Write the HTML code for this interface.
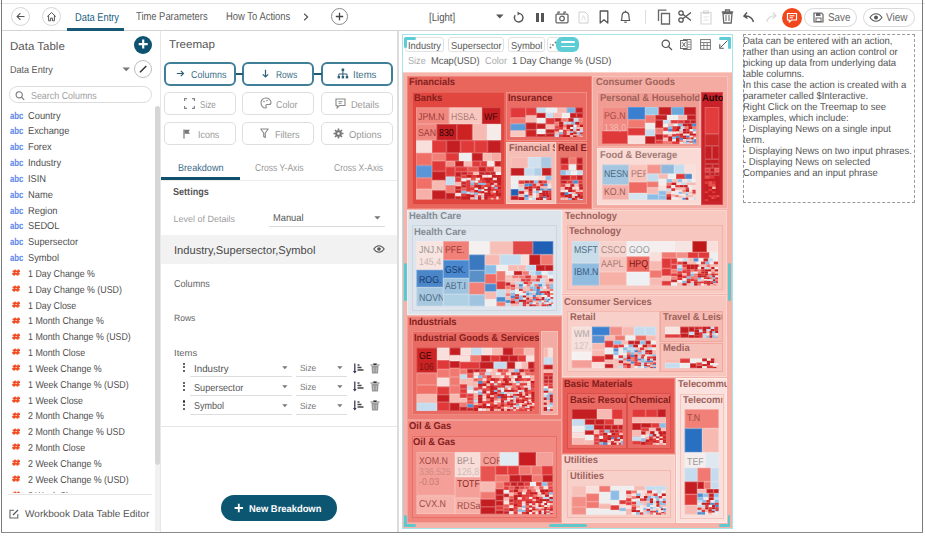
<!DOCTYPE html>
<html><head><meta charset="utf-8">
<style>
*{box-sizing:border-box;margin:0;padding:0}
html,body{width:925px;height:536px;overflow:hidden;background:#fff;font-family:"Liberation Sans",sans-serif;color:#444}
.a{position:absolute}
.t{position:absolute;white-space:nowrap;line-height:1;transform-origin:0 0;text-rendering:geometricPrecision}
svg{overflow:visible}
</style></head><body>

<div class="a" style="left:0.0px;top:3.0px;width:925.0px;height:1.0px;background:#e4e4e4;"></div>
<div class="a" style="left:1.0px;top:0.0px;width:1.0px;height:533.0px;background:#7a7a7a;"></div>
<div class="a" style="left:922.0px;top:0.0px;width:1.0px;height:533.0px;background:#7a7a7a;"></div>
<div class="a" style="left:1.0px;top:532.0px;width:922.0px;height:1.0px;background:#8a8a8a;"></div>
<div class="a" style="left:2.0px;top:30.0px;width:920.0px;height:1.0px;background:#d4d4d4;"></div>
<div class="a" style="left:11.0px;top:7.0px;width:19.0px;height:19.0px;border:1px solid #d6d6d6;border-radius:50%;"></div>
<div class="a" style="left:42.0px;top:7.0px;width:19.0px;height:19.0px;border:1px solid #d6d6d6;border-radius:50%;"></div>
<svg class="a" style="left:14px;top:10px;" width="13" height="13" viewBox="0 0 13 13"><path d="M10.5 6.5H3.2M6.4 3.2L3.1 6.5L6.4 9.8" stroke="#555" stroke-width="1.1" fill="none"/></svg>
<svg class="a" style="left:45px;top:10px;" width="13" height="13" viewBox="0 0 13 13"><path d="M2.2 6.6L6.5 2.6L10.8 6.6M3.6 5.4V10.8H5.6V8.1H7.4V10.8H9.4V5.4" stroke="#555" stroke-width="1" fill="none"/></svg>
<div class="t" style="left:74.5px;top:13.00px;font-size:11.30px;color:#20607f;transform:scaleX(0.824);">Data Entry</div>
<div class="a" style="left:67.0px;top:28.0px;width:57.0px;height:3.0px;background:#175874;"></div>
<div class="t" style="left:136.4px;top:12.00px;font-size:11.30px;color:#5a5a5a;transform:scaleX(0.831);">Time Parameters</div>
<div class="t" style="left:225.6px;top:12.00px;font-size:11.30px;color:#5a5a5a;transform:scaleX(0.835);">How To Actions</div>
<svg class="a" style="left:302px;top:12px;" width="8" height="10" viewBox="0 0 8 10"><path d="M2.2 1.8L5.6 5L2.2 8.2" stroke="#555" stroke-width="1.2" fill="none"/></svg>
<div class="a" style="left:331.0px;top:8.0px;width:17.0px;height:17.0px;border:1px solid #8a8a8a;border-radius:50%;"></div>
<svg class="a" style="left:333px;top:10px;" width="13" height="13" viewBox="0 0 13 13"><path d="M6.5 2.8V10.2M2.8 6.5H10.2" stroke="#444" stroke-width="1.3"/></svg>
<div class="t" style="left:429.0px;top:13.00px;font-size:11.30px;color:#555;transform:scaleX(0.851);">[Light]</div>
<svg class="a" style="left:496px;top:14px;" width="8" height="5" viewBox="0 0 8 5"><path d="M0 0.5H7.5L3.75 4.5Z" fill="#555"/></svg>
<svg class="a" style="left:512px;top:11px;" width="13" height="13" viewBox="0 0 13 13"><path d="M3.2 4.2A4.3 4.3 0 1 0 6.5 2.4" stroke="#555" stroke-width="1.4" fill="none"/><path d="M5.5 0.6L8.2 2.6L5.6 4.6Z" fill="#555"/></svg>
<div class="a" style="left:536.4px;top:13.3px;width:2.3px;height:8.7px;background:#555;"></div>
<div class="a" style="left:541.3px;top:13.3px;width:2.3px;height:8.7px;background:#555;"></div>
<svg class="a" style="left:555px;top:11px;" width="14" height="13" viewBox="0 0 14 13"><rect x="1" y="3.2" width="12" height="8.6" rx="1" stroke="#666" stroke-width="1.3" fill="none"/><circle cx="7" cy="7.5" r="2.3" stroke="#666" stroke-width="1.3" fill="none"/><path d="M3 3V1.2H5M9 3V1.2H11" stroke="#666" stroke-width="1.2" fill="none"/></svg>
<svg class="a" style="left:578px;top:11px;" width="11" height="13" viewBox="0 0 11 13"><path d="M1 1H7L10 4V12H1Z" stroke="#d0d0d0" stroke-width="1" fill="none"/><path d="M3.5 9.5L5.5 4.5L7.5 9.5" stroke="#d8d8d8" stroke-width="0.8" fill="none"/></svg>
<svg class="a" style="left:599px;top:10px;" width="10" height="14" viewBox="0 0 10 14"><path d="M1.2 1H8.8V13L5 9.8L1.2 13Z" stroke="#555" stroke-width="1.3" fill="none" stroke-linejoin="round"/></svg>
<svg class="a" style="left:619px;top:10px;" width="13" height="14" viewBox="0 0 13 14"><path d="M2.2 10.5C3 9.5 3 8 3 6.5C3 4 4.5 2.2 6.5 2.2C8.5 2.2 10 4 10 6.5C10 8 10 9.5 10.8 10.5Z" stroke="#555" stroke-width="1.2" fill="none" stroke-linejoin="round"/><path d="M5.3 12.2H7.7" stroke="#555" stroke-width="1.2"/><path d="M6.5 0.6V2" stroke="#555" stroke-width="1.2"/></svg>
<div class="a" style="left:645.0px;top:10.0px;width:1.0px;height:14.0px;background:#dedede;"></div>
<svg class="a" style="left:657px;top:9px;" width="14" height="16" viewBox="0 0 14 16"><path d="M4.5 4.5H12.5V15H4.5Z" stroke="#666" stroke-width="1.3" fill="none"/><path d="M1.5 12V1.2H9.5" stroke="#666" stroke-width="1.3" fill="none"/></svg>
<svg class="a" style="left:678px;top:10px;" width="14" height="13" viewBox="0 0 14 13"><circle cx="3" cy="3" r="2.2" stroke="#555" stroke-width="1.3" fill="none"/><circle cx="3" cy="10" r="2.2" stroke="#555" stroke-width="1.3" fill="none"/><path d="M4.8 4.3L13 10.5M4.8 8.7L13 2.5" stroke="#555" stroke-width="1.3"/></svg>
<svg class="a" style="left:700px;top:10px;" width="12" height="15" viewBox="0 0 12 15"><path d="M1 2.5H11V14H1Z" stroke="#d6d6d6" stroke-width="1.2" fill="none"/><rect x="3.5" y="1" width="5" height="2.5" stroke="#d6d6d6" stroke-width="1" fill="none"/><path d="M3.5 7H8.5M3.5 10H8.5" stroke="#dedede" stroke-width="0.9"/></svg>
<svg class="a" style="left:721px;top:9px;" width="13" height="15" viewBox="0 0 13 15"><path d="M0.8 3H12.2M4.5 3V1H8.5V3M2 4.5L2.8 14H10.2L11 4.5Z" stroke="#666" stroke-width="1.3" fill="none"/><path d="M5 6V12M8 6V12" stroke="#666" stroke-width="1"/></svg>
<svg class="a" style="left:743px;top:11px;" width="13" height="12" viewBox="0 0 13 12"><path d="M4 1.5L1 5L4.5 7.5M1.5 5C6 4.5 9 6 10.5 11" stroke="#555" stroke-width="1.5" fill="none"/></svg>
<svg class="a" style="left:764px;top:11px;" width="13" height="12" viewBox="0 0 13 12"><path d="M9 1.5L12 5L8.5 7.5M11.5 5C7 4.5 4 6 2.5 11" stroke="#dadada" stroke-width="1.3" fill="none"/></svg>
<div class="a" style="left:781.5px;top:7.5px;width:20.5px;height:20.5px;background:#f1471b;border-radius:50%;"></div>
<svg class="a" style="left:785px;top:11px;" width="14" height="14" viewBox="0 0 14 14"><path d="M2.5 2.5H11.5V9H6.5L4.3 11.2V9H2.5Z" stroke="#fff" stroke-width="1.2" fill="none" stroke-linejoin="round"/><path d="M4.5 4.8H9.5M4.5 6.8H8" stroke="#fff" stroke-width="1"/></svg>
<div class="a" style="left:803.5px;top:8.0px;width:53.5px;height:19.0px;border:1px solid #d9d9d9;border-radius:10px;"></div>
<svg class="a" style="left:813px;top:12px;" width="11" height="11" viewBox="0 0 11 11"><path d="M1 1H8.5L10 2.5V10H1Z" stroke="#666" stroke-width="1.2" fill="none"/><rect x="3" y="1" width="4.5" height="3" fill="#666"/><rect x="3" y="6" width="5" height="3.5" stroke="#666" stroke-width="1" fill="none"/></svg>
<div class="t" style="left:828.0px;top:13.00px;font-size:11.30px;color:#666;transform:scaleX(0.874);">Save</div>
<div class="a" style="left:862.5px;top:8.0px;width:52.5px;height:19.0px;border:1px solid #d9d9d9;border-radius:10px;"></div>
<svg class="a" style="left:869px;top:13px;" width="14" height="9" viewBox="0 0 14 9"><path d="M1 4.5C3 1.5 5 0.8 7 0.8C9 0.8 11 1.5 13 4.5C11 7.5 9 8.2 7 8.2C5 8.2 3 7.5 1 4.5Z" stroke="#555" stroke-width="1.1" fill="none"/><circle cx="7" cy="4.5" r="2" fill="#555"/></svg>
<div class="t" style="left:886.0px;top:13.00px;font-size:11.30px;color:#666;transform:scaleX(0.885);">View</div>
<div class="t" style="left:10.2px;top:42.00px;font-size:11.30px;color:#555;transform:scaleX(1.018);">Data Table</div>
<div class="a" style="left:134.3px;top:35.5px;width:18.0px;height:18.0px;background:#0e5272;border-radius:50%;"></div>
<svg class="a" style="left:134px;top:35px;" width="18" height="18" viewBox="0 0 18 18"><path d="M9.2 4.6V13.6M4.7 9.1H13.7" stroke="#fff" stroke-width="2.2"/></svg>
<div class="t" style="left:10.4px;top:66.00px;font-size:10.00px;color:#555;transform:scaleX(0.904);">Data Entry</div>
<svg class="a" style="left:122px;top:67px;" width="9" height="5" viewBox="0 0 9 5"><path d="M0.5 0.5H8L4.25 4.3Z" fill="#777"/></svg>
<div class="a" style="left:134.3px;top:60.2px;width:18.0px;height:18.0px;border:1px solid #bdbdbd;border-radius:50%;"></div>
<svg class="a" style="left:134px;top:60px;" width="18" height="18" viewBox="0 0 18 18"><path d="M6 12.3L12.3 6" stroke="#333" stroke-width="1.5"/><path d="M6 12.3L5.6 12.8" stroke="#d88a3a" stroke-width="1"/></svg>
<div class="a" style="left:9.3px;top:85.5px;width:142.7px;height:17.5px;border:1px solid #dcdcdc;border-radius:9px;"></div>
<svg class="a" style="left:15px;top:91px;" width="11" height="9" viewBox="0 0 11 9"><circle cx="4.2" cy="3.8" r="3.1" stroke="#777" stroke-width="1.1" fill="none"/><path d="M6.5 6.1L9.2 8.8" stroke="#777" stroke-width="1.2"/></svg>
<div class="t" style="left:31.0px;top:92.00px;font-size:10.00px;color:#a0a0a0;transform:scaleX(0.889);">Search Columns</div>
<div class="t" style="left:9.9px;top:112.00px;font-size:10.00px;color:#5a86ea;font-weight:bold;transform:scaleX(0.772);">abc</div>
<div class="t" style="left:27.8px;top:112.00px;font-size:10.00px;color:#4e4e4e;transform:scaleX(0.930);">Country</div>
<div class="t" style="left:9.9px;top:127.00px;font-size:10.00px;color:#5a86ea;font-weight:bold;transform:scaleX(0.772);">abc</div>
<div class="t" style="left:27.8px;top:127.00px;font-size:10.00px;color:#4e4e4e;transform:scaleX(0.930);">Exchange</div>
<div class="t" style="left:9.9px;top:143.00px;font-size:10.00px;color:#5a86ea;font-weight:bold;transform:scaleX(0.772);">abc</div>
<div class="t" style="left:27.8px;top:143.00px;font-size:10.00px;color:#4e4e4e;transform:scaleX(0.930);">Forex</div>
<div class="t" style="left:9.9px;top:159.00px;font-size:10.00px;color:#5a86ea;font-weight:bold;transform:scaleX(0.772);">abc</div>
<div class="t" style="left:27.8px;top:159.00px;font-size:10.00px;color:#4e4e4e;transform:scaleX(0.930);">Industry</div>
<div class="t" style="left:9.9px;top:175.00px;font-size:10.00px;color:#5a86ea;font-weight:bold;transform:scaleX(0.772);">abc</div>
<div class="t" style="left:27.8px;top:175.00px;font-size:10.00px;color:#4e4e4e;transform:scaleX(0.930);">ISIN</div>
<div class="t" style="left:9.9px;top:191.00px;font-size:10.00px;color:#5a86ea;font-weight:bold;transform:scaleX(0.772);">abc</div>
<div class="t" style="left:27.8px;top:191.00px;font-size:10.00px;color:#4e4e4e;transform:scaleX(0.930);">Name</div>
<div class="t" style="left:9.9px;top:207.00px;font-size:10.00px;color:#5a86ea;font-weight:bold;transform:scaleX(0.772);">abc</div>
<div class="t" style="left:27.8px;top:207.00px;font-size:10.00px;color:#4e4e4e;transform:scaleX(0.930);">Region</div>
<div class="t" style="left:9.9px;top:222.00px;font-size:10.00px;color:#5a86ea;font-weight:bold;transform:scaleX(0.772);">abc</div>
<div class="t" style="left:27.8px;top:222.00px;font-size:10.00px;color:#4e4e4e;transform:scaleX(0.930);">SEDOL</div>
<div class="t" style="left:9.9px;top:238.00px;font-size:10.00px;color:#5a86ea;font-weight:bold;transform:scaleX(0.772);">abc</div>
<div class="t" style="left:27.8px;top:238.00px;font-size:10.00px;color:#4e4e4e;transform:scaleX(0.930);">Supersector</div>
<div class="t" style="left:9.9px;top:254.00px;font-size:10.00px;color:#5a86ea;font-weight:bold;transform:scaleX(0.772);">abc</div>
<div class="t" style="left:27.8px;top:254.00px;font-size:10.00px;color:#4e4e4e;transform:scaleX(0.930);">Symbol</div>
<svg class="a" style="left:12px;top:269.2px;" width="9" height="8" viewBox="0 0 9 8"><path d="M3.2 0.6L1.9 6.6M6.6 0.6L5.3 6.6M0.6 2.3H8M0.2 4.9H7.6" stroke="#f34a22" stroke-width="1.7" fill="none"/></svg>
<div class="t" style="left:28.2px;top:270.00px;font-size:10.00px;color:#4e4e4e;transform:scaleX(0.885);">1 Day Change %</div>
<svg class="a" style="left:12px;top:285.0px;" width="9" height="8" viewBox="0 0 9 8"><path d="M3.2 0.6L1.9 6.6M6.6 0.6L5.3 6.6M0.6 2.3H8M0.2 4.9H7.6" stroke="#f34a22" stroke-width="1.7" fill="none"/></svg>
<div class="t" style="left:28.2px;top:286.00px;font-size:10.00px;color:#4e4e4e;transform:scaleX(0.885);">1 Day Change % (USD)</div>
<svg class="a" style="left:12px;top:300.9px;" width="9" height="8" viewBox="0 0 9 8"><path d="M3.2 0.6L1.9 6.6M6.6 0.6L5.3 6.6M0.6 2.3H8M0.2 4.9H7.6" stroke="#f34a22" stroke-width="1.7" fill="none"/></svg>
<div class="t" style="left:28.2px;top:302.00px;font-size:10.00px;color:#4e4e4e;transform:scaleX(0.885);">1 Day Close</div>
<svg class="a" style="left:12px;top:316.7px;" width="9" height="8" viewBox="0 0 9 8"><path d="M3.2 0.6L1.9 6.6M6.6 0.6L5.3 6.6M0.6 2.3H8M0.2 4.9H7.6" stroke="#f34a22" stroke-width="1.7" fill="none"/></svg>
<div class="t" style="left:28.2px;top:317.00px;font-size:10.00px;color:#4e4e4e;transform:scaleX(0.885);">1 Month Change %</div>
<svg class="a" style="left:12px;top:332.5px;" width="9" height="8" viewBox="0 0 9 8"><path d="M3.2 0.6L1.9 6.6M6.6 0.6L5.3 6.6M0.6 2.3H8M0.2 4.9H7.6" stroke="#f34a22" stroke-width="1.7" fill="none"/></svg>
<div class="t" style="left:28.2px;top:333.00px;font-size:10.00px;color:#4e4e4e;transform:scaleX(0.885);">1 Month Change % (USD)</div>
<svg class="a" style="left:12px;top:348.4px;" width="9" height="8" viewBox="0 0 9 8"><path d="M3.2 0.6L1.9 6.6M6.6 0.6L5.3 6.6M0.6 2.3H8M0.2 4.9H7.6" stroke="#f34a22" stroke-width="1.7" fill="none"/></svg>
<div class="t" style="left:28.2px;top:349.00px;font-size:10.00px;color:#4e4e4e;transform:scaleX(0.885);">1 Month Close</div>
<svg class="a" style="left:12px;top:364.2px;" width="9" height="8" viewBox="0 0 9 8"><path d="M3.2 0.6L1.9 6.6M6.6 0.6L5.3 6.6M0.6 2.3H8M0.2 4.9H7.6" stroke="#f34a22" stroke-width="1.7" fill="none"/></svg>
<div class="t" style="left:28.2px;top:365.00px;font-size:10.00px;color:#4e4e4e;transform:scaleX(0.885);">1 Week Change %</div>
<svg class="a" style="left:12px;top:380.0px;" width="9" height="8" viewBox="0 0 9 8"><path d="M3.2 0.6L1.9 6.6M6.6 0.6L5.3 6.6M0.6 2.3H8M0.2 4.9H7.6" stroke="#f34a22" stroke-width="1.7" fill="none"/></svg>
<div class="t" style="left:28.2px;top:381.00px;font-size:10.00px;color:#4e4e4e;transform:scaleX(0.885);">1 Week Change % (USD)</div>
<svg class="a" style="left:12px;top:395.8px;" width="9" height="8" viewBox="0 0 9 8"><path d="M3.2 0.6L1.9 6.6M6.6 0.6L5.3 6.6M0.6 2.3H8M0.2 4.9H7.6" stroke="#f34a22" stroke-width="1.7" fill="none"/></svg>
<div class="t" style="left:28.2px;top:397.00px;font-size:10.00px;color:#4e4e4e;transform:scaleX(0.885);">1 Week Close</div>
<svg class="a" style="left:12px;top:411.7px;" width="9" height="8" viewBox="0 0 9 8"><path d="M3.2 0.6L1.9 6.6M6.6 0.6L5.3 6.6M0.6 2.3H8M0.2 4.9H7.6" stroke="#f34a22" stroke-width="1.7" fill="none"/></svg>
<div class="t" style="left:28.2px;top:412.00px;font-size:10.00px;color:#4e4e4e;transform:scaleX(0.885);">2 Month Change %</div>
<svg class="a" style="left:12px;top:427.5px;" width="9" height="8" viewBox="0 0 9 8"><path d="M3.2 0.6L1.9 6.6M6.6 0.6L5.3 6.6M0.6 2.3H8M0.2 4.9H7.6" stroke="#f34a22" stroke-width="1.7" fill="none"/></svg>
<div class="t" style="left:28.2px;top:428.00px;font-size:10.00px;color:#4e4e4e;transform:scaleX(0.885);">2 Month Change % USD</div>
<svg class="a" style="left:12px;top:443.3px;" width="9" height="8" viewBox="0 0 9 8"><path d="M3.2 0.6L1.9 6.6M6.6 0.6L5.3 6.6M0.6 2.3H8M0.2 4.9H7.6" stroke="#f34a22" stroke-width="1.7" fill="none"/></svg>
<div class="t" style="left:28.2px;top:444.00px;font-size:10.00px;color:#4e4e4e;transform:scaleX(0.885);">2 Month Close</div>
<svg class="a" style="left:12px;top:459.2px;" width="9" height="8" viewBox="0 0 9 8"><path d="M3.2 0.6L1.9 6.6M6.6 0.6L5.3 6.6M0.6 2.3H8M0.2 4.9H7.6" stroke="#f34a22" stroke-width="1.7" fill="none"/></svg>
<div class="t" style="left:28.2px;top:460.00px;font-size:10.00px;color:#4e4e4e;transform:scaleX(0.885);">2 Week Change %</div>
<svg class="a" style="left:12px;top:475.0px;" width="9" height="8" viewBox="0 0 9 8"><path d="M3.2 0.6L1.9 6.6M6.6 0.6L5.3 6.6M0.6 2.3H8M0.2 4.9H7.6" stroke="#f34a22" stroke-width="1.7" fill="none"/></svg>
<div class="t" style="left:28.2px;top:476.00px;font-size:10.00px;color:#4e4e4e;transform:scaleX(0.885);">2 Week Change % (USD)</div>
<div class="a" style="left:3px;top:486px;width:150px;height:7px;overflow:hidden"><svg class="a" style="left:9px;top:4.8px" width="9" height="8" viewBox="0 0 9 8"><path d="M3.2 0.6L1.9 6.6M6.6 0.6L5.3 6.6M0.6 2.3H8M0.2 4.9H7.6" stroke="#f34a22" stroke-width="1.7" fill="none"/></svg><div class="t" style="left:25.2px;top:6px;font-size:9.855px;color:#555;transform:scaleX(0.885)">2 Week Close</div></div>
<div class="a" style="left:154.5px;top:465.0px;width:5.0px;height:65.5px;background:#f1f1f1;"></div>
<div class="a" style="left:154.5px;top:106.4px;width:5.0px;height:359.1px;background:#d6d6d6;border-radius:2.5px;"></div>
<div class="a" style="left:8.0px;top:493.5px;width:144.0px;height:1.0px;background:#e6e6e6;"></div>
<svg class="a" style="left:9px;top:509px;" width="10" height="10" viewBox="0 0 10 10"><path d="M5 1.2H1V9H8.8V5" stroke="#666" stroke-width="1.1" fill="none"/><path d="M4 6L9 1" stroke="#555" stroke-width="1.2"/></svg>
<div class="t" style="left:25.1px;top:510.00px;font-size:10.00px;color:#555;">Workbook Data Table Editor</div>
<div class="a" style="left:160.0px;top:31.0px;width:1.0px;height:501.0px;background:#e8e8e8;"></div>
<div class="a" style="left:397.0px;top:31.0px;width:2.0px;height:501.0px;background:#dcdcdc;"></div>
<div class="t" style="left:169.2px;top:40.00px;font-size:11.30px;color:#555;transform:scaleX(1.027);">Treemap</div>
<div class="a" style="left:164.2px;top:61.5px;width:71.6px;height:24.0px;border:2px solid #3f7f98;border-radius:6px;"></div>
<div class="t" style="left:190.6px;top:71.00px;font-size:10.00px;color:#3b6f86;transform:scaleX(0.897);">Columns</div>
<div class="a" style="left:242.1px;top:61.5px;width:72.3px;height:24.0px;border:2px solid #3f7f98;border-radius:6px;"></div>
<div class="t" style="left:276.0px;top:71.00px;font-size:10.00px;color:#3b6f86;transform:scaleX(0.844);">Rows</div>
<div class="a" style="left:321.0px;top:61.5px;width:71.6px;height:24.0px;border:2px solid #3f7f98;border-radius:6px;"></div>
<div class="t" style="left:353.3px;top:71.00px;font-size:10.00px;color:#3b6f86;transform:scaleX(0.957);">Items</div>
<div class="a" style="left:235.5px;top:72.5px;width:7.0px;height:2.0px;background:#1f5a72;"></div>
<div class="a" style="left:314.0px;top:72.5px;width:7.5px;height:2.0px;background:#1f5a72;"></div>
<svg class="a" style="left:176px;top:69px;" width="9" height="9" viewBox="0 0 9 9"><path d="M0.8 4.5H7.5M4.8 1.8L7.5 4.5L4.8 7.2" stroke="#2f5f75" stroke-width="1.2" fill="none"/></svg>
<svg class="a" style="left:261px;top:69px;" width="9" height="10" viewBox="0 0 9 10"><path d="M4.5 0.8V8M1.8 5.3L4.5 8L7.2 5.3" stroke="#2f5f75" stroke-width="1.2" fill="none"/></svg>
<svg class="a" style="left:337px;top:68px;" width="12" height="11" viewBox="0 0 12 11"><rect x="4.6" y="0.5" width="2.6" height="2.6" fill="#2f5f75"/><path d="M5.9 3V6M1.8 8V6H10V8M5.9 6V8" stroke="#2f5f75" stroke-width="1" fill="none"/><rect x="0.6" y="8" width="2.4" height="2.4" fill="#2f5f75"/><rect x="4.7" y="8" width="2.4" height="2.4" fill="#2f5f75"/><rect x="8.8" y="8" width="2.4" height="2.4" fill="#2f5f75"/></svg>
<div class="a" style="left:164.2px;top:92.3px;width:71.6px;height:23.1px;border:1px solid #dedede;border-radius:5px;"></div>
<div class="a" style="left:164.2px;top:122.2px;width:71.6px;height:23.1px;border:1px solid #dedede;border-radius:5px;"></div>
<div class="a" style="left:242.1px;top:92.3px;width:72.3px;height:23.1px;border:1px solid #dedede;border-radius:5px;"></div>
<div class="a" style="left:242.1px;top:122.2px;width:72.3px;height:23.1px;border:1px solid #dedede;border-radius:5px;"></div>
<div class="a" style="left:321.0px;top:92.3px;width:71.6px;height:23.1px;border:1px solid #dedede;border-radius:5px;"></div>
<div class="a" style="left:321.0px;top:122.2px;width:71.6px;height:23.1px;border:1px solid #dedede;border-radius:5px;"></div>
<div class="t" style="left:200.1px;top:101.00px;font-size:10.00px;color:#9a9a9a;transform:scaleX(0.817);">Size</div>
<div class="t" style="left:276.0px;top:101.00px;font-size:10.00px;color:#9a9a9a;transform:scaleX(0.895);">Color</div>
<div class="t" style="left:351.2px;top:101.00px;font-size:10.00px;color:#9a9a9a;transform:scaleX(0.916);">Details</div>
<div class="t" style="left:197.5px;top:131.00px;font-size:10.00px;color:#9a9a9a;transform:scaleX(0.891);">Icons</div>
<div class="t" style="left:274.6px;top:131.00px;font-size:10.00px;color:#9a9a9a;transform:scaleX(0.904);">Filters</div>
<div class="t" style="left:349.0px;top:131.00px;font-size:10.00px;color:#9a9a9a;transform:scaleX(0.943);">Options</div>
<svg class="a" style="left:184px;top:98px;" width="11" height="11" viewBox="0 0 11 11"><path d="M0.6 3V0.6H3M8 0.6H10.4V3M10.4 8V10.4H8M3 10.4H0.6V8" stroke="#888" stroke-width="1.2" fill="none"/></svg>
<svg class="a" style="left:260px;top:97px;" width="12" height="12" viewBox="0 0 12 12"><path d="M6 1C3 1 1 3.2 1 6C1 8.8 3 11 5.5 11C6.5 11 6.5 10 6 9.2C5.5 8.2 6.3 7.5 7.3 7.5H9C10.3 7.5 11 6.8 11 5.5C11 3 8.8 1 6 1Z" stroke="#888" stroke-width="1.1" fill="none"/><circle cx="4" cy="4.5" r="0.8" fill="#888"/><circle cx="7" cy="3.5" r="0.8" fill="#888"/></svg>
<svg class="a" style="left:335px;top:98px;" width="11" height="11" viewBox="0 0 11 11"><path d="M1 1H10V7.5H4.5L2.2 9.8V7.5H1Z" stroke="#888" stroke-width="1.1" fill="none"/><path d="M3.5 3.6H7.5M3.5 5.3H6.5" stroke="#888" stroke-width="0.9"/></svg>
<svg class="a" style="left:183px;top:129px;" width="8" height="10" viewBox="0 0 8 10"><path d="M1 0.5V9.5" stroke="#777" stroke-width="1.2"/><path d="M1.5 0.8H7L5.5 2.8L7 4.8H1.5Z" fill="#777"/></svg>
<svg class="a" style="left:260px;top:128px;" width="9" height="11" viewBox="0 0 9 11"><path d="M0.8 1H8.2L5.3 5V9.5L3.7 8.5V5Z" stroke="#888" stroke-width="1.1" fill="none" stroke-linejoin="round"/></svg>
<svg class="a" style="left:333px;top:128px;" width="11" height="11" viewBox="0 0 11 11"><circle cx="5.5" cy="5.5" r="3.2" fill="#777"/><circle cx="5.5" cy="5.5" r="1.2" fill="#fff"/><path d="M5.5 0.5V10.5M0.5 5.5H10.5M2 2L9 9M9 2L2 9" stroke="#777" stroke-width="1.6"/><circle cx="5.5" cy="5.5" r="1.2" fill="#fff"/></svg>
<div class="t" style="left:177.6px;top:164.00px;font-size:10.00px;color:#3a6a88;transform:scaleX(0.911);">Breakdown</div>
<div class="t" style="left:254.9px;top:164.00px;font-size:10.00px;color:#9a9a9a;transform:scaleX(0.857);">Cross Y-Axis</div>
<div class="t" style="left:333.5px;top:164.00px;font-size:10.00px;color:#9a9a9a;transform:scaleX(0.850);">Cross X-Axis</div>
<div class="a" style="left:161.0px;top:179.5px;width:236.0px;height:1.0px;background:#ececec;"></div>
<div class="a" style="left:161.0px;top:177.2px;width:79.1px;height:2.6px;background:#10506c;"></div>
<div class="t" style="left:173.4px;top:188.00px;font-size:10.00px;color:#555;font-weight:bold;transform:scaleX(0.907);">Settings</div>
<div class="t" style="left:173.4px;top:215.00px;font-size:9.00px;color:#a0a0a0;">Level of Details</div>
<div class="t" style="left:272.7px;top:214.00px;font-size:10.00px;color:#555;transform:scaleX(0.930);">Manual</div>
<svg class="a" style="left:374px;top:216px;" width="7" height="4" viewBox="0 0 7 4"><path d="M0.3 0.3H6.5L3.4 3.4Z" fill="#777"/></svg>
<div class="a" style="left:268.5px;top:226.0px;width:116.1px;height:1.0px;background:#dcdcdc;"></div>
<div class="a" style="left:161.0px;top:234.7px;width:236.0px;height:29.5px;background:#f2f2f2;"></div>
<div class="t" style="left:173.5px;top:246.00px;font-size:11.30px;color:#4a4a4a;transform:scaleX(0.985);">Industry,Supersector,Symbol</div>
<svg class="a" style="left:373px;top:245px;" width="12" height="8" viewBox="0 0 12 8"><path d="M0.8 4C2.5 1.5 4.3 0.7 6 0.7C7.7 0.7 9.5 1.5 11.2 4C9.5 6.5 7.7 7.3 6 7.3C4.3 7.3 2.5 6.5 0.8 4Z" stroke="#555" stroke-width="1.1" fill="none"/><circle cx="6" cy="4" r="1.8" fill="#555"/></svg>
<div class="t" style="left:173.5px;top:280.00px;font-size:10.00px;color:#666;transform:scaleX(0.907);">Columns</div>
<div class="t" style="left:173.6px;top:314.00px;font-size:9.00px;color:#666;transform:scaleX(0.951);">Rows</div>
<div class="t" style="left:173.6px;top:349.00px;font-size:9.00px;color:#666;transform:scaleX(1.054);">Items</div>
<div class="a" style="left:182.8px;top:362.7px;width:2.2px;height:2.2px;background:#333;border-radius:50%;"></div>
<div class="a" style="left:182.8px;top:366.3px;width:2.2px;height:2.2px;background:#333;border-radius:50%;"></div>
<div class="a" style="left:182.8px;top:369.9px;width:2.2px;height:2.2px;background:#333;border-radius:50%;"></div>
<div class="t" style="left:194.0px;top:365.00px;font-size:10.00px;color:#555;transform:scaleX(0.975);">Industry</div>
<svg class="a" style="left:282px;top:366.3px;" width="6" height="4" viewBox="0 0 6 4"><path d="M0.2 0.2H5.5L2.85 3.2Z" fill="#777"/></svg>
<div class="a" style="left:190.3px;top:375.9px;width:101.3px;height:1.0px;background:#dddddd;"></div>
<div class="t" style="left:300.1px;top:364.00px;font-size:9.00px;color:#747474;transform:scaleX(0.925);">Size</div>
<svg class="a" style="left:337.3px;top:366.3px;" width="6" height="4" viewBox="0 0 6 4"><path d="M0.2 0.2H5.5L2.85 3.2Z" fill="#777"/></svg>
<div class="a" style="left:296.3px;top:375.9px;width:51.1px;height:1.0px;background:#dddddd;"></div>
<svg class="a" style="left:352.5px;top:362.5px;" width="12" height="11" viewBox="0 0 12 11"><path d="M1.8 0.5V9.5" stroke="#3a3a5a" stroke-width="1.3"/><path d="M0 8L1.8 10.5L3.6 8Z" fill="#3a3a5a"/><path d="M4.5 2H6.5M4.5 4.5H8.5M4.5 7H10.5" stroke="#444" stroke-width="1.3"/></svg>
<svg class="a" style="left:370px;top:362.5px;" width="10" height="11" viewBox="0 0 10 11"><path d="M0.5 2H9.5" stroke="#888" stroke-width="1.2"/><path d="M3.5 1.8V0.6H6.5V1.8" stroke="#888" stroke-width="1"/><path d="M1.5 3H8.5L8 10.5H2Z" fill="#9a9a9a"/><path d="M3.7 4.5V9M6.3 4.5V9" stroke="#d0d0d0" stroke-width="0.7"/></svg>
<div class="a" style="left:182.8px;top:381.6px;width:2.2px;height:2.2px;background:#333;border-radius:50%;"></div>
<div class="a" style="left:182.8px;top:385.2px;width:2.2px;height:2.2px;background:#333;border-radius:50%;"></div>
<div class="a" style="left:182.8px;top:388.8px;width:2.2px;height:2.2px;background:#333;border-radius:50%;"></div>
<div class="t" style="left:194.0px;top:384.00px;font-size:10.00px;color:#555;transform:scaleX(0.914);">Supersector</div>
<svg class="a" style="left:282px;top:385.15000000000003px;" width="6" height="4" viewBox="0 0 6 4"><path d="M0.2 0.2H5.5L2.85 3.2Z" fill="#777"/></svg>
<div class="a" style="left:190.3px;top:394.8px;width:101.3px;height:1.0px;background:#dddddd;"></div>
<div class="t" style="left:300.1px;top:383.00px;font-size:9.00px;color:#747474;transform:scaleX(0.925);">Size</div>
<svg class="a" style="left:337.3px;top:385.15000000000003px;" width="6" height="4" viewBox="0 0 6 4"><path d="M0.2 0.2H5.5L2.85 3.2Z" fill="#777"/></svg>
<div class="a" style="left:296.3px;top:394.8px;width:51.1px;height:1.0px;background:#dddddd;"></div>
<svg class="a" style="left:352.5px;top:381.35px;" width="12" height="11" viewBox="0 0 12 11"><path d="M1.8 0.5V9.5" stroke="#3a3a5a" stroke-width="1.3"/><path d="M0 8L1.8 10.5L3.6 8Z" fill="#3a3a5a"/><path d="M4.5 2H6.5M4.5 4.5H8.5M4.5 7H10.5" stroke="#444" stroke-width="1.3"/></svg>
<svg class="a" style="left:370px;top:381.35px;" width="10" height="11" viewBox="0 0 10 11"><path d="M0.5 2H9.5" stroke="#888" stroke-width="1.2"/><path d="M3.5 1.8V0.6H6.5V1.8" stroke="#888" stroke-width="1"/><path d="M1.5 3H8.5L8 10.5H2Z" fill="#9a9a9a"/><path d="M3.7 4.5V9M6.3 4.5V9" stroke="#d0d0d0" stroke-width="0.7"/></svg>
<div class="a" style="left:182.8px;top:400.4px;width:2.2px;height:2.2px;background:#333;border-radius:50%;"></div>
<div class="a" style="left:182.8px;top:404.0px;width:2.2px;height:2.2px;background:#333;border-radius:50%;"></div>
<div class="a" style="left:182.8px;top:407.6px;width:2.2px;height:2.2px;background:#333;border-radius:50%;"></div>
<div class="t" style="left:194.0px;top:402.00px;font-size:10.00px;color:#555;transform:scaleX(0.900);">Symbol</div>
<svg class="a" style="left:282px;top:404.0px;" width="6" height="4" viewBox="0 0 6 4"><path d="M0.2 0.2H5.5L2.85 3.2Z" fill="#777"/></svg>
<div class="a" style="left:190.3px;top:413.6px;width:101.3px;height:1.0px;background:#dddddd;"></div>
<div class="t" style="left:300.1px;top:402.00px;font-size:9.00px;color:#747474;transform:scaleX(0.925);">Size</div>
<svg class="a" style="left:337.3px;top:404.0px;" width="6" height="4" viewBox="0 0 6 4"><path d="M0.2 0.2H5.5L2.85 3.2Z" fill="#777"/></svg>
<div class="a" style="left:296.3px;top:413.6px;width:51.1px;height:1.0px;background:#dddddd;"></div>
<svg class="a" style="left:352.5px;top:400.2px;" width="12" height="11" viewBox="0 0 12 11"><path d="M1.8 0.5V9.5" stroke="#3a3a5a" stroke-width="1.3"/><path d="M0 8L1.8 10.5L3.6 8Z" fill="#3a3a5a"/><path d="M4.5 2H6.5M4.5 4.5H8.5M4.5 7H10.5" stroke="#444" stroke-width="1.3"/></svg>
<svg class="a" style="left:370px;top:400.2px;" width="10" height="11" viewBox="0 0 10 11"><path d="M0.5 2H9.5" stroke="#888" stroke-width="1.2"/><path d="M3.5 1.8V0.6H6.5V1.8" stroke="#888" stroke-width="1"/><path d="M1.5 3H8.5L8 10.5H2Z" fill="#9a9a9a"/><path d="M3.7 4.5V9M6.3 4.5V9" stroke="#d0d0d0" stroke-width="0.7"/></svg>
<div class="a" style="left:161.0px;top:426.2px;width:236.0px;height:1.0px;background:#e6e6e6;"></div>
<div class="a" style="left:220.6px;top:495.3px;width:116.7px;height:25.3px;background:#0d5672;border-radius:13px;"></div>
<svg class="a" style="left:234px;top:503px;" width="10" height="10" viewBox="0 0 10 10"><path d="M4.8 0.8V9.2M0.6 5H9" stroke="#fff" stroke-width="1.8"/></svg>
<div class="t" style="left:249.4px;top:505.00px;font-size:10.00px;color:#ffffff;font-weight:bold;transform:scaleX(0.937);">New Breakdown</div>
<div class="a" style="left:743.0px;top:33.5px;width:171.5px;height:169.0px;border:1px dashed #9a9a9a;"></div>
<div class="t" style="left:743.4px;top:37.00px;font-size:10.00px;color:#555555;transform:scaleX(0.950);">Data can be entered with an action,</div>
<div class="t" style="left:743.4px;top:48.00px;font-size:10.00px;color:#555555;transform:scaleX(0.950);">rather than using an action control or</div>
<div class="t" style="left:743.4px;top:59.00px;font-size:10.00px;color:#555555;transform:scaleX(0.950);">picking up data from underlying data</div>
<div class="t" style="left:743.4px;top:70.00px;font-size:10.00px;color:#555555;transform:scaleX(0.950);">table columns.</div>
<div class="t" style="left:743.4px;top:81.00px;font-size:10.00px;color:#555555;transform:scaleX(0.950);">In this case the action is created with a</div>
<div class="t" style="left:743.4px;top:92.00px;font-size:10.00px;color:#555555;transform:scaleX(0.950);">parameter called $Interactive.</div>
<div class="t" style="left:743.4px;top:103.00px;font-size:10.00px;color:#555555;transform:scaleX(0.950);">Right Click on the Treemap to see</div>
<div class="t" style="left:743.4px;top:114.00px;font-size:10.00px;color:#555555;transform:scaleX(0.950);">examples, which include:</div>
<div class="t" style="left:743.4px;top:125.00px;font-size:10.00px;color:#555555;transform:scaleX(0.950);">- Displaying News on a single input</div>
<div class="t" style="left:743.4px;top:136.00px;font-size:10.00px;color:#555555;transform:scaleX(0.950);">term.</div>
<div class="t" style="left:743.4px;top:147.00px;font-size:10.00px;color:#555555;transform:scaleX(0.950);">- Displaying News on two input phrases.</div>
<div class="t" style="left:743.4px;top:158.00px;font-size:10.00px;color:#555555;transform:scaleX(0.950);">- Displaying News on selected</div>
<div class="t" style="left:743.4px;top:169.00px;font-size:10.00px;color:#555555;transform:scaleX(0.950);">Companies and an input phrase</div>
<div class="a" style="left:401.5px;top:34.0px;width:331.5px;height:495.0px;border:1px solid #a6e4ea;"></div>
<div class="a" style="left:404.5px;top:37.2px;width:39.0px;height:15.0px;border:1px solid #e2e2e2;border-radius:3px;"></div>
<div class="t" style="left:407.5px;top:42.00px;font-size:10.00px;color:#555;transform:scaleX(0.928);">Industry</div>
<div class="a" style="left:448.3px;top:37.2px;width:55.5px;height:15.0px;border:1px solid #e2e2e2;border-radius:3px;"></div>
<div class="t" style="left:450.6px;top:42.00px;font-size:10.00px;color:#555;transform:scaleX(0.938);">Supersector</div>
<div class="a" style="left:508.4px;top:37.2px;width:37.0px;height:15.0px;border:1px solid #e2e2e2;border-radius:3px;"></div>
<div class="t" style="left:511.4px;top:42.00px;font-size:10.00px;color:#555;transform:scaleX(0.942);">Symbol</div>
<div class="a" style="left:547.4px;top:37.2px;width:22.6px;height:15.0px;border:1px solid #e2e2e2;border-radius:3px;"></div>
<svg class="a" style="left:549px;top:41px;" width="8" height="8" viewBox="0 0 8 8"><circle cx="1.5" cy="6.5" r="0.9" fill="#777"/><circle cx="4" cy="4" r="0.9" fill="#777"/><circle cx="6.5" cy="1.5" r="0.9" fill="#777"/><circle cx="1.5" cy="3.5" r="0.7" fill="#aaa"/></svg>
<div class="a" style="left:404.5px;top:36.6px;width:11.7px;height:3.0px;background:#5dcdd5;border-radius:1.5px;"></div>
<div class="a" style="left:404.3px;top:36.6px;width:3.0px;height:11.6px;background:#5dcdd5;border-radius:1.5px;"></div>
<div class="a" style="left:556.0px;top:36.5px;width:23.4px;height:15.6px;background:#5ccdd5;border-radius:6px;"></div>
<div class="a" style="left:560.7px;top:40.8px;width:14.3px;height:1.8px;background:#ffffff;border-radius:1px;"></div>
<div class="a" style="left:560.7px;top:45.6px;width:14.3px;height:1.8px;background:#ffffff;border-radius:1px;"></div>
<div class="t" style="left:408.0px;top:57.00px;font-size:10.00px;color:#ababab;transform:scaleX(0.910);">Size</div>
<div class="t" style="left:431.1px;top:57.00px;font-size:10.00px;color:#555;transform:scaleX(0.932);">Mcap(USD)</div>
<div class="t" style="left:485.0px;top:57.00px;font-size:10.00px;color:#ababab;transform:scaleX(0.921);">Color</div>
<div class="t" style="left:511.8px;top:57.00px;font-size:10.00px;color:#555;transform:scaleX(0.937);">1 Day Change % (USD)</div>
<svg class="a" style="left:661px;top:39px;" width="12" height="12" viewBox="0 0 12 12"><circle cx="4.8" cy="4.8" r="3.7" stroke="#555" stroke-width="1.2" fill="none"/><path d="M7.5 7.5L11 11" stroke="#555" stroke-width="1.3"/></svg>
<svg class="a" style="left:680px;top:38px;" width="12" height="13" viewBox="0 0 12 13"><path d="M3 1.5H11V11.5H3" stroke="#777" stroke-width="1" fill="none"/><rect x="0.6" y="2.5" width="6.5" height="8" fill="#fff" stroke="#666" stroke-width="1"/><path d="M2.2 4.3L5.5 8.8M5.5 4.3L2.2 8.8" stroke="#666" stroke-width="1"/><path d="M8 4H10.5M8 6.5H10.5M8 9H10.5" stroke="#888" stroke-width="0.8"/></svg>
<svg class="a" style="left:699.5px;top:39px;" width="11" height="11" viewBox="0 0 11 11"><rect x="0.6" y="0.6" width="9.8" height="9.8" stroke="#777" stroke-width="1" fill="none"/><path d="M0.6 3.5H10.4M0.6 6.5H10.4M3.8 3.5V10.4M7.2 3.5V10.4" stroke="#777" stroke-width="0.9"/></svg>
<svg class="a" style="left:718px;top:38px;" width="13" height="12" viewBox="0 0 13 12"><path d="M2.5 9.5L9.5 2.5" stroke="#555" stroke-width="1"/><path d="M1.8 6.2V10.2H5.8" stroke="#555" stroke-width="1.1" fill="none"/></svg>
<div class="a" style="left:719.3px;top:36.5px;width:11.3px;height:3.1px;background:#5dcdd5;border-radius:1.5px;"></div>
<div class="a" style="left:727.5px;top:36.5px;width:3.1px;height:12.0px;background:#5dcdd5;border-radius:1.5px;"></div>
<div class="a" style="left:402.5px;top:71.5px;width:329.5px;height:456.9px;background:#f5b3a9;"></div>
<div class="a" style="left:402.5px;top:71.5px;width:329.5px;height:1.0px;background:#f9cfc8;"></div>
<div class="a" style="left:406.6px;top:75.8px;width:185.3px;height:133.6px;background:#e9665d;border:1px solid #ee857d;"></div>
<div class="t" style="left:409.0px;top:78.00px;font-size:10.00px;color:#84201d;font-weight:bold;transform:scaleX(0.94);">Financials</div>
<div class="a" style="left:411.9px;top:91.7px;width:93.3px;height:112.9px;background:#e1463f;border:1px solid #e8625c;"></div>
<div class="t" style="left:413.8px;top:94.00px;font-size:10.00px;color:#84201d;font-weight:bold;transform:scaleX(0.94);">Banks</div>
<div class="a" style="left:505.8px;top:91.8px;width:81.7px;height:48.8px;background:#ea6c64;border:1px solid #ef8d86;"></div>
<div class="t" style="left:507.8px;top:94.00px;font-size:10.00px;color:#84201d;font-weight:bold;transform:scaleX(0.94);">Insurance</div>
<div class="a" style="left:505.8px;top:141.8px;width:50.1px;height:62.6px;background:#f5beb6;border:1px solid #f8d2cc;"></div>
<div class="t" style="left:508.5px;top:144.00px;font-size:10.00px;color:#9a5a55;font-weight:bold;transform:scaleX(0.94);width:48.9px;overflow:hidden;">Financial Services</div>
<div class="a" style="left:556.2px;top:141.8px;width:31.3px;height:62.6px;background:#ea776e;border:1px solid #ef948d;"></div>
<div class="t" style="left:557.8px;top:144.00px;font-size:10.00px;color:#84201d;font-weight:bold;transform:scaleX(0.94);width:30.9px;overflow:hidden;">Real Estate</div>
<div class="a" style="left:592.2px;top:75.8px;width:135.4px;height:133.4px;background:#f4aba1;border:1px solid #f8c3bc;"></div>
<div class="t" style="left:595.5px;top:78.00px;font-size:10.00px;color:#9e625c;font-weight:bold;transform:scaleX(0.94);">Consumer Goods</div>
<div class="a" style="left:597.0px;top:91.8px;width:103.2px;height:54.8px;background:#f19c92;border:1px solid #f5b4ac;"></div>
<div class="t" style="left:599.5px;top:94.00px;font-size:10.00px;color:#9e625c;font-weight:bold;transform:scaleX(0.94);width:106.4px;overflow:hidden;">Personal &amp; Household Goods</div>
<div class="a" style="left:701.2px;top:91.6px;width:21.8px;height:113.0px;background:#c8222a;border:1px solid #d84a50;"></div>
<div class="t" style="left:702.3px;top:94.00px;font-size:10.00px;color:#1e0303;font-weight:bold;transform:scaleX(0.94);width:22.3px;overflow:hidden;">Automobiles</div>
<div class="a" style="left:597.0px;top:148.2px;width:103.5px;height:56.4px;background:#f9dad5;border:1px solid #fbe6e2;"></div>
<div class="t" style="left:599.5px;top:151.00px;font-size:10.00px;color:#a57a76;font-weight:bold;transform:scaleX(0.94);">Food &amp; Beverage</div>
<div class="a" style="left:406.8px;top:209.9px;width:155.0px;height:105.3px;background:#dde4ec;border:1px solid #e9eef4;"></div>
<div class="t" style="left:409.0px;top:212.00px;font-size:10.00px;color:#858c94;font-weight:bold;transform:scaleX(0.94);">Health Care</div>
<div class="a" style="left:411.7px;top:225.3px;width:145.5px;height:85.3px;background:#dee5ed;border:1px solid #ccd6e0;"></div>
<div class="t" style="left:414.0px;top:228.00px;font-size:10.00px;color:#858c94;font-weight:bold;transform:scaleX(0.94);">Health Care</div>
<div class="a" style="left:562.4px;top:210.0px;width:165.0px;height:84.4px;background:#f7c9c1;border:1px solid #f9d8d2;"></div>
<div class="t" style="left:564.6px;top:212.00px;font-size:10.00px;color:#9e625c;font-weight:bold;transform:scaleX(0.94);">Technology</div>
<div class="a" style="left:567.0px;top:225.3px;width:155.6px;height:65.1px;background:#f7c6be;border:1px solid #f2b3aa;"></div>
<div class="t" style="left:569.3px;top:227.00px;font-size:10.00px;color:#9e625c;font-weight:bold;transform:scaleX(0.94);">Technology</div>
<div class="a" style="left:562.3px;top:294.9px;width:165.1px;height:82.5px;background:#f7c7bf;border:1px solid #f9d8d2;"></div>
<div class="t" style="left:563.9px;top:298.00px;font-size:10.00px;color:#9e625c;font-weight:bold;transform:scaleX(0.94);">Consumer Services</div>
<div class="a" style="left:567.2px;top:311.0px;width:92.4px;height:61.1px;background:#f8d0c9;border:1px solid #f3b8b0;"></div>
<div class="t" style="left:569.8px;top:313.00px;font-size:10.00px;color:#9e625c;font-weight:bold;transform:scaleX(0.94);">Retail</div>
<div class="a" style="left:660.4px;top:311.0px;width:62.6px;height:30.6px;background:#f5bab1;border:1px solid #f0a79e;"></div>
<div class="t" style="left:662.5px;top:313.00px;font-size:10.00px;color:#9e625c;font-weight:bold;transform:scaleX(0.94);width:62.8px;overflow:hidden;">Travel &amp; Leisure</div>
<div class="a" style="left:660.2px;top:342.6px;width:62.8px;height:29.5px;background:#f6c1b9;border:1px solid #f0a79e;"></div>
<div class="t" style="left:662.5px;top:344.00px;font-size:10.00px;color:#9e625c;font-weight:bold;transform:scaleX(0.94);">Media</div>
<div class="a" style="left:406.9px;top:316.2px;width:155.1px;height:103.5px;background:#ee7f76;border:1px solid #f29b93;"></div>
<div class="t" style="left:409.0px;top:318.00px;font-size:10.00px;color:#84201d;font-weight:bold;transform:scaleX(0.94);">Industrials</div>
<div class="a" style="left:412.1px;top:331.4px;width:127.7px;height:84.0px;background:#e96a62;border:1px solid #ef8a83;"></div>
<div class="t" style="left:413.6px;top:334.00px;font-size:10.00px;color:#84201d;font-weight:bold;transform:scaleX(0.94);width:133.0px;overflow:hidden;">Industrial Goods &amp; Services</div>
<div class="a" style="left:540.5px;top:331.4px;width:17.9px;height:84.0px;background:#f3aca3;border:1px solid #f6c0b9;"></div>
<div class="a" style="left:406.9px;top:420.0px;width:154.9px;height:103.3px;background:#ef857d;border:1px solid #f3a39c;"></div>
<div class="t" style="left:409.0px;top:422.00px;font-size:10.00px;color:#84201d;font-weight:bold;transform:scaleX(0.94);">Oil &amp; Gas</div>
<div class="a" style="left:412.1px;top:435.9px;width:145.1px;height:82.1px;background:#f08a82;border:1px solid #ea6e66;"></div>
<div class="t" style="left:413.4px;top:438.00px;font-size:10.00px;color:#84201d;font-weight:bold;transform:scaleX(0.94);">Oil &amp; Gas</div>
<div class="a" style="left:562.2px;top:378.2px;width:112.9px;height:75.8px;background:#e85c55;border:1px solid #ee8079;"></div>
<div class="t" style="left:564.3px;top:380.00px;font-size:10.00px;color:#84201d;font-weight:bold;transform:scaleX(0.94);">Basic Materials</div>
<div class="a" style="left:567.2px;top:392.6px;width:59.6px;height:56.4px;background:#ea6a63;border:1px solid #d9504a;"></div>
<div class="t" style="left:569.5px;top:396.00px;font-size:10.00px;color:#84201d;font-weight:bold;transform:scaleX(0.94);width:59.6px;overflow:hidden;">Basic Resources</div>
<div class="a" style="left:627.2px;top:392.6px;width:43.7px;height:56.4px;background:#ea6a63;border:1px solid #d9504a;"></div>
<div class="t" style="left:629.3px;top:396.00px;font-size:10.00px;color:#84201d;font-weight:bold;transform:scaleX(0.94);width:43.6px;overflow:hidden;">Chemicals</div>
<div class="a" style="left:562.2px;top:455.0px;width:113.2px;height:68.3px;background:#f8d1cb;border:1px solid #fadcd7;"></div>
<div class="t" style="left:564.2px;top:456.00px;font-size:10.00px;color:#9e625c;font-weight:bold;transform:scaleX(0.94);">Utilities</div>
<div class="a" style="left:567.3px;top:470.4px;width:103.7px;height:47.8px;background:#f8d0ca;border:1px solid #f3b9b1;"></div>
<div class="t" style="left:569.5px;top:472.00px;font-size:10.00px;color:#9e625c;font-weight:bold;transform:scaleX(0.94);">Utilities</div>
<div class="a" style="left:675.9px;top:377.7px;width:51.6px;height:145.6px;background:#fbe2de;border:1px solid #fdeeeb;"></div>
<div class="t" style="left:677.8px;top:380.00px;font-size:10.00px;color:#9e625c;font-weight:bold;transform:scaleX(0.94);width:52.1px;overflow:hidden;">Telecommunications</div>
<div class="a" style="left:680.1px;top:393.6px;width:43.5px;height:125.6px;background:#fae0dc;border:1px solid #f4c4bd;"></div>
<div class="t" style="left:682.5px;top:396.00px;font-size:10.00px;color:#9e625c;font-weight:bold;transform:scaleX(0.94);width:41.5px;overflow:hidden;">Telecommunications</div>
<svg class="a" style="left:0;top:0" width="925" height="536" viewBox="0 0 925 536"><rect x="416.1" y="107.4" width="33.2" height="16.7" fill="#f08880"/><rect x="449.3" y="107.4" width="32.6" height="16.7" fill="#f8c8c0"/><rect x="481.9" y="107.4" width="19.2" height="16.7" fill="#c41e22"/><rect x="416.1" y="124.1" width="20.5" height="16.3" fill="#f08880"/><rect x="436.6" y="124.1" width="20.2" height="16.3" fill="#c41e22"/><rect x="456.8" y="124.1" width="15.8" height="16.3" fill="#cc2222"/><rect x="472.6" y="124.1" width="14.0" height="16.3" fill="#f6bab2"/><rect x="486.6" y="124.1" width="14.5" height="16.3" fill="#f5ecea"/><rect x="416.1" y="140.4" width="16.0" height="12.5" fill="#f9dfdb"/><rect x="432.1" y="140.4" width="14.4" height="12.5" fill="#e0393a"/><rect x="446.5" y="140.4" width="14.0" height="12.5" fill="#c41e22"/><rect x="460.5" y="140.4" width="14.0" height="12.5" fill="#e0393a"/><rect x="474.5" y="140.4" width="13.0" height="12.5" fill="#e0393a"/><rect x="487.5" y="140.4" width="13.6" height="12.5" fill="#c41e22"/><rect x="416.1" y="152.9" width="16.0" height="12.6" fill="#f07068"/><rect x="416.1" y="165.5" width="16.0" height="12.2" fill="#5a95d8"/><rect x="416.1" y="177.7" width="16.0" height="11.2" fill="#f07068"/><rect x="416.1" y="188.9" width="16.0" height="10.6" fill="#f6b0a8"/><rect x="432.1" y="152.9" width="13.6" height="8.1" fill="#f08078"/><rect x="432.1" y="161.0" width="13.6" height="10.4" fill="#e0393a"/><rect x="432.1" y="171.4" width="13.6" height="9.0" fill="#c41e22"/><rect x="432.1" y="180.4" width="13.6" height="10.0" fill="#f6bab2"/><rect x="432.1" y="190.4" width="13.6" height="9.1" fill="#c41e22"/><rect x="445.7" y="152.9" width="13.3" height="8.1" fill="#e0393a"/><rect x="459.0" y="152.9" width="12.9" height="8.1" fill="#eeeeee"/><rect x="471.9" y="152.9" width="10.9" height="8.1" fill="#c41e22"/><rect x="482.8" y="152.9" width="9.5" height="8.1" fill="#f6bab2"/><rect x="492.3" y="152.9" width="8.8" height="8.1" fill="#f4a8a0"/><rect x="445.7" y="161.0" width="9.5" height="5.7" fill="#f09088"/><rect x="455.2" y="161.0" width="8.6" height="5.7" fill="#c41e22"/><rect x="463.8" y="161.0" width="8.5" height="5.7" fill="#f6bab2"/><rect x="472.3" y="161.0" width="8.1" height="5.7" fill="#e0393a"/><rect x="480.4" y="161.0" width="6.7" height="5.7" fill="#e0393a"/><rect x="487.1" y="161.0" width="7.6" height="5.7" fill="#f4e8e6"/><rect x="494.7" y="161.0" width="6.4" height="5.7" fill="#c41e22"/><rect x="445.7" y="166.7" width="9.5" height="9.9" fill="#e0393a"/><rect x="445.7" y="176.6" width="9.5" height="8.6" fill="#c4dcee"/><rect x="445.7" y="185.2" width="9.5" height="7.6" fill="#f07a72"/><rect x="445.7" y="192.8" width="9.5" height="6.7" fill="#c41e22"/><rect x="455.2" y="166.7" width="12.3" height="5.1" fill="#e0393a"/><rect x="467.5" y="166.7" width="11.0" height="5.1" fill="#e85550"/><rect x="478.5" y="166.7" width="7.9" height="5.1" fill="#c41e22"/><rect x="486.4" y="166.7" width="7.6" height="5.1" fill="#e0393a"/><rect x="494.0" y="166.7" width="7.1" height="5.1" fill="#f6bab2"/><rect x="455.2" y="171.8" width="6.1" height="5.3" fill="#c41e22"/><rect x="455.2" y="177.2" width="6.1" height="4.9" fill="#e0393a"/><rect x="455.2" y="182.1" width="6.1" height="4.1" fill="#f6bab2"/><rect x="455.2" y="186.2" width="6.1" height="3.5" fill="#c41e22"/><rect x="455.2" y="189.7" width="6.1" height="3.3" fill="#c41e22"/><rect x="455.2" y="193.0" width="6.1" height="3.3" fill="#f9dfdb"/><rect x="455.2" y="196.3" width="6.1" height="3.2" fill="#c41e22"/><rect x="461.3" y="171.8" width="6.1" height="3.2" fill="#c41e22"/><rect x="467.3" y="171.8" width="5.9" height="3.2" fill="#e0393a"/><rect x="473.2" y="171.8" width="5.8" height="3.2" fill="#f6bab2"/><rect x="479.0" y="171.8" width="5.8" height="3.2" fill="#c41e22"/><rect x="484.8" y="171.8" width="5.6" height="3.2" fill="#c41e22"/><rect x="490.3" y="171.8" width="5.4" height="3.2" fill="#c41e22"/><rect x="495.7" y="171.8" width="5.4" height="3.2" fill="#eeeeee"/><rect x="461.3" y="175.0" width="5.2" height="3.3" fill="#e0393a"/><rect x="461.3" y="178.3" width="5.2" height="3.2" fill="#eeeeee"/><rect x="461.3" y="181.5" width="5.2" height="3.1" fill="#c41e22"/><rect x="461.3" y="184.7" width="5.2" height="3.1" fill="#c41e22"/><rect x="461.3" y="187.8" width="5.2" height="3.1" fill="#e85550"/><rect x="461.3" y="190.8" width="5.2" height="2.9" fill="#8cbde6"/><rect x="461.3" y="193.8" width="5.2" height="2.9" fill="#e0393a"/><rect x="461.3" y="196.6" width="5.2" height="2.9" fill="#c41e22"/><rect x="466.4" y="175.0" width="5.2" height="2.7" fill="#c41e22"/><rect x="471.7" y="175.0" width="5.2" height="2.7" fill="#e0393a"/><rect x="476.9" y="175.0" width="5.2" height="2.7" fill="#c41e22"/><rect x="482.2" y="175.0" width="5.2" height="2.7" fill="#f9dfdb"/><rect x="487.3" y="175.0" width="4.6" height="2.7" fill="#eeeeee"/><rect x="492.0" y="175.0" width="4.6" height="2.7" fill="#c41e22"/><rect x="496.5" y="175.0" width="4.6" height="2.7" fill="#c41e22"/><rect x="466.4" y="177.8" width="4.6" height="2.7" fill="#f9dfdb"/><rect x="471.0" y="177.8" width="4.6" height="2.7" fill="#e85550"/><rect x="475.6" y="177.8" width="4.4" height="2.7" fill="#f9dfdb"/><rect x="480.0" y="177.8" width="4.3" height="2.7" fill="#e0393a"/><rect x="484.3" y="177.8" width="4.3" height="2.7" fill="#c41e22"/><rect x="488.6" y="177.8" width="4.2" height="2.7" fill="#c41e22"/><rect x="492.8" y="177.8" width="4.2" height="2.7" fill="#f9dfdb"/><rect x="496.9" y="177.8" width="4.2" height="2.7" fill="#c41e22"/><rect x="466.4" y="180.4" width="3.9" height="2.8" fill="#e0393a"/><rect x="466.4" y="183.3" width="3.9" height="2.8" fill="#e0393a"/><rect x="466.4" y="186.1" width="3.9" height="2.8" fill="#e0393a"/><rect x="466.4" y="188.8" width="3.9" height="2.7" fill="#e0393a"/><rect x="466.4" y="191.6" width="3.9" height="2.7" fill="#c4dcee"/><rect x="466.4" y="194.2" width="3.9" height="2.6" fill="#c41e22"/><rect x="466.4" y="196.9" width="3.9" height="2.6" fill="#c41e22"/><rect x="470.3" y="180.4" width="4.1" height="2.4" fill="#c4dcee"/><rect x="470.3" y="182.9" width="4.1" height="2.4" fill="#8cbde6"/><rect x="470.3" y="185.3" width="4.1" height="2.4" fill="#f07a72"/><rect x="470.3" y="187.7" width="4.1" height="2.4" fill="#e0393a"/><rect x="470.3" y="190.1" width="4.1" height="2.4" fill="#f07a72"/><rect x="470.3" y="192.4" width="4.1" height="2.4" fill="#c4dcee"/><rect x="470.3" y="194.8" width="4.1" height="2.4" fill="#c41e22"/><rect x="470.3" y="197.2" width="4.1" height="2.3" fill="#f6bab2"/><rect x="474.5" y="180.4" width="4.0" height="2.4" fill="#eeeeee"/><rect x="478.4" y="180.4" width="4.0" height="2.4" fill="#e85550"/><rect x="482.4" y="180.4" width="3.9" height="2.4" fill="#e0393a"/><rect x="486.3" y="180.4" width="3.8" height="2.4" fill="#c41e22"/><rect x="490.0" y="180.4" width="3.7" height="2.4" fill="#e0393a"/><rect x="493.7" y="180.4" width="3.7" height="2.4" fill="#c41e22"/><rect x="497.4" y="180.4" width="3.7" height="2.4" fill="#c41e22"/><rect x="474.5" y="182.9" width="3.6" height="2.4" fill="#e85550"/><rect x="474.5" y="185.3" width="3.6" height="2.4" fill="#c41e22"/><rect x="474.5" y="187.7" width="3.6" height="2.4" fill="#f9dfdb"/><rect x="474.5" y="190.0" width="3.6" height="2.4" fill="#c41e22"/><rect x="474.5" y="192.4" width="3.6" height="2.4" fill="#8cbde6"/><rect x="474.5" y="194.8" width="3.6" height="2.4" fill="#f6bab2"/><rect x="474.5" y="197.2" width="3.6" height="2.3" fill="#c4dcee"/><rect x="478.0" y="182.9" width="4.0" height="2.1" fill="#8cbde6"/><rect x="482.0" y="182.9" width="4.0" height="2.1" fill="#8cbde6"/><rect x="486.0" y="182.9" width="3.9" height="2.1" fill="#e85550"/><rect x="490.0" y="182.9" width="3.9" height="2.1" fill="#c41e22"/><rect x="493.8" y="182.9" width="3.6" height="2.1" fill="#f6bab2"/><rect x="497.5" y="182.9" width="3.6" height="2.1" fill="#c41e22"/><rect x="478.0" y="184.9" width="3.4" height="2.2" fill="#c41e22"/><rect x="481.4" y="184.9" width="3.4" height="2.2" fill="#e85550"/><rect x="484.8" y="184.9" width="3.3" height="2.2" fill="#e0393a"/><rect x="488.1" y="184.9" width="3.3" height="2.2" fill="#e0393a"/><rect x="491.4" y="184.9" width="3.3" height="2.2" fill="#c4dcee"/><rect x="494.6" y="184.9" width="3.2" height="2.2" fill="#e85550"/><rect x="497.9" y="184.9" width="3.2" height="2.2" fill="#e0393a"/><rect x="478.0" y="187.1" width="3.2" height="2.1" fill="#c41e22"/><rect x="478.0" y="189.2" width="3.2" height="2.1" fill="#8cbde6"/><rect x="478.0" y="191.3" width="3.2" height="2.1" fill="#e0393a"/><rect x="478.0" y="193.4" width="3.2" height="2.1" fill="#f9dfdb"/><rect x="478.0" y="195.4" width="3.2" height="2.0" fill="#e0393a"/><rect x="478.0" y="197.5" width="3.2" height="2.0" fill="#c41e22"/><rect x="481.3" y="187.1" width="3.1" height="2.1" fill="#e0393a"/><rect x="481.3" y="189.2" width="3.1" height="2.1" fill="#eeeeee"/><rect x="481.3" y="191.3" width="3.1" height="2.1" fill="#c41e22"/><rect x="481.3" y="193.4" width="3.1" height="2.1" fill="#f9dfdb"/><rect x="481.3" y="195.4" width="3.1" height="2.0" fill="#c4dcee"/><rect x="481.3" y="197.5" width="3.1" height="2.0" fill="#f9dfdb"/><rect x="484.4" y="187.1" width="3.4" height="1.9" fill="#eeeeee"/><rect x="487.7" y="187.1" width="3.4" height="1.9" fill="#c41e22"/><rect x="491.1" y="187.1" width="3.4" height="1.9" fill="#e85550"/><rect x="494.5" y="187.1" width="3.3" height="1.9" fill="#8cbde6"/><rect x="497.8" y="187.1" width="3.3" height="1.9" fill="#c41e22"/><rect x="484.4" y="189.0" width="3.4" height="1.8" fill="#c41e22"/><rect x="487.7" y="189.0" width="3.4" height="1.8" fill="#c41e22"/><rect x="491.1" y="189.0" width="3.4" height="1.8" fill="#e0393a"/><rect x="494.5" y="189.0" width="3.3" height="1.8" fill="#e0393a"/><rect x="497.8" y="189.0" width="3.3" height="1.8" fill="#e0393a"/><rect x="484.4" y="190.8" width="3.3" height="1.8" fill="#f9dfdb"/><rect x="484.4" y="192.6" width="3.3" height="1.7" fill="#c41e22"/><rect x="484.4" y="194.4" width="3.3" height="1.7" fill="#c41e22"/><rect x="484.4" y="196.1" width="3.3" height="1.7" fill="#c41e22"/><rect x="484.4" y="197.8" width="3.3" height="1.7" fill="#c41e22"/><rect x="487.7" y="190.8" width="2.7" height="2.0" fill="#c41e22"/><rect x="490.5" y="190.8" width="2.7" height="2.0" fill="#f07a72"/><rect x="493.2" y="190.8" width="2.7" height="2.0" fill="#eeeeee"/><rect x="495.9" y="190.8" width="2.6" height="2.0" fill="#c41e22"/><rect x="498.5" y="190.8" width="2.6" height="2.0" fill="#e0393a"/><rect x="487.7" y="192.9" width="3.1" height="1.7" fill="#c41e22"/><rect x="487.7" y="194.6" width="3.1" height="1.7" fill="#c41e22"/><rect x="487.7" y="196.2" width="3.1" height="1.7" fill="#e0393a"/><rect x="487.7" y="197.9" width="3.1" height="1.6" fill="#e85550"/><rect x="490.8" y="192.9" width="2.6" height="1.9" fill="#e85550"/><rect x="493.4" y="192.9" width="2.6" height="1.9" fill="#e0393a"/><rect x="496.0" y="192.9" width="2.6" height="1.9" fill="#c41e22"/><rect x="498.6" y="192.9" width="2.5" height="1.9" fill="#c41e22"/><rect x="490.8" y="194.7" width="2.9" height="1.6" fill="#c41e22"/><rect x="490.8" y="196.3" width="2.9" height="1.6" fill="#e0393a"/><rect x="490.8" y="197.9" width="2.9" height="1.6" fill="#f6bab2"/><rect x="493.7" y="194.7" width="2.6" height="1.8" fill="#e0393a"/><rect x="496.2" y="194.7" width="2.5" height="1.8" fill="#c41e22"/><rect x="498.7" y="194.7" width="2.4" height="1.8" fill="#c41e22"/><rect x="493.7" y="196.5" width="2.6" height="1.6" fill="#e0393a"/><rect x="493.7" y="198.1" width="2.6" height="1.4" fill="#e85550"/><rect x="496.3" y="196.5" width="2.4" height="1.5" fill="#f9dfdb"/><rect x="498.7" y="196.5" width="2.4" height="1.5" fill="#e0393a"/><rect x="496.3" y="198.0" width="2.4" height="1.5" fill="#f9dfdb"/><rect x="498.8" y="198.0" width="2.3" height="1.5" fill="#e85550"/><rect x="510.4" y="107.5" width="15.3" height="10.2" fill="#e0393a"/><rect x="510.4" y="117.7" width="15.3" height="6.0" fill="#f07a72"/><rect x="510.4" y="123.7" width="15.3" height="6.9" fill="#5a9ad8"/><rect x="510.4" y="130.6" width="15.3" height="6.4" fill="#f8c8c0"/><rect x="525.7" y="107.5" width="10.9" height="8.0" fill="#e0393a"/><rect x="525.7" y="115.5" width="10.9" height="7.1" fill="#f6bab2"/><rect x="525.7" y="122.6" width="10.9" height="7.1" fill="#c41e22"/><rect x="525.7" y="129.7" width="10.9" height="7.3" fill="#cc2424"/><rect x="536.6" y="107.5" width="9.4" height="5.4" fill="#c4dcee"/><rect x="546.0" y="107.5" width="11.0" height="5.4" fill="#e8eef2"/><rect x="557.0" y="107.5" width="9.7" height="5.4" fill="#f6bab2"/><rect x="566.7" y="107.5" width="8.8" height="5.4" fill="#78b0e0"/><rect x="575.5" y="107.5" width="7.5" height="5.4" fill="#c41e22"/><rect x="536.6" y="112.9" width="9.1" height="5.1" fill="#c41e22"/><rect x="545.7" y="112.9" width="7.8" height="5.1" fill="#c4dcee"/><rect x="553.5" y="112.9" width="8.5" height="5.1" fill="#f6bab2"/><rect x="562.0" y="112.9" width="8.0" height="5.1" fill="#eeeeee"/><rect x="570.0" y="112.9" width="6.5" height="5.1" fill="#c41e22"/><rect x="576.5" y="112.9" width="6.5" height="5.1" fill="#c41e22"/><rect x="536.6" y="118.0" width="9.1" height="5.5" fill="#eeeeee"/><rect x="536.6" y="123.5" width="9.1" height="5.5" fill="#c41e22"/><rect x="536.6" y="129.0" width="9.1" height="5.0" fill="#eeeeee"/><rect x="536.6" y="134.0" width="9.1" height="3.0" fill="#c41e22"/><rect x="545.7" y="118.0" width="9.0" height="6.5" fill="#e0393a"/><rect x="545.7" y="124.5" width="9.0" height="4.8" fill="#f6bab2"/><rect x="545.7" y="129.3" width="9.0" height="4.0" fill="#c41e22"/><rect x="545.7" y="133.3" width="9.0" height="3.7" fill="#c41e22"/><rect x="554.7" y="118.0" width="6.8" height="3.9" fill="#c41e22"/><rect x="561.5" y="118.0" width="6.7" height="3.9" fill="#f07a72"/><rect x="568.3" y="118.0" width="5.5" height="3.9" fill="#c41e22"/><rect x="573.8" y="118.0" width="4.8" height="3.9" fill="#c4dcee"/><rect x="578.7" y="118.0" width="4.3" height="3.9" fill="#f07a72"/><rect x="554.7" y="121.9" width="4.4" height="3.7" fill="#f07a72"/><rect x="554.7" y="125.6" width="4.4" height="3.1" fill="#e0393a"/><rect x="554.7" y="128.6" width="4.4" height="2.8" fill="#e0393a"/><rect x="554.7" y="131.5" width="4.4" height="2.8" fill="#f6bab2"/><rect x="554.7" y="134.2" width="4.4" height="2.8" fill="#c4dcee"/><rect x="559.1" y="121.9" width="4.3" height="2.8" fill="#c41e22"/><rect x="563.4" y="121.9" width="4.1" height="2.8" fill="#c4dcee"/><rect x="567.5" y="121.9" width="4.0" height="2.8" fill="#c4dcee"/><rect x="571.5" y="121.9" width="3.9" height="2.8" fill="#8cbde6"/><rect x="575.4" y="121.9" width="3.9" height="2.8" fill="#c41e22"/><rect x="579.3" y="121.9" width="3.7" height="2.8" fill="#f07a72"/><rect x="559.1" y="124.7" width="4.0" height="2.6" fill="#c41e22"/><rect x="559.1" y="127.3" width="4.0" height="2.5" fill="#e0393a"/><rect x="559.1" y="129.7" width="4.0" height="2.5" fill="#eeeeee"/><rect x="559.1" y="132.2" width="4.0" height="2.4" fill="#8cbde6"/><rect x="559.1" y="134.6" width="4.0" height="2.4" fill="#e0393a"/><rect x="563.1" y="124.7" width="3.6" height="2.6" fill="#f07a72"/><rect x="563.1" y="127.3" width="3.6" height="2.5" fill="#f6bab2"/><rect x="563.1" y="129.9" width="3.6" height="2.4" fill="#e0393a"/><rect x="563.1" y="132.3" width="3.6" height="2.4" fill="#e0393a"/><rect x="563.1" y="134.7" width="3.6" height="2.3" fill="#c41e22"/><rect x="566.7" y="124.7" width="3.5" height="2.3" fill="#c41e22"/><rect x="570.2" y="124.7" width="3.3" height="2.3" fill="#c41e22"/><rect x="573.5" y="124.7" width="3.3" height="2.3" fill="#eeeeee"/><rect x="576.8" y="124.7" width="3.2" height="2.3" fill="#f07a72"/><rect x="580.0" y="124.7" width="3.0" height="2.3" fill="#c41e22"/><rect x="566.7" y="127.0" width="3.5" height="2.0" fill="#c41e22"/><rect x="566.7" y="129.1" width="3.5" height="2.0" fill="#f07a72"/><rect x="566.7" y="131.1" width="3.5" height="2.0" fill="#f6bab2"/><rect x="566.7" y="133.1" width="3.5" height="2.0" fill="#f6bab2"/><rect x="566.7" y="135.1" width="3.5" height="1.9" fill="#c41e22"/><rect x="570.2" y="127.0" width="3.2" height="2.0" fill="#eeeeee"/><rect x="573.4" y="127.0" width="3.2" height="2.0" fill="#c4dcee"/><rect x="576.6" y="127.0" width="3.2" height="2.0" fill="#f6bab2"/><rect x="579.8" y="127.0" width="3.2" height="2.0" fill="#f6bab2"/><rect x="570.2" y="129.1" width="3.1" height="2.0" fill="#c41e22"/><rect x="570.2" y="131.1" width="3.1" height="2.0" fill="#8cbde6"/><rect x="570.2" y="133.1" width="3.1" height="2.0" fill="#c41e22"/><rect x="570.2" y="135.1" width="3.1" height="1.9" fill="#f6bab2"/><rect x="573.3" y="129.1" width="3.3" height="1.8" fill="#c4dcee"/><rect x="576.6" y="129.1" width="3.2" height="1.8" fill="#c41e22"/><rect x="579.8" y="129.1" width="3.2" height="1.8" fill="#c4dcee"/><rect x="573.3" y="130.9" width="3.3" height="1.7" fill="#f07a72"/><rect x="576.6" y="130.9" width="3.2" height="1.7" fill="#eeeeee"/><rect x="579.8" y="130.9" width="3.2" height="1.7" fill="#c4dcee"/><rect x="573.3" y="132.5" width="3.4" height="1.5" fill="#c41e22"/><rect x="573.3" y="134.1" width="3.4" height="1.5" fill="#f6bab2"/><rect x="573.3" y="135.5" width="3.4" height="1.5" fill="#c41e22"/><rect x="576.7" y="132.5" width="3.2" height="1.5" fill="#8cbde6"/><rect x="579.9" y="132.5" width="3.1" height="1.5" fill="#e0393a"/><rect x="576.7" y="134.1" width="2.7" height="1.6" fill="#f6bab2"/><rect x="576.7" y="135.6" width="2.7" height="1.4" fill="#f07a72"/><rect x="579.4" y="134.1" width="1.8" height="2.0" fill="#8cbde6"/><rect x="581.3" y="134.1" width="1.7" height="2.0" fill="#f07a72"/><rect x="579.4" y="136.1" width="3.6" height="0.9" fill="#f6bab2"/><rect x="510.8" y="157.0" width="17.2" height="10.9" fill="#f6bab2"/><rect x="528.0" y="157.0" width="12.8" height="10.9" fill="#d0e0ee"/><rect x="540.8" y="157.0" width="10.5" height="10.9" fill="#a8c8e4"/><rect x="510.8" y="167.9" width="13.6" height="7.9" fill="#c41e22"/><rect x="524.4" y="167.9" width="9.7" height="7.9" fill="#c4dcee"/><rect x="534.1" y="167.9" width="7.9" height="7.9" fill="#b0d0e8"/><rect x="542.0" y="167.9" width="9.3" height="7.9" fill="#c41e22"/><rect x="510.8" y="175.8" width="7.8" height="7.2" fill="#eeeeee"/><rect x="510.8" y="183.0" width="7.8" height="6.1" fill="#e8eef2"/><rect x="510.8" y="189.1" width="7.8" height="6.7" fill="#1f5fb5"/><rect x="510.8" y="195.8" width="7.8" height="4.2" fill="#c41e22"/><rect x="518.6" y="175.8" width="11.8" height="4.6" fill="#eeeeee"/><rect x="530.4" y="175.8" width="8.4" height="4.6" fill="#eeeeee"/><rect x="538.7" y="175.8" width="6.7" height="4.6" fill="#f9dfdb"/><rect x="545.5" y="175.8" width="5.8" height="4.6" fill="#8cbde6"/><rect x="518.6" y="180.4" width="5.8" height="3.6" fill="#e0393a"/><rect x="518.6" y="184.0" width="5.8" height="3.5" fill="#f6bab2"/><rect x="518.6" y="187.5" width="5.8" height="3.3" fill="#c4dcee"/><rect x="518.6" y="190.9" width="5.8" height="3.2" fill="#c41e22"/><rect x="518.6" y="194.1" width="5.8" height="3.0" fill="#f6bab2"/><rect x="518.6" y="197.1" width="5.8" height="2.9" fill="#c41e22"/><rect x="524.4" y="180.4" width="5.0" height="3.2" fill="#c41e22"/><rect x="529.4" y="180.4" width="4.5" height="3.2" fill="#c41e22"/><rect x="533.9" y="180.4" width="4.5" height="3.2" fill="#8cbde6"/><rect x="538.4" y="180.4" width="4.5" height="3.2" fill="#c41e22"/><rect x="542.9" y="180.4" width="4.3" height="3.2" fill="#e0393a"/><rect x="547.2" y="180.4" width="4.1" height="3.2" fill="#f6bab2"/><rect x="524.4" y="183.6" width="4.2" height="3.0" fill="#4a8ad0"/><rect x="524.4" y="186.7" width="4.2" height="2.8" fill="#c41e22"/><rect x="524.4" y="189.5" width="4.2" height="2.7" fill="#f6bab2"/><rect x="524.4" y="192.2" width="4.2" height="2.7" fill="#eeeeee"/><rect x="524.4" y="194.8" width="4.2" height="2.6" fill="#4a8ad0"/><rect x="524.4" y="197.4" width="4.2" height="2.6" fill="#8cbde6"/><rect x="528.6" y="183.6" width="4.0" height="2.7" fill="#4a8ad0"/><rect x="532.5" y="183.6" width="3.9" height="2.7" fill="#e0393a"/><rect x="536.4" y="183.6" width="3.8" height="2.7" fill="#f6bab2"/><rect x="540.2" y="183.6" width="3.7" height="2.7" fill="#e0393a"/><rect x="543.9" y="183.6" width="3.7" height="2.7" fill="#4a8ad0"/><rect x="547.6" y="183.6" width="3.7" height="2.7" fill="#f9dfdb"/><rect x="528.6" y="186.3" width="4.0" height="2.4" fill="#c41e22"/><rect x="528.6" y="188.7" width="4.0" height="2.4" fill="#c41e22"/><rect x="528.6" y="191.1" width="4.0" height="2.3" fill="#e0393a"/><rect x="528.6" y="193.4" width="4.0" height="2.3" fill="#e0393a"/><rect x="528.6" y="195.6" width="4.0" height="2.2" fill="#f6bab2"/><rect x="528.6" y="197.8" width="4.0" height="2.2" fill="#eeeeee"/><rect x="532.6" y="186.3" width="3.8" height="2.3" fill="#e0393a"/><rect x="536.4" y="186.3" width="3.8" height="2.3" fill="#c41e22"/><rect x="540.2" y="186.3" width="3.7" height="2.3" fill="#f6bab2"/><rect x="543.9" y="186.3" width="3.7" height="2.3" fill="#f6bab2"/><rect x="547.6" y="186.3" width="3.7" height="2.3" fill="#eeeeee"/><rect x="532.6" y="188.6" width="3.5" height="2.3" fill="#f9dfdb"/><rect x="532.6" y="190.9" width="3.5" height="2.3" fill="#c4dcee"/><rect x="532.6" y="193.2" width="3.5" height="2.3" fill="#eeeeee"/><rect x="532.6" y="195.5" width="3.5" height="2.3" fill="#eeeeee"/><rect x="532.6" y="197.8" width="3.5" height="2.2" fill="#c4dcee"/><rect x="536.1" y="188.6" width="3.9" height="2.0" fill="#c41e22"/><rect x="539.9" y="188.6" width="3.8" height="2.0" fill="#4a8ad0"/><rect x="543.8" y="188.6" width="3.8" height="2.0" fill="#8cbde6"/><rect x="547.6" y="188.6" width="3.7" height="2.0" fill="#4a8ad0"/><rect x="536.1" y="190.6" width="3.1" height="2.4" fill="#8cbde6"/><rect x="536.1" y="193.0" width="3.1" height="2.4" fill="#f6bab2"/><rect x="536.1" y="195.3" width="3.1" height="2.4" fill="#f6bab2"/><rect x="536.1" y="197.7" width="3.1" height="2.3" fill="#c41e22"/><rect x="539.2" y="190.6" width="3.1" height="2.3" fill="#eeeeee"/><rect x="542.3" y="190.6" width="3.0" height="2.3" fill="#c41e22"/><rect x="545.3" y="190.6" width="3.0" height="2.3" fill="#c41e22"/><rect x="548.3" y="190.6" width="3.0" height="2.3" fill="#e0393a"/><rect x="539.2" y="192.9" width="3.8" height="1.8" fill="#c41e22"/><rect x="539.2" y="194.7" width="3.8" height="1.8" fill="#e0393a"/><rect x="539.2" y="196.5" width="3.8" height="1.8" fill="#c41e22"/><rect x="539.2" y="198.2" width="3.8" height="1.8" fill="#c41e22"/><rect x="542.9" y="192.9" width="2.8" height="2.2" fill="#c41e22"/><rect x="545.8" y="192.9" width="2.8" height="2.2" fill="#c41e22"/><rect x="548.5" y="192.9" width="2.8" height="2.2" fill="#e0393a"/><rect x="542.9" y="195.0" width="3.6" height="1.7" fill="#c41e22"/><rect x="542.9" y="196.7" width="3.6" height="1.7" fill="#4a8ad0"/><rect x="542.9" y="198.4" width="3.6" height="1.6" fill="#eeeeee"/><rect x="546.5" y="195.0" width="2.5" height="2.2" fill="#c41e22"/><rect x="549.0" y="195.0" width="2.3" height="2.2" fill="#e0393a"/><rect x="546.5" y="197.2" width="3.4" height="1.5" fill="#e0393a"/><rect x="546.5" y="198.7" width="3.4" height="1.3" fill="#e0393a"/><rect x="549.9" y="197.2" width="1.4" height="2.8" fill="#c41e22"/><rect x="560.5" y="157.6" width="8.2" height="6.7" fill="#c41e22"/><rect x="568.7" y="157.6" width="7.8" height="6.7" fill="#f07a72"/><rect x="576.5" y="157.6" width="6.3" height="6.7" fill="#c41e22"/><rect x="560.5" y="164.3" width="8.2" height="6.0" fill="#e0393a"/><rect x="568.7" y="164.3" width="7.8" height="6.0" fill="#eeeeee"/><rect x="576.5" y="164.3" width="6.3" height="6.0" fill="#c41e22"/><rect x="560.5" y="170.3" width="5.5" height="4.9" fill="#8cbde6"/><rect x="566.0" y="170.3" width="5.0" height="4.9" fill="#c4dcee"/><rect x="571.0" y="170.3" width="6.0" height="4.9" fill="#eeeeee"/><rect x="577.0" y="170.3" width="5.8" height="4.9" fill="#c4dcee"/><rect x="560.5" y="175.2" width="9.9" height="5.1" fill="#c41e22"/><rect x="570.4" y="175.2" width="6.3" height="5.1" fill="#e0393a"/><rect x="576.6" y="175.2" width="6.2" height="5.1" fill="#c41e22"/><rect x="560.5" y="180.3" width="6.6" height="3.5" fill="#c41e22"/><rect x="567.1" y="180.3" width="5.7" height="3.5" fill="#e0393a"/><rect x="572.8" y="180.3" width="5.5" height="3.5" fill="#4a8ad0"/><rect x="578.2" y="180.3" width="4.6" height="3.5" fill="#e0393a"/><rect x="560.5" y="183.8" width="5.0" height="3.2" fill="#e0393a"/><rect x="565.5" y="183.8" width="4.6" height="3.2" fill="#f6bab2"/><rect x="570.2" y="183.8" width="4.3" height="3.2" fill="#c41e22"/><rect x="574.5" y="183.8" width="4.2" height="3.2" fill="#f6bab2"/><rect x="578.7" y="183.8" width="4.1" height="3.2" fill="#c41e22"/><rect x="560.5" y="187.0" width="4.3" height="2.7" fill="#f6bab2"/><rect x="560.5" y="189.7" width="4.3" height="2.7" fill="#f9dfdb"/><rect x="560.5" y="192.4" width="4.3" height="2.6" fill="#c41e22"/><rect x="560.5" y="195.0" width="4.3" height="2.5" fill="#e0393a"/><rect x="560.5" y="197.5" width="4.3" height="2.5" fill="#f6bab2"/><rect x="564.8" y="187.0" width="3.8" height="2.8" fill="#c41e22"/><rect x="568.6" y="187.0" width="3.7" height="2.8" fill="#c41e22"/><rect x="572.3" y="187.0" width="3.5" height="2.8" fill="#f9dfdb"/><rect x="575.9" y="187.0" width="3.5" height="2.8" fill="#f9dfdb"/><rect x="579.4" y="187.0" width="3.4" height="2.8" fill="#c41e22"/><rect x="564.8" y="189.7" width="3.5" height="2.7" fill="#eeeeee"/><rect x="564.8" y="192.4" width="3.5" height="2.6" fill="#4a8ad0"/><rect x="564.8" y="195.0" width="3.5" height="2.5" fill="#c41e22"/><rect x="564.8" y="197.5" width="3.5" height="2.5" fill="#f6bab2"/><rect x="568.3" y="189.7" width="3.7" height="2.3" fill="#c41e22"/><rect x="572.1" y="189.7" width="3.6" height="2.3" fill="#e0393a"/><rect x="575.7" y="189.7" width="3.6" height="2.3" fill="#f6bab2"/><rect x="579.3" y="189.7" width="3.5" height="2.3" fill="#f6bab2"/><rect x="568.3" y="192.0" width="3.6" height="2.1" fill="#c4dcee"/><rect x="568.3" y="194.1" width="3.6" height="2.0" fill="#c41e22"/><rect x="568.3" y="196.1" width="3.6" height="2.0" fill="#c41e22"/><rect x="568.3" y="198.1" width="3.6" height="1.9" fill="#8cbde6"/><rect x="571.9" y="192.0" width="3.7" height="1.8" fill="#f6bab2"/><rect x="575.7" y="192.0" width="3.6" height="1.8" fill="#e0393a"/><rect x="579.3" y="192.0" width="3.5" height="1.8" fill="#e0393a"/><rect x="571.9" y="193.8" width="3.0" height="2.1" fill="#f9dfdb"/><rect x="571.9" y="195.9" width="3.0" height="2.1" fill="#f6bab2"/><rect x="571.9" y="197.9" width="3.0" height="2.1" fill="#c41e22"/><rect x="575.0" y="193.8" width="2.7" height="2.2" fill="#c4dcee"/><rect x="577.7" y="193.8" width="2.7" height="2.2" fill="#c41e22"/><rect x="580.3" y="193.8" width="2.5" height="2.2" fill="#e0393a"/><rect x="575.0" y="196.0" width="2.5" height="2.1" fill="#c41e22"/><rect x="575.0" y="198.2" width="2.5" height="1.8" fill="#e0393a"/><rect x="577.5" y="196.0" width="2.7" height="1.7" fill="#c41e22"/><rect x="580.2" y="196.0" width="2.6" height="1.7" fill="#c41e22"/><rect x="577.5" y="197.7" width="1.9" height="2.3" fill="#f6bab2"/><rect x="579.4" y="197.7" width="3.4" height="1.2" fill="#c41e22"/><rect x="579.4" y="198.9" width="3.4" height="1.1" fill="#c4dcee"/><rect x="601.9" y="107.0" width="25.9" height="23.9" fill="#f08a82"/><rect x="601.9" y="130.9" width="25.9" height="13.0" fill="#e0393a"/><rect x="627.8" y="107.0" width="17.4" height="12.6" fill="#3a7fd0"/><rect x="627.8" y="119.6" width="17.4" height="8.3" fill="#f07a72"/><rect x="627.8" y="127.9" width="17.4" height="7.7" fill="#e0393a"/><rect x="627.8" y="135.6" width="17.4" height="8.3" fill="#f9dfdb"/><rect x="645.2" y="107.0" width="13.4" height="8.0" fill="#98c8e8"/><rect x="658.6" y="107.0" width="12.7" height="8.0" fill="#c41e22"/><rect x="671.3" y="107.0" width="12.7" height="8.0" fill="#6aa8dc"/><rect x="684.0" y="107.0" width="12.1" height="8.0" fill="#c41e22"/><rect x="645.2" y="115.0" width="10.1" height="8.0" fill="#f07a72"/><rect x="645.2" y="123.0" width="10.1" height="6.6" fill="#eeeeee"/><rect x="645.2" y="129.6" width="10.1" height="6.6" fill="#c4dcee"/><rect x="645.2" y="136.2" width="10.1" height="7.7" fill="#c41e22"/><rect x="655.3" y="115.0" width="11.7" height="5.0" fill="#c41e22"/><rect x="667.0" y="115.0" width="11.0" height="5.0" fill="#eeeeee"/><rect x="678.0" y="115.0" width="9.0" height="5.0" fill="#f6bab2"/><rect x="687.0" y="115.0" width="9.1" height="5.0" fill="#c41e22"/><rect x="655.3" y="120.0" width="7.8" height="8.0" fill="#c41e22"/><rect x="655.3" y="128.0" width="7.8" height="6.1" fill="#f07a72"/><rect x="655.3" y="134.1" width="7.8" height="6.0" fill="#c41e22"/><rect x="655.3" y="140.1" width="7.8" height="3.8" fill="#e0393a"/><rect x="663.1" y="120.0" width="7.6" height="3.6" fill="#c4dcee"/><rect x="670.7" y="120.0" width="7.3" height="3.6" fill="#e0393a"/><rect x="677.9" y="120.0" width="6.3" height="3.6" fill="#e0393a"/><rect x="684.2" y="120.0" width="6.0" height="3.6" fill="#c41e22"/><rect x="690.2" y="120.0" width="5.9" height="3.6" fill="#c41e22"/><rect x="663.1" y="123.6" width="5.1" height="3.7" fill="#eeeeee"/><rect x="663.1" y="127.3" width="5.1" height="3.7" fill="#e0393a"/><rect x="663.1" y="131.0" width="5.1" height="3.5" fill="#eeeeee"/><rect x="663.1" y="134.5" width="5.1" height="3.3" fill="#e0393a"/><rect x="663.1" y="137.8" width="5.1" height="3.3" fill="#f6bab2"/><rect x="663.1" y="141.1" width="5.1" height="2.8" fill="#f07a72"/><rect x="668.2" y="123.6" width="5.1" height="2.8" fill="#f6bab2"/><rect x="673.3" y="123.6" width="4.9" height="2.8" fill="#eeeeee"/><rect x="678.2" y="123.6" width="4.6" height="2.8" fill="#8cbde6"/><rect x="682.9" y="123.6" width="4.5" height="2.8" fill="#c41e22"/><rect x="687.4" y="123.6" width="4.4" height="2.8" fill="#c41e22"/><rect x="691.8" y="123.6" width="4.3" height="2.8" fill="#4a8ad0"/><rect x="668.2" y="126.3" width="4.3" height="2.7" fill="#8cbde6"/><rect x="672.6" y="126.3" width="4.1" height="2.7" fill="#e0393a"/><rect x="676.7" y="126.3" width="4.0" height="2.7" fill="#c41e22"/><rect x="680.6" y="126.3" width="3.9" height="2.7" fill="#c4dcee"/><rect x="684.6" y="126.3" width="3.9" height="2.7" fill="#f07a72"/><rect x="688.5" y="126.3" width="3.9" height="2.7" fill="#c41e22"/><rect x="692.4" y="126.3" width="3.7" height="2.7" fill="#f07a72"/><rect x="668.2" y="129.0" width="4.0" height="2.5" fill="#4a8ad0"/><rect x="668.2" y="131.6" width="4.0" height="2.5" fill="#eeeeee"/><rect x="668.2" y="134.0" width="4.0" height="2.5" fill="#f6bab2"/><rect x="668.2" y="136.5" width="4.0" height="2.5" fill="#c41e22"/><rect x="668.2" y="139.0" width="4.0" height="2.4" fill="#c41e22"/><rect x="668.2" y="141.5" width="4.0" height="2.4" fill="#f07a72"/><rect x="672.2" y="129.0" width="3.8" height="2.6" fill="#e0393a"/><rect x="672.2" y="131.6" width="3.8" height="2.6" fill="#f9dfdb"/><rect x="672.2" y="134.2" width="3.8" height="2.5" fill="#e0393a"/><rect x="672.2" y="136.7" width="3.8" height="2.4" fill="#8cbde6"/><rect x="672.2" y="139.2" width="3.8" height="2.4" fill="#eeeeee"/><rect x="672.2" y="141.5" width="3.8" height="2.4" fill="#e0393a"/><rect x="676.0" y="129.0" width="3.5" height="2.5" fill="#c41e22"/><rect x="679.5" y="129.0" width="3.4" height="2.5" fill="#c4dcee"/><rect x="683.0" y="129.0" width="3.4" height="2.5" fill="#c41e22"/><rect x="686.4" y="129.0" width="3.3" height="2.5" fill="#e0393a"/><rect x="689.7" y="129.0" width="3.2" height="2.5" fill="#eeeeee"/><rect x="692.9" y="129.0" width="3.2" height="2.5" fill="#8cbde6"/><rect x="676.0" y="131.5" width="3.6" height="2.2" fill="#eeeeee"/><rect x="676.0" y="133.7" width="3.6" height="2.1" fill="#e0393a"/><rect x="676.0" y="135.8" width="3.6" height="2.0" fill="#4a8ad0"/><rect x="676.0" y="137.9" width="3.6" height="2.0" fill="#c41e22"/><rect x="676.0" y="139.9" width="3.6" height="2.0" fill="#c41e22"/><rect x="676.0" y="141.9" width="3.6" height="2.0" fill="#e0393a"/><rect x="679.6" y="131.5" width="3.3" height="2.2" fill="#f6bab2"/><rect x="683.0" y="131.5" width="3.3" height="2.2" fill="#c41e22"/><rect x="686.3" y="131.5" width="3.3" height="2.2" fill="#c41e22"/><rect x="689.6" y="131.5" width="3.3" height="2.2" fill="#e0393a"/><rect x="692.8" y="131.5" width="3.3" height="2.2" fill="#eeeeee"/><rect x="679.6" y="133.7" width="3.4" height="2.1" fill="#c41e22"/><rect x="679.6" y="135.8" width="3.4" height="2.1" fill="#e0393a"/><rect x="679.6" y="137.9" width="3.4" height="2.0" fill="#4a8ad0"/><rect x="679.6" y="139.9" width="3.4" height="2.0" fill="#f07a72"/><rect x="679.6" y="141.9" width="3.4" height="2.0" fill="#f9dfdb"/><rect x="683.0" y="133.7" width="3.3" height="2.0" fill="#f9dfdb"/><rect x="686.3" y="133.7" width="3.3" height="2.0" fill="#eeeeee"/><rect x="689.7" y="133.7" width="3.3" height="2.0" fill="#c41e22"/><rect x="693.0" y="133.7" width="3.1" height="2.0" fill="#c41e22"/><rect x="683.0" y="135.7" width="3.4" height="1.8" fill="#c41e22"/><rect x="686.4" y="135.7" width="3.3" height="1.8" fill="#4a8ad0"/><rect x="689.7" y="135.7" width="3.2" height="1.8" fill="#f9dfdb"/><rect x="692.9" y="135.7" width="3.2" height="1.8" fill="#f07a72"/><rect x="683.0" y="137.5" width="3.3" height="1.7" fill="#c41e22"/><rect x="683.0" y="139.2" width="3.3" height="1.6" fill="#eeeeee"/><rect x="683.0" y="140.8" width="3.3" height="1.6" fill="#f6bab2"/><rect x="683.0" y="142.3" width="3.3" height="1.6" fill="#c4dcee"/><rect x="686.3" y="137.5" width="2.5" height="1.9" fill="#e0393a"/><rect x="688.8" y="137.5" width="2.5" height="1.9" fill="#f07a72"/><rect x="691.3" y="137.5" width="2.4" height="1.9" fill="#c41e22"/><rect x="693.7" y="137.5" width="2.4" height="1.9" fill="#eeeeee"/><rect x="686.3" y="139.4" width="3.0" height="1.5" fill="#c4dcee"/><rect x="686.3" y="140.9" width="3.0" height="1.5" fill="#4a8ad0"/><rect x="686.3" y="142.4" width="3.0" height="1.5" fill="#c4dcee"/><rect x="689.4" y="139.4" width="2.3" height="2.0" fill="#f9dfdb"/><rect x="691.6" y="139.4" width="2.3" height="2.0" fill="#8cbde6"/><rect x="693.9" y="139.4" width="2.2" height="2.0" fill="#4a8ad0"/><rect x="689.4" y="141.4" width="3.4" height="1.3" fill="#e0393a"/><rect x="689.4" y="142.7" width="3.4" height="1.2" fill="#f9dfdb"/><rect x="692.8" y="141.4" width="3.3" height="1.3" fill="#4a8ad0"/><rect x="692.8" y="142.6" width="3.3" height="1.3" fill="#8cbde6"/><rect x="602.2" y="164.6" width="26.7" height="20.2" fill="#a4c6e0"/><rect x="602.2" y="184.8" width="26.7" height="14.9" fill="#f4b0a8"/><rect x="628.9" y="164.6" width="18.2" height="17.5" fill="#f8c4bc"/><rect x="628.9" y="182.1" width="18.2" height="11.0" fill="#ee6a62"/><rect x="628.9" y="193.1" width="18.2" height="6.6" fill="#d4e4f0"/><rect x="647.1" y="164.6" width="13.8" height="9.2" fill="#f4968e"/><rect x="660.9" y="164.6" width="13.2" height="9.2" fill="#90b8dc"/><rect x="674.1" y="164.6" width="10.5" height="9.2" fill="#c4dcee"/><rect x="684.6" y="164.6" width="11.0" height="9.2" fill="#f9dfdb"/><rect x="647.1" y="173.8" width="11.5" height="7.7" fill="#c4dcee"/><rect x="647.1" y="181.5" width="11.5" height="6.1" fill="#f07a72"/><rect x="647.1" y="187.6" width="11.5" height="6.6" fill="#f6bab2"/><rect x="647.1" y="194.2" width="11.5" height="5.5" fill="#8cbde6"/><rect x="658.6" y="173.8" width="9.4" height="5.2" fill="#f6bab2"/><rect x="668.0" y="173.8" width="8.0" height="5.2" fill="#eeeeee"/><rect x="676.0" y="173.8" width="9.0" height="5.2" fill="#e0393a"/><rect x="685.0" y="173.8" width="7.0" height="5.2" fill="#4a8ad0"/><rect x="692.0" y="173.8" width="3.6" height="5.2" fill="#f9dfdb"/><rect x="658.6" y="179.0" width="7.9" height="5.9" fill="#eeeeee"/><rect x="658.6" y="184.9" width="7.9" height="5.8" fill="#f9dfdb"/><rect x="658.6" y="190.7" width="7.9" height="4.6" fill="#8cbde6"/><rect x="658.6" y="195.3" width="7.9" height="4.4" fill="#8cbde6"/><rect x="666.5" y="179.0" width="5.8" height="3.5" fill="#8cbde6"/><rect x="672.4" y="179.0" width="5.1" height="3.5" fill="#f6bab2"/><rect x="677.5" y="179.0" width="4.8" height="3.5" fill="#8cbde6"/><rect x="682.3" y="179.0" width="4.7" height="3.5" fill="#f9dfdb"/><rect x="687.0" y="179.0" width="4.5" height="3.5" fill="#c4dcee"/><rect x="691.5" y="179.0" width="4.1" height="3.5" fill="#eeeeee"/><rect x="666.5" y="182.5" width="4.8" height="3.0" fill="#f07a72"/><rect x="666.5" y="185.5" width="4.8" height="3.0" fill="#e0393a"/><rect x="666.5" y="188.5" width="4.8" height="2.8" fill="#c4dcee"/><rect x="666.5" y="191.4" width="4.8" height="2.8" fill="#f6bab2"/><rect x="666.5" y="194.2" width="4.8" height="2.8" fill="#e0393a"/><rect x="666.5" y="197.0" width="4.8" height="2.7" fill="#c41e22"/><rect x="671.4" y="182.5" width="5.1" height="2.6" fill="#c41e22"/><rect x="676.5" y="182.5" width="5.0" height="2.6" fill="#f9dfdb"/><rect x="681.5" y="182.5" width="4.7" height="2.6" fill="#c4dcee"/><rect x="686.3" y="182.5" width="4.7" height="2.6" fill="#f6bab2"/><rect x="690.9" y="182.5" width="4.7" height="2.6" fill="#f6bab2"/><rect x="671.4" y="185.1" width="3.9" height="3.1" fill="#eeeeee"/><rect x="671.4" y="188.2" width="3.9" height="3.0" fill="#e0393a"/><rect x="671.4" y="191.2" width="3.9" height="3.0" fill="#eeeeee"/><rect x="671.4" y="194.1" width="3.9" height="2.8" fill="#f6bab2"/><rect x="671.4" y="196.9" width="3.9" height="2.8" fill="#eeeeee"/><rect x="675.3" y="185.1" width="4.3" height="2.4" fill="#e0393a"/><rect x="679.5" y="185.1" width="4.1" height="2.4" fill="#c41e22"/><rect x="683.7" y="185.1" width="4.1" height="2.4" fill="#c41e22"/><rect x="687.8" y="185.1" width="3.9" height="2.4" fill="#eeeeee"/><rect x="691.8" y="185.1" width="3.8" height="2.4" fill="#f9dfdb"/><rect x="675.3" y="187.5" width="3.5" height="2.6" fill="#f6bab2"/><rect x="675.3" y="190.0" width="3.5" height="2.5" fill="#eeeeee"/><rect x="675.3" y="192.6" width="3.5" height="2.4" fill="#eeeeee"/><rect x="675.3" y="194.9" width="3.5" height="2.4" fill="#f07a72"/><rect x="675.3" y="197.3" width="3.5" height="2.4" fill="#eeeeee"/><rect x="678.7" y="187.5" width="3.5" height="2.4" fill="#f6bab2"/><rect x="682.2" y="187.5" width="3.4" height="2.4" fill="#f6bab2"/><rect x="685.6" y="187.5" width="3.4" height="2.4" fill="#e0393a"/><rect x="689.0" y="187.5" width="3.4" height="2.4" fill="#eeeeee"/><rect x="692.3" y="187.5" width="3.3" height="2.4" fill="#f9dfdb"/><rect x="678.7" y="189.8" width="3.7" height="2.0" fill="#f9dfdb"/><rect x="678.7" y="191.9" width="3.7" height="2.0" fill="#8cbde6"/><rect x="678.7" y="193.9" width="3.7" height="2.0" fill="#eeeeee"/><rect x="678.7" y="195.8" width="3.7" height="2.0" fill="#f6bab2"/><rect x="678.7" y="197.8" width="3.7" height="1.9" fill="#f9dfdb"/><rect x="682.5" y="189.8" width="3.3" height="2.1" fill="#f07a72"/><rect x="685.8" y="189.8" width="3.3" height="2.1" fill="#c41e22"/><rect x="689.1" y="189.8" width="3.3" height="2.1" fill="#f9dfdb"/><rect x="692.4" y="189.8" width="3.2" height="2.1" fill="#e0393a"/><rect x="682.5" y="191.9" width="3.4" height="2.0" fill="#f6bab2"/><rect x="682.5" y="194.0" width="3.4" height="1.9" fill="#eeeeee"/><rect x="682.5" y="195.9" width="3.4" height="1.9" fill="#f9dfdb"/><rect x="682.5" y="197.8" width="3.4" height="1.9" fill="#4a8ad0"/><rect x="685.8" y="191.9" width="3.4" height="1.8" fill="#c4dcee"/><rect x="689.3" y="191.9" width="3.2" height="1.8" fill="#f6bab2"/><rect x="692.5" y="191.9" width="3.1" height="1.8" fill="#e0393a"/><rect x="685.8" y="193.7" width="2.7" height="2.0" fill="#8cbde6"/><rect x="685.8" y="195.7" width="2.7" height="2.0" fill="#f6bab2"/><rect x="685.8" y="197.7" width="2.7" height="2.0" fill="#c41e22"/><rect x="688.6" y="193.7" width="3.5" height="1.5" fill="#f9dfdb"/><rect x="692.1" y="193.7" width="3.5" height="1.5" fill="#f6bab2"/><rect x="688.6" y="195.2" width="2.4" height="2.1" fill="#f6bab2"/><rect x="691.0" y="195.2" width="2.4" height="2.1" fill="#f6bab2"/><rect x="693.3" y="195.2" width="2.3" height="2.1" fill="#f9dfdb"/><rect x="688.6" y="197.3" width="2.0" height="2.4" fill="#eeeeee"/><rect x="690.5" y="197.3" width="3.5" height="1.2" fill="#f9dfdb"/><rect x="690.5" y="198.5" width="3.5" height="1.2" fill="#eeeeee"/><rect x="694.0" y="197.3" width="1.6" height="2.4" fill="#c4dcee"/><rect x="704.7" y="107.0" width="14.6" height="26.9" fill="#e23c3c"/><rect x="704.7" y="133.9" width="14.6" height="11.9" fill="#cc2a2a"/><rect x="704.7" y="145.8" width="7.3" height="13.4" fill="#c41e22"/><rect x="712.0" y="145.8" width="7.3" height="13.4" fill="#c41e22"/><rect x="704.7" y="159.2" width="14.6" height="4.7" fill="#c41e22"/><rect x="704.7" y="163.9" width="7.8" height="4.2" fill="#c41e22"/><rect x="712.5" y="163.9" width="6.8" height="4.2" fill="#c41e22"/><rect x="704.7" y="168.0" width="5.2" height="4.3" fill="#e0393a"/><rect x="709.9" y="168.0" width="4.8" height="4.3" fill="#c41e22"/><rect x="714.7" y="168.0" width="4.6" height="4.3" fill="#e85550"/><rect x="704.7" y="172.3" width="5.2" height="3.7" fill="#c41e22"/><rect x="709.9" y="172.3" width="4.9" height="3.7" fill="#c41e22"/><rect x="714.8" y="172.3" width="4.5" height="3.7" fill="#c41e22"/><rect x="704.7" y="176.0" width="5.1" height="2.8" fill="#e85550"/><rect x="709.8" y="176.0" width="4.8" height="2.8" fill="#e0393a"/><rect x="714.6" y="176.0" width="4.7" height="2.8" fill="#c41e22"/><rect x="704.7" y="178.8" width="5.1" height="2.5" fill="#c41e22"/><rect x="709.8" y="178.8" width="4.9" height="2.5" fill="#c41e22"/><rect x="714.7" y="178.8" width="4.6" height="2.5" fill="#c41e22"/><rect x="704.7" y="181.2" width="3.9" height="2.9" fill="#e0393a"/><rect x="708.6" y="181.2" width="3.7" height="2.9" fill="#e85550"/><rect x="712.2" y="181.2" width="3.6" height="2.9" fill="#e0393a"/><rect x="715.8" y="181.2" width="3.5" height="2.9" fill="#c41e22"/><rect x="704.7" y="184.1" width="3.7" height="2.6" fill="#c41e22"/><rect x="708.4" y="184.1" width="3.7" height="2.6" fill="#e85550"/><rect x="712.1" y="184.1" width="3.6" height="2.6" fill="#e85550"/><rect x="715.7" y="184.1" width="3.6" height="2.6" fill="#c41e22"/><rect x="704.7" y="186.6" width="3.8" height="2.4" fill="#c41e22"/><rect x="708.5" y="186.6" width="3.7" height="2.4" fill="#c41e22"/><rect x="712.2" y="186.6" width="3.6" height="2.4" fill="#f6bab2"/><rect x="715.8" y="186.6" width="3.5" height="2.4" fill="#c41e22"/><rect x="704.7" y="189.0" width="3.7" height="2.3" fill="#c41e22"/><rect x="708.4" y="189.0" width="3.7" height="2.3" fill="#e0393a"/><rect x="712.1" y="189.0" width="3.6" height="2.3" fill="#c41e22"/><rect x="715.8" y="189.0" width="3.5" height="2.3" fill="#c41e22"/><rect x="704.7" y="191.3" width="3.8" height="2.1" fill="#e0393a"/><rect x="708.5" y="191.3" width="3.6" height="2.1" fill="#c41e22"/><rect x="712.1" y="191.3" width="3.6" height="2.1" fill="#e0393a"/><rect x="715.7" y="191.3" width="3.6" height="2.1" fill="#c41e22"/><rect x="704.7" y="193.4" width="3.8" height="2.0" fill="#c41e22"/><rect x="704.7" y="195.3" width="3.8" height="2.0" fill="#c41e22"/><rect x="704.7" y="197.3" width="3.8" height="1.9" fill="#c41e22"/><rect x="704.7" y="199.1" width="3.8" height="1.9" fill="#e0393a"/><rect x="708.5" y="193.4" width="3.8" height="1.8" fill="#c41e22"/><rect x="712.2" y="193.4" width="3.7" height="1.8" fill="#c41e22"/><rect x="715.9" y="193.4" width="3.4" height="1.8" fill="#c41e22"/><rect x="708.5" y="195.2" width="3.0" height="2.0" fill="#e0393a"/><rect x="708.5" y="197.2" width="3.0" height="1.9" fill="#c41e22"/><rect x="708.5" y="199.1" width="3.0" height="1.9" fill="#c41e22"/><rect x="711.4" y="195.2" width="2.7" height="2.0" fill="#e0393a"/><rect x="714.1" y="195.2" width="2.6" height="2.0" fill="#e0393a"/><rect x="716.7" y="195.2" width="2.6" height="2.0" fill="#e85550"/><rect x="711.4" y="197.2" width="2.5" height="1.9" fill="#e85550"/><rect x="711.4" y="199.1" width="2.5" height="1.9" fill="#c41e22"/><rect x="714.0" y="197.2" width="2.7" height="1.6" fill="#e0393a"/><rect x="716.6" y="197.2" width="2.7" height="1.6" fill="#c41e22"/><rect x="714.0" y="198.8" width="1.8" height="2.2" fill="#c41e22"/><rect x="715.8" y="198.8" width="3.5" height="1.2" fill="#c41e22"/><rect x="715.8" y="199.9" width="3.5" height="1.1" fill="#c41e22"/><rect x="416.5" y="241.2" width="26.7" height="28.6" fill="#f8e4e0"/><rect x="416.5" y="269.8" width="26.7" height="17.5" fill="#4a86c8"/><rect x="416.5" y="287.3" width="26.7" height="18.9" fill="#a8c8e0"/><rect x="443.2" y="241.2" width="25.9" height="18.9" fill="#f08078"/><rect x="443.2" y="260.1" width="25.9" height="18.0" fill="#4a88d0"/><rect x="443.2" y="278.1" width="25.9" height="16.0" fill="#a0c4e0"/><rect x="443.2" y="294.1" width="25.9" height="12.1" fill="#b0d0e4"/><rect x="469.1" y="241.2" width="20.6" height="13.4" fill="#f4f0f0"/><rect x="489.7" y="241.2" width="23.1" height="13.4" fill="#f6c0b8"/><rect x="512.8" y="241.2" width="20.1" height="13.4" fill="#e04848"/><rect x="532.9" y="241.2" width="20.3" height="13.4" fill="#1f5fb5"/><rect x="469.1" y="254.6" width="15.8" height="15.7" fill="#3a78c0"/><rect x="469.1" y="270.3" width="15.8" height="12.1" fill="#5a90c8"/><rect x="469.1" y="282.4" width="15.8" height="12.2" fill="#f08078"/><rect x="469.1" y="294.6" width="15.8" height="11.6" fill="#a0c4e0"/><rect x="484.9" y="254.6" width="15.0" height="10.4" fill="#f6bab2"/><rect x="499.9" y="254.6" width="21.3" height="10.4" fill="#c4dcee"/><rect x="521.2" y="254.6" width="8.0" height="10.4" fill="#f9dfdb"/><rect x="529.2" y="254.6" width="11.4" height="10.4" fill="#c41e22"/><rect x="540.6" y="254.6" width="12.6" height="10.4" fill="#f07a72"/><rect x="484.9" y="265.0" width="11.6" height="9.0" fill="#8cbde6"/><rect x="484.9" y="274.0" width="11.6" height="9.7" fill="#ee6a62"/><rect x="484.9" y="283.7" width="11.6" height="8.0" fill="#4a8ad0"/><rect x="484.9" y="291.7" width="11.6" height="7.7" fill="#f6bab2"/><rect x="484.9" y="299.4" width="11.6" height="6.8" fill="#eeeeee"/><rect x="496.5" y="265.0" width="11.5" height="6.0" fill="#eeeeee"/><rect x="508.0" y="265.0" width="10.0" height="6.0" fill="#f6bab2"/><rect x="518.0" y="265.0" width="8.0" height="6.0" fill="#f6bab2"/><rect x="526.0" y="265.0" width="10.0" height="6.0" fill="#c4dcee"/><rect x="536.0" y="265.0" width="9.0" height="6.0" fill="#c41e22"/><rect x="545.0" y="265.0" width="8.2" height="6.0" fill="#c41e22"/><rect x="496.5" y="271.0" width="9.1" height="10.1" fill="#f07a72"/><rect x="496.5" y="281.1" width="9.1" height="8.4" fill="#e0393a"/><rect x="496.5" y="289.5" width="9.1" height="7.4" fill="#c4dcee"/><rect x="496.5" y="296.9" width="9.1" height="5.0" fill="#4a8ad0"/><rect x="496.5" y="301.9" width="9.1" height="4.3" fill="#f07a72"/><rect x="505.6" y="271.0" width="8.3" height="4.2" fill="#eeeeee"/><rect x="513.9" y="271.0" width="8.3" height="4.2" fill="#c41e22"/><rect x="522.2" y="271.0" width="6.9" height="4.2" fill="#f07a72"/><rect x="529.1" y="271.0" width="6.3" height="4.2" fill="#c4dcee"/><rect x="535.4" y="271.0" width="6.2" height="4.2" fill="#8cbde6"/><rect x="541.6" y="271.0" width="6.1" height="4.2" fill="#eeeeee"/><rect x="547.7" y="271.0" width="5.5" height="4.2" fill="#c4dcee"/><rect x="505.6" y="275.2" width="6.5" height="3.4" fill="#f6bab2"/><rect x="512.1" y="275.2" width="6.4" height="3.4" fill="#f07a72"/><rect x="518.5" y="275.2" width="6.4" height="3.4" fill="#f07a72"/><rect x="524.9" y="275.2" width="6.1" height="3.4" fill="#e0393a"/><rect x="531.0" y="275.2" width="5.8" height="3.4" fill="#f6bab2"/><rect x="536.8" y="275.2" width="5.5" height="3.4" fill="#e0393a"/><rect x="542.3" y="275.2" width="5.5" height="3.4" fill="#f6bab2"/><rect x="547.8" y="275.2" width="5.4" height="3.4" fill="#eeeeee"/><rect x="505.6" y="278.6" width="5.0" height="3.6" fill="#f6bab2"/><rect x="505.6" y="282.3" width="5.0" height="3.6" fill="#c41e22"/><rect x="505.6" y="285.9" width="5.0" height="3.6" fill="#f07a72"/><rect x="505.6" y="289.6" width="5.0" height="3.5" fill="#f6bab2"/><rect x="505.6" y="293.1" width="5.0" height="3.4" fill="#f07a72"/><rect x="505.6" y="296.5" width="5.0" height="3.3" fill="#f6bab2"/><rect x="505.6" y="299.8" width="5.0" height="3.3" fill="#4a8ad0"/><rect x="505.6" y="303.0" width="5.0" height="3.2" fill="#c4dcee"/><rect x="510.6" y="278.6" width="5.1" height="3.1" fill="#f6bab2"/><rect x="515.7" y="278.6" width="5.1" height="3.1" fill="#f6bab2"/><rect x="520.8" y="278.6" width="5.0" height="3.1" fill="#e0393a"/><rect x="525.8" y="278.6" width="5.0" height="3.1" fill="#e0393a"/><rect x="530.8" y="278.6" width="4.7" height="3.1" fill="#f07a72"/><rect x="535.5" y="278.6" width="4.6" height="3.1" fill="#e0393a"/><rect x="540.1" y="278.6" width="4.5" height="3.1" fill="#c4dcee"/><rect x="544.6" y="278.6" width="4.4" height="3.1" fill="#f6bab2"/><rect x="549.0" y="278.6" width="4.2" height="3.1" fill="#c41e22"/><rect x="510.6" y="281.7" width="4.4" height="2.9" fill="#f6bab2"/><rect x="510.6" y="284.6" width="4.4" height="2.8" fill="#e0393a"/><rect x="510.6" y="287.4" width="4.4" height="2.8" fill="#f07a72"/><rect x="510.6" y="290.2" width="4.4" height="2.7" fill="#c4dcee"/><rect x="510.6" y="293.0" width="4.4" height="2.7" fill="#8cbde6"/><rect x="510.6" y="295.7" width="4.4" height="2.7" fill="#4a8ad0"/><rect x="510.6" y="298.3" width="4.4" height="2.7" fill="#f07a72"/><rect x="510.6" y="301.0" width="4.4" height="2.7" fill="#c41e22"/><rect x="510.6" y="303.7" width="4.4" height="2.5" fill="#f6bab2"/><rect x="515.0" y="281.7" width="4.4" height="2.5" fill="#c4dcee"/><rect x="519.4" y="281.7" width="4.4" height="2.5" fill="#c4dcee"/><rect x="523.7" y="281.7" width="4.3" height="2.5" fill="#e0393a"/><rect x="528.0" y="281.7" width="4.3" height="2.5" fill="#f07a72"/><rect x="532.3" y="281.7" width="4.3" height="2.5" fill="#c4dcee"/><rect x="536.6" y="281.7" width="4.3" height="2.5" fill="#c4dcee"/><rect x="540.8" y="281.7" width="4.2" height="2.5" fill="#c4dcee"/><rect x="545.1" y="281.7" width="4.1" height="2.5" fill="#f6bab2"/><rect x="549.2" y="281.7" width="4.0" height="2.5" fill="#f6bab2"/><rect x="515.0" y="284.2" width="4.0" height="2.5" fill="#f6bab2"/><rect x="515.0" y="286.7" width="4.0" height="2.5" fill="#f6bab2"/><rect x="515.0" y="289.2" width="4.0" height="2.5" fill="#eeeeee"/><rect x="515.0" y="291.7" width="4.0" height="2.5" fill="#eeeeee"/><rect x="515.0" y="294.2" width="4.0" height="2.4" fill="#e0393a"/><rect x="515.0" y="296.7" width="4.0" height="2.4" fill="#e0393a"/><rect x="515.0" y="299.1" width="4.0" height="2.4" fill="#8cbde6"/><rect x="515.0" y="301.5" width="4.0" height="2.4" fill="#f07a72"/><rect x="515.0" y="303.8" width="4.0" height="2.4" fill="#f6bab2"/><rect x="519.0" y="284.2" width="3.9" height="2.4" fill="#4a8ad0"/><rect x="522.9" y="284.2" width="3.9" height="2.4" fill="#eeeeee"/><rect x="526.7" y="284.2" width="3.8" height="2.4" fill="#f07a72"/><rect x="530.6" y="284.2" width="3.8" height="2.4" fill="#c4dcee"/><rect x="534.4" y="284.2" width="3.8" height="2.4" fill="#f07a72"/><rect x="538.2" y="284.2" width="3.8" height="2.4" fill="#4a8ad0"/><rect x="542.0" y="284.2" width="3.8" height="2.4" fill="#c4dcee"/><rect x="545.8" y="284.2" width="3.8" height="2.4" fill="#f07a72"/><rect x="549.5" y="284.2" width="3.7" height="2.4" fill="#8cbde6"/><rect x="519.0" y="286.6" width="3.9" height="2.2" fill="#8cbde6"/><rect x="519.0" y="288.8" width="3.9" height="2.2" fill="#e0393a"/><rect x="519.0" y="291.1" width="3.9" height="2.2" fill="#eeeeee"/><rect x="519.0" y="293.3" width="3.9" height="2.2" fill="#eeeeee"/><rect x="519.0" y="295.5" width="3.9" height="2.2" fill="#8cbde6"/><rect x="519.0" y="297.7" width="3.9" height="2.2" fill="#8cbde6"/><rect x="519.0" y="299.8" width="3.9" height="2.1" fill="#c41e22"/><rect x="519.0" y="302.0" width="3.9" height="2.1" fill="#c4dcee"/><rect x="519.0" y="304.1" width="3.9" height="2.1" fill="#c4dcee"/><rect x="522.8" y="286.6" width="3.4" height="2.3" fill="#f6bab2"/><rect x="526.3" y="286.6" width="3.4" height="2.3" fill="#f6bab2"/><rect x="529.7" y="286.6" width="3.4" height="2.3" fill="#8cbde6"/><rect x="533.2" y="286.6" width="3.4" height="2.3" fill="#8cbde6"/><rect x="536.6" y="286.6" width="3.4" height="2.3" fill="#e0393a"/><rect x="539.9" y="286.6" width="3.3" height="2.3" fill="#f6bab2"/><rect x="543.3" y="286.6" width="3.3" height="2.3" fill="#eeeeee"/><rect x="546.6" y="286.6" width="3.3" height="2.3" fill="#f07a72"/><rect x="549.9" y="286.6" width="3.3" height="2.3" fill="#8cbde6"/><rect x="522.8" y="288.9" width="3.4" height="2.2" fill="#f6bab2"/><rect x="522.8" y="291.1" width="3.4" height="2.2" fill="#f07a72"/><rect x="522.8" y="293.3" width="3.4" height="2.2" fill="#eeeeee"/><rect x="522.8" y="295.5" width="3.4" height="2.2" fill="#c41e22"/><rect x="522.8" y="297.7" width="3.4" height="2.1" fill="#eeeeee"/><rect x="522.8" y="299.8" width="3.4" height="2.1" fill="#c41e22"/><rect x="522.8" y="302.0" width="3.4" height="2.1" fill="#e0393a"/><rect x="522.8" y="304.1" width="3.4" height="2.1" fill="#e0393a"/><rect x="526.3" y="288.9" width="3.4" height="2.1" fill="#f6bab2"/><rect x="529.7" y="288.9" width="3.4" height="2.1" fill="#f07a72"/><rect x="533.1" y="288.9" width="3.4" height="2.1" fill="#8cbde6"/><rect x="536.5" y="288.9" width="3.4" height="2.1" fill="#4a8ad0"/><rect x="539.9" y="288.9" width="3.4" height="2.1" fill="#c4dcee"/><rect x="543.2" y="288.9" width="3.4" height="2.1" fill="#f6bab2"/><rect x="546.6" y="288.9" width="3.4" height="2.1" fill="#f6bab2"/><rect x="549.9" y="288.9" width="3.3" height="2.1" fill="#f07a72"/><rect x="526.3" y="291.1" width="3.1" height="2.2" fill="#8cbde6"/><rect x="526.3" y="293.2" width="3.1" height="2.2" fill="#4a8ad0"/><rect x="526.3" y="295.4" width="3.1" height="2.2" fill="#f6bab2"/><rect x="526.3" y="297.6" width="3.1" height="2.2" fill="#c41e22"/><rect x="526.3" y="299.8" width="3.1" height="2.2" fill="#f07a72"/><rect x="526.3" y="301.9" width="3.1" height="2.1" fill="#e0393a"/><rect x="526.3" y="304.1" width="3.1" height="2.1" fill="#f6bab2"/><rect x="529.4" y="291.1" width="3.4" height="1.9" fill="#c4dcee"/><rect x="532.9" y="291.1" width="3.4" height="1.9" fill="#c4dcee"/><rect x="536.3" y="291.1" width="3.4" height="1.9" fill="#4a8ad0"/><rect x="539.7" y="291.1" width="3.4" height="1.9" fill="#e0393a"/><rect x="543.1" y="291.1" width="3.4" height="1.9" fill="#e0393a"/><rect x="546.5" y="291.1" width="3.4" height="1.9" fill="#c41e22"/><rect x="549.9" y="291.1" width="3.3" height="1.9" fill="#eeeeee"/><rect x="529.4" y="293.0" width="3.3" height="1.9" fill="#8cbde6"/><rect x="529.4" y="294.9" width="3.3" height="1.9" fill="#c4dcee"/><rect x="529.4" y="296.8" width="3.3" height="1.9" fill="#f6bab2"/><rect x="529.4" y="298.8" width="3.3" height="1.9" fill="#f07a72"/><rect x="529.4" y="300.6" width="3.3" height="1.9" fill="#e0393a"/><rect x="529.4" y="302.5" width="3.3" height="1.9" fill="#8cbde6"/><rect x="529.4" y="304.4" width="3.3" height="1.8" fill="#c41e22"/><rect x="532.8" y="293.0" width="3.0" height="2.0" fill="#f6bab2"/><rect x="535.7" y="293.0" width="3.0" height="2.0" fill="#4a8ad0"/><rect x="538.7" y="293.0" width="2.9" height="2.0" fill="#4a8ad0"/><rect x="541.6" y="293.0" width="2.9" height="2.0" fill="#8cbde6"/><rect x="544.5" y="293.0" width="2.9" height="2.0" fill="#e0393a"/><rect x="547.4" y="293.0" width="2.9" height="2.0" fill="#e0393a"/><rect x="550.3" y="293.0" width="2.9" height="2.0" fill="#f07a72"/><rect x="532.8" y="295.0" width="3.1" height="1.9" fill="#4a8ad0"/><rect x="532.8" y="296.9" width="3.1" height="1.9" fill="#e0393a"/><rect x="532.8" y="298.8" width="3.1" height="1.9" fill="#4a8ad0"/><rect x="532.8" y="300.7" width="3.1" height="1.9" fill="#f6bab2"/><rect x="532.8" y="302.5" width="3.1" height="1.8" fill="#eeeeee"/><rect x="532.8" y="304.4" width="3.1" height="1.8" fill="#e0393a"/><rect x="535.9" y="295.0" width="2.9" height="1.9" fill="#f6bab2"/><rect x="538.8" y="295.0" width="2.9" height="1.9" fill="#f6bab2"/><rect x="541.7" y="295.0" width="2.9" height="1.9" fill="#eeeeee"/><rect x="544.6" y="295.0" width="2.9" height="1.9" fill="#eeeeee"/><rect x="547.4" y="295.0" width="2.9" height="1.9" fill="#e0393a"/><rect x="550.3" y="295.0" width="2.9" height="1.9" fill="#eeeeee"/><rect x="535.9" y="297.0" width="3.0" height="1.9" fill="#f07a72"/><rect x="535.9" y="298.8" width="3.0" height="1.9" fill="#c41e22"/><rect x="535.9" y="300.7" width="3.0" height="1.8" fill="#f6bab2"/><rect x="535.9" y="302.5" width="3.0" height="1.8" fill="#f07a72"/><rect x="535.9" y="304.4" width="3.0" height="1.8" fill="#f07a72"/><rect x="538.8" y="297.0" width="2.9" height="1.9" fill="#f6bab2"/><rect x="541.7" y="297.0" width="2.9" height="1.9" fill="#c41e22"/><rect x="544.6" y="297.0" width="2.9" height="1.9" fill="#c4dcee"/><rect x="547.5" y="297.0" width="2.9" height="1.9" fill="#eeeeee"/><rect x="550.4" y="297.0" width="2.8" height="1.9" fill="#e0393a"/><rect x="538.8" y="298.8" width="2.8" height="1.9" fill="#e0393a"/><rect x="538.8" y="300.7" width="2.8" height="1.8" fill="#8cbde6"/><rect x="538.8" y="302.6" width="2.8" height="1.8" fill="#c4dcee"/><rect x="538.8" y="304.4" width="2.8" height="1.8" fill="#f6bab2"/><rect x="541.6" y="298.8" width="2.9" height="1.7" fill="#c41e22"/><rect x="544.6" y="298.8" width="2.9" height="1.7" fill="#8cbde6"/><rect x="547.5" y="298.8" width="2.9" height="1.7" fill="#4a8ad0"/><rect x="550.4" y="298.8" width="2.8" height="1.7" fill="#c4dcee"/><rect x="541.6" y="300.5" width="2.5" height="1.9" fill="#eeeeee"/><rect x="541.6" y="302.4" width="2.5" height="1.9" fill="#f07a72"/><rect x="541.6" y="304.3" width="2.5" height="1.9" fill="#e0393a"/><rect x="544.1" y="300.5" width="2.4" height="1.9" fill="#f07a72"/><rect x="544.1" y="302.5" width="2.4" height="1.9" fill="#c4dcee"/><rect x="544.1" y="304.3" width="2.4" height="1.9" fill="#e0393a"/><rect x="546.5" y="300.5" width="2.3" height="1.9" fill="#4a8ad0"/><rect x="548.8" y="300.5" width="2.2" height="1.9" fill="#eeeeee"/><rect x="551.0" y="300.5" width="2.2" height="1.9" fill="#c4dcee"/><rect x="546.5" y="302.4" width="2.1" height="1.9" fill="#eeeeee"/><rect x="546.5" y="304.3" width="2.1" height="1.9" fill="#e0393a"/><rect x="548.6" y="302.4" width="2.4" height="1.6" fill="#f6bab2"/><rect x="551.0" y="302.4" width="2.2" height="1.6" fill="#f07a72"/><rect x="548.6" y="304.0" width="3.1" height="1.1" fill="#c41e22"/><rect x="548.6" y="305.1" width="3.1" height="1.1" fill="#4a8ad0"/><rect x="551.7" y="304.0" width="1.5" height="2.2" fill="#eeeeee"/><rect x="572.0" y="241.1" width="27.3" height="22.2" fill="#c8dcea"/><rect x="572.0" y="263.3" width="27.3" height="22.2" fill="#90bce0"/><rect x="599.3" y="241.1" width="27.3" height="15.4" fill="#f6d4ce"/><rect x="599.3" y="256.5" width="27.3" height="15.4" fill="#f6c4bc"/><rect x="599.3" y="271.9" width="27.3" height="13.6" fill="#f6b0a6"/><rect x="626.6" y="241.1" width="23.1" height="15.4" fill="#f0f0f2"/><rect x="626.6" y="256.5" width="23.1" height="15.4" fill="#ec6a62"/><rect x="626.6" y="271.9" width="23.1" height="13.6" fill="#eef0f4"/><rect x="649.7" y="241.1" width="25.6" height="11.1" fill="#f4eeee"/><rect x="675.3" y="241.1" width="17.1" height="11.1" fill="#f6e4e2"/><rect x="692.4" y="241.1" width="14.5" height="11.1" fill="#c01818"/><rect x="706.9" y="241.1" width="11.1" height="11.1" fill="#f9dfdb"/><rect x="649.7" y="252.2" width="12.0" height="8.6" fill="#f9dfdb"/><rect x="649.7" y="260.8" width="12.0" height="9.4" fill="#f6bab2"/><rect x="649.7" y="270.2" width="12.0" height="7.7" fill="#f07a72"/><rect x="649.7" y="277.9" width="12.0" height="7.6" fill="#f6bab2"/><rect x="661.7" y="252.2" width="14.5" height="6.0" fill="#f07a72"/><rect x="676.2" y="252.2" width="11.4" height="6.0" fill="#f09088"/><rect x="687.6" y="252.2" width="10.8" height="6.0" fill="#e0393a"/><rect x="698.4" y="252.2" width="11.1" height="6.0" fill="#e0393a"/><rect x="709.5" y="252.2" width="8.5" height="6.0" fill="#eeeeee"/><rect x="661.7" y="258.2" width="9.3" height="10.2" fill="#e0393a"/><rect x="661.7" y="268.4" width="9.3" height="7.5" fill="#e0393a"/><rect x="661.7" y="275.9" width="9.3" height="5.0" fill="#f6bab2"/><rect x="661.7" y="280.8" width="9.3" height="4.7" fill="#e0393a"/><rect x="671.0" y="258.2" width="6.3" height="6.2" fill="#e0393a"/><rect x="671.0" y="264.4" width="6.3" height="5.0" fill="#e0393a"/><rect x="671.0" y="269.4" width="6.3" height="3.8" fill="#f07a72"/><rect x="671.0" y="273.2" width="6.3" height="3.2" fill="#e0393a"/><rect x="671.0" y="276.4" width="6.3" height="3.0" fill="#f07a72"/><rect x="671.0" y="279.4" width="6.3" height="3.0" fill="#c41e22"/><rect x="671.0" y="282.5" width="6.3" height="3.0" fill="#eeeeee"/><rect x="677.3" y="258.2" width="5.5" height="3.4" fill="#eeeeee"/><rect x="682.8" y="258.2" width="5.4" height="3.4" fill="#c4dcee"/><rect x="688.2" y="258.2" width="5.3" height="3.4" fill="#f6bab2"/><rect x="693.5" y="258.2" width="5.1" height="3.4" fill="#4a8ad0"/><rect x="698.6" y="258.2" width="4.9" height="3.4" fill="#eeeeee"/><rect x="703.5" y="258.2" width="4.9" height="3.4" fill="#c41e22"/><rect x="708.4" y="258.2" width="4.8" height="3.4" fill="#c4dcee"/><rect x="713.2" y="258.2" width="4.8" height="3.4" fill="#eeeeee"/><rect x="677.3" y="261.6" width="5.1" height="3.2" fill="#e0393a"/><rect x="677.3" y="264.8" width="5.1" height="3.2" fill="#c4dcee"/><rect x="677.3" y="268.0" width="5.1" height="3.1" fill="#8cbde6"/><rect x="677.3" y="271.1" width="5.1" height="3.1" fill="#e0393a"/><rect x="677.3" y="274.2" width="5.1" height="2.9" fill="#c41e22"/><rect x="677.3" y="277.1" width="5.1" height="2.9" fill="#e0393a"/><rect x="677.3" y="280.0" width="5.1" height="2.8" fill="#eeeeee"/><rect x="677.3" y="282.8" width="5.1" height="2.7" fill="#f6bab2"/><rect x="682.4" y="261.6" width="4.8" height="2.9" fill="#c41e22"/><rect x="687.2" y="261.6" width="4.6" height="2.9" fill="#f6bab2"/><rect x="691.8" y="261.6" width="4.6" height="2.9" fill="#f6bab2"/><rect x="696.4" y="261.6" width="4.6" height="2.9" fill="#eeeeee"/><rect x="701.0" y="261.6" width="4.3" height="2.9" fill="#e0393a"/><rect x="705.3" y="261.6" width="4.3" height="2.9" fill="#8cbde6"/><rect x="709.6" y="261.6" width="4.2" height="2.9" fill="#eeeeee"/><rect x="713.8" y="261.6" width="4.2" height="2.9" fill="#e0393a"/><rect x="682.4" y="264.5" width="4.3" height="2.8" fill="#e0393a"/><rect x="682.4" y="267.4" width="4.3" height="2.8" fill="#f07a72"/><rect x="682.4" y="270.2" width="4.3" height="2.8" fill="#e0393a"/><rect x="682.4" y="273.0" width="4.3" height="2.7" fill="#f6bab2"/><rect x="682.4" y="275.7" width="4.3" height="2.6" fill="#e0393a"/><rect x="682.4" y="278.3" width="4.3" height="2.5" fill="#eeeeee"/><rect x="682.4" y="280.8" width="4.3" height="2.4" fill="#8cbde6"/><rect x="682.4" y="283.2" width="4.3" height="2.3" fill="#c41e22"/><rect x="686.7" y="264.5" width="4.0" height="2.5" fill="#c41e22"/><rect x="690.8" y="264.5" width="4.0" height="2.5" fill="#c41e22"/><rect x="694.8" y="264.5" width="3.9" height="2.5" fill="#c41e22"/><rect x="698.7" y="264.5" width="3.9" height="2.5" fill="#f6bab2"/><rect x="702.6" y="264.5" width="3.9" height="2.5" fill="#f6bab2"/><rect x="706.5" y="264.5" width="3.9" height="2.5" fill="#f07a72"/><rect x="710.4" y="264.5" width="3.8" height="2.5" fill="#f6bab2"/><rect x="714.2" y="264.5" width="3.8" height="2.5" fill="#f6bab2"/><rect x="686.7" y="267.0" width="4.0" height="2.4" fill="#c41e22"/><rect x="686.7" y="269.4" width="4.0" height="2.4" fill="#e0393a"/><rect x="686.7" y="271.8" width="4.0" height="2.3" fill="#e0393a"/><rect x="686.7" y="274.1" width="4.0" height="2.3" fill="#e0393a"/><rect x="686.7" y="276.5" width="4.0" height="2.3" fill="#8cbde6"/><rect x="686.7" y="278.8" width="4.0" height="2.3" fill="#e0393a"/><rect x="686.7" y="281.1" width="4.0" height="2.2" fill="#c41e22"/><rect x="686.7" y="283.3" width="4.0" height="2.2" fill="#f6bab2"/><rect x="690.7" y="267.0" width="3.5" height="2.4" fill="#c41e22"/><rect x="694.3" y="267.0" width="3.5" height="2.4" fill="#c41e22"/><rect x="697.7" y="267.0" width="3.4" height="2.4" fill="#eeeeee"/><rect x="701.1" y="267.0" width="3.4" height="2.4" fill="#c41e22"/><rect x="704.6" y="267.0" width="3.4" height="2.4" fill="#c4dcee"/><rect x="708.0" y="267.0" width="3.4" height="2.4" fill="#f6bab2"/><rect x="711.3" y="267.0" width="3.3" height="2.4" fill="#c41e22"/><rect x="714.7" y="267.0" width="3.3" height="2.4" fill="#eeeeee"/><rect x="690.7" y="269.4" width="3.4" height="2.3" fill="#f07a72"/><rect x="690.7" y="271.8" width="3.4" height="2.3" fill="#c4dcee"/><rect x="690.7" y="274.1" width="3.4" height="2.3" fill="#8cbde6"/><rect x="690.7" y="276.4" width="3.4" height="2.3" fill="#f07a72"/><rect x="690.7" y="278.7" width="3.4" height="2.3" fill="#e0393a"/><rect x="690.7" y="281.0" width="3.4" height="2.3" fill="#f6bab2"/><rect x="690.7" y="283.2" width="3.4" height="2.3" fill="#c4dcee"/><rect x="694.1" y="269.4" width="3.5" height="2.2" fill="#e0393a"/><rect x="697.7" y="269.4" width="3.5" height="2.2" fill="#f07a72"/><rect x="701.2" y="269.4" width="3.4" height="2.2" fill="#e0393a"/><rect x="704.6" y="269.4" width="3.4" height="2.2" fill="#c41e22"/><rect x="708.0" y="269.4" width="3.4" height="2.2" fill="#c41e22"/><rect x="711.3" y="269.4" width="3.4" height="2.2" fill="#f6bab2"/><rect x="714.7" y="269.4" width="3.3" height="2.2" fill="#c41e22"/><rect x="694.1" y="271.6" width="3.6" height="2.0" fill="#eeeeee"/><rect x="694.1" y="273.6" width="3.6" height="2.0" fill="#f07a72"/><rect x="694.1" y="275.6" width="3.6" height="2.0" fill="#f07a72"/><rect x="694.1" y="277.6" width="3.6" height="2.0" fill="#f07a72"/><rect x="694.1" y="279.6" width="3.6" height="2.0" fill="#e0393a"/><rect x="694.1" y="281.6" width="3.6" height="2.0" fill="#c41e22"/><rect x="694.1" y="283.5" width="3.6" height="2.0" fill="#c41e22"/><rect x="697.8" y="271.6" width="3.4" height="2.0" fill="#f07a72"/><rect x="701.2" y="271.6" width="3.4" height="2.0" fill="#c41e22"/><rect x="704.7" y="271.6" width="3.4" height="2.0" fill="#c41e22"/><rect x="708.1" y="271.6" width="3.4" height="2.0" fill="#eeeeee"/><rect x="711.5" y="271.6" width="3.3" height="2.0" fill="#f07a72"/><rect x="714.8" y="271.6" width="3.2" height="2.0" fill="#f6bab2"/><rect x="697.8" y="273.7" width="3.2" height="2.0" fill="#c41e22"/><rect x="697.8" y="275.7" width="3.2" height="2.0" fill="#c41e22"/><rect x="697.8" y="277.7" width="3.2" height="2.0" fill="#8cbde6"/><rect x="697.8" y="279.6" width="3.2" height="2.0" fill="#c4dcee"/><rect x="697.8" y="281.6" width="3.2" height="2.0" fill="#e0393a"/><rect x="697.8" y="283.6" width="3.2" height="1.9" fill="#f07a72"/><rect x="701.0" y="273.7" width="3.5" height="1.8" fill="#e0393a"/><rect x="704.5" y="273.7" width="3.4" height="1.8" fill="#c41e22"/><rect x="707.9" y="273.7" width="3.4" height="1.8" fill="#f07a72"/><rect x="711.3" y="273.7" width="3.4" height="1.8" fill="#c41e22"/><rect x="714.7" y="273.7" width="3.3" height="1.8" fill="#e0393a"/><rect x="701.0" y="275.5" width="2.9" height="2.1" fill="#c41e22"/><rect x="701.0" y="277.5" width="2.9" height="2.0" fill="#eeeeee"/><rect x="701.0" y="279.5" width="2.9" height="2.0" fill="#f6bab2"/><rect x="701.0" y="281.5" width="2.9" height="2.0" fill="#e0393a"/><rect x="701.0" y="283.5" width="2.9" height="2.0" fill="#eeeeee"/><rect x="703.9" y="275.5" width="2.9" height="1.9" fill="#c41e22"/><rect x="706.8" y="275.5" width="2.8" height="1.9" fill="#f07a72"/><rect x="709.6" y="275.5" width="2.8" height="1.9" fill="#8cbde6"/><rect x="712.4" y="275.5" width="2.8" height="1.9" fill="#c41e22"/><rect x="715.2" y="275.5" width="2.8" height="1.9" fill="#eeeeee"/><rect x="703.9" y="277.4" width="3.2" height="1.6" fill="#e0393a"/><rect x="703.9" y="279.1" width="3.2" height="1.6" fill="#eeeeee"/><rect x="703.9" y="280.7" width="3.2" height="1.6" fill="#e0393a"/><rect x="703.9" y="282.3" width="3.2" height="1.6" fill="#c41e22"/><rect x="703.9" y="283.9" width="3.2" height="1.6" fill="#f6bab2"/><rect x="707.1" y="277.4" width="2.7" height="1.9" fill="#c41e22"/><rect x="709.8" y="277.4" width="2.7" height="1.9" fill="#f07a72"/><rect x="712.6" y="277.4" width="2.7" height="1.9" fill="#8cbde6"/><rect x="715.3" y="277.4" width="2.7" height="1.9" fill="#e0393a"/><rect x="707.1" y="279.3" width="3.2" height="1.6" fill="#eeeeee"/><rect x="707.1" y="280.9" width="3.2" height="1.6" fill="#c41e22"/><rect x="707.1" y="282.4" width="3.2" height="1.5" fill="#c41e22"/><rect x="707.1" y="284.0" width="3.2" height="1.5" fill="#e0393a"/><rect x="710.3" y="279.3" width="2.6" height="1.9" fill="#c4dcee"/><rect x="712.9" y="279.3" width="2.5" height="1.9" fill="#c41e22"/><rect x="715.5" y="279.3" width="2.5" height="1.9" fill="#f07a72"/><rect x="710.3" y="281.2" width="3.1" height="1.5" fill="#e0393a"/><rect x="710.3" y="282.7" width="3.1" height="1.5" fill="#c41e22"/><rect x="710.3" y="284.1" width="3.1" height="1.4" fill="#f6bab2"/><rect x="713.4" y="281.2" width="2.3" height="1.9" fill="#4a8ad0"/><rect x="715.7" y="281.2" width="2.3" height="1.9" fill="#e0393a"/><rect x="713.4" y="283.0" width="3.1" height="1.2" fill="#f6bab2"/><rect x="713.4" y="284.3" width="3.1" height="1.2" fill="#f07a72"/><rect x="716.6" y="283.0" width="1.4" height="2.5" fill="#f6bab2"/><rect x="571.7" y="326.7" width="20.2" height="25.3" fill="#f6e0dc"/><rect x="571.7" y="352.0" width="20.2" height="8.1" fill="#f6f0f0"/><rect x="571.7" y="360.1" width="20.2" height="8.0" fill="#f4a098"/><rect x="591.9" y="326.7" width="17.9" height="8.8" fill="#3a80d0"/><rect x="609.8" y="326.7" width="12.5" height="8.8" fill="#f09088"/><rect x="622.3" y="326.7" width="11.8" height="8.8" fill="#f6bab2"/><rect x="634.1" y="326.7" width="11.1" height="8.8" fill="#c4dcee"/><rect x="645.2" y="326.7" width="10.8" height="8.8" fill="#c4dcee"/><rect x="591.9" y="335.5" width="12.9" height="7.8" fill="#5a90d0"/><rect x="591.9" y="343.3" width="12.9" height="6.7" fill="#f6bab2"/><rect x="591.9" y="350.0" width="12.9" height="5.8" fill="#f6bab2"/><rect x="591.9" y="355.8" width="12.9" height="6.4" fill="#e0393a"/><rect x="591.9" y="362.2" width="12.9" height="5.9" fill="#f9dfdb"/><rect x="604.8" y="335.5" width="10.1" height="5.1" fill="#f6bab2"/><rect x="614.9" y="335.5" width="10.4" height="5.1" fill="#f07a72"/><rect x="625.3" y="335.5" width="10.2" height="5.1" fill="#eeeeee"/><rect x="635.5" y="335.5" width="10.9" height="5.1" fill="#ee6a62"/><rect x="646.4" y="335.5" width="9.6" height="5.1" fill="#f6bab2"/><rect x="604.8" y="340.6" width="8.7" height="7.1" fill="#e0393a"/><rect x="604.8" y="347.7" width="8.7" height="6.6" fill="#eeeeee"/><rect x="604.8" y="354.3" width="8.7" height="5.5" fill="#c41e22"/><rect x="604.8" y="359.8" width="8.7" height="4.2" fill="#f6bab2"/><rect x="604.8" y="364.0" width="8.7" height="4.1" fill="#c41e22"/><rect x="613.5" y="340.6" width="8.3" height="4.0" fill="#8cbde6"/><rect x="621.8" y="340.6" width="6.3" height="4.0" fill="#f6bab2"/><rect x="628.1" y="340.6" width="6.2" height="4.0" fill="#c41e22"/><rect x="634.3" y="340.6" width="5.8" height="4.0" fill="#c41e22"/><rect x="640.1" y="340.6" width="5.4" height="4.0" fill="#8cbde6"/><rect x="645.5" y="340.6" width="5.4" height="4.0" fill="#c41e22"/><rect x="650.9" y="340.6" width="5.1" height="4.0" fill="#eeeeee"/><rect x="613.5" y="344.6" width="5.1" height="3.7" fill="#e0393a"/><rect x="613.5" y="348.3" width="5.1" height="3.5" fill="#4a8ad0"/><rect x="613.5" y="351.8" width="5.1" height="3.5" fill="#8cbde6"/><rect x="613.5" y="355.3" width="5.1" height="3.4" fill="#eeeeee"/><rect x="613.5" y="358.7" width="5.1" height="3.4" fill="#f6bab2"/><rect x="613.5" y="362.0" width="5.1" height="3.0" fill="#f6bab2"/><rect x="613.5" y="365.1" width="5.1" height="3.0" fill="#f6bab2"/><rect x="618.6" y="344.6" width="5.3" height="2.9" fill="#e0393a"/><rect x="623.9" y="344.6" width="4.7" height="2.9" fill="#eeeeee"/><rect x="628.6" y="344.6" width="4.7" height="2.9" fill="#8cbde6"/><rect x="633.3" y="344.6" width="4.7" height="2.9" fill="#c41e22"/><rect x="638.0" y="344.6" width="4.6" height="2.9" fill="#eeeeee"/><rect x="642.6" y="344.6" width="4.5" height="2.9" fill="#c41e22"/><rect x="647.1" y="344.6" width="4.5" height="2.9" fill="#f07a72"/><rect x="651.6" y="344.6" width="4.4" height="2.9" fill="#e0393a"/><rect x="618.6" y="347.5" width="4.6" height="2.7" fill="#eeeeee"/><rect x="618.6" y="350.2" width="4.6" height="2.6" fill="#eeeeee"/><rect x="618.6" y="352.8" width="4.6" height="2.6" fill="#eeeeee"/><rect x="618.6" y="355.4" width="4.6" height="2.6" fill="#e0393a"/><rect x="618.6" y="358.0" width="4.6" height="2.6" fill="#c4dcee"/><rect x="618.6" y="360.5" width="4.6" height="2.5" fill="#c41e22"/><rect x="618.6" y="363.1" width="4.6" height="2.5" fill="#f6bab2"/><rect x="618.6" y="365.6" width="4.6" height="2.5" fill="#c4dcee"/><rect x="623.2" y="347.5" width="4.3" height="2.7" fill="#8cbde6"/><rect x="627.4" y="347.5" width="4.2" height="2.7" fill="#c4dcee"/><rect x="631.7" y="347.5" width="4.2" height="2.7" fill="#c4dcee"/><rect x="635.9" y="347.5" width="4.1" height="2.7" fill="#f6bab2"/><rect x="640.0" y="347.5" width="4.1" height="2.7" fill="#e0393a"/><rect x="644.1" y="347.5" width="4.1" height="2.7" fill="#f6bab2"/><rect x="648.2" y="347.5" width="4.0" height="2.7" fill="#c4dcee"/><rect x="652.2" y="347.5" width="3.8" height="2.7" fill="#eeeeee"/><rect x="623.2" y="350.2" width="3.7" height="2.7" fill="#c4dcee"/><rect x="623.2" y="352.9" width="3.7" height="2.6" fill="#eeeeee"/><rect x="623.2" y="355.5" width="3.7" height="2.6" fill="#c4dcee"/><rect x="623.2" y="358.1" width="3.7" height="2.5" fill="#f07a72"/><rect x="623.2" y="360.7" width="3.7" height="2.5" fill="#f6bab2"/><rect x="623.2" y="363.2" width="3.7" height="2.5" fill="#e0393a"/><rect x="623.2" y="365.6" width="3.7" height="2.5" fill="#f07a72"/><rect x="626.9" y="350.2" width="3.9" height="2.3" fill="#8cbde6"/><rect x="626.9" y="352.5" width="3.9" height="2.3" fill="#f07a72"/><rect x="626.9" y="354.7" width="3.9" height="2.3" fill="#e0393a"/><rect x="626.9" y="357.0" width="3.9" height="2.3" fill="#c41e22"/><rect x="626.9" y="359.3" width="3.9" height="2.3" fill="#4a8ad0"/><rect x="626.9" y="361.5" width="3.9" height="2.2" fill="#f6bab2"/><rect x="626.9" y="363.7" width="3.9" height="2.2" fill="#c41e22"/><rect x="626.9" y="366.0" width="3.9" height="2.1" fill="#e0393a"/><rect x="630.8" y="350.2" width="3.7" height="2.3" fill="#c4dcee"/><rect x="634.5" y="350.2" width="3.6" height="2.3" fill="#4a8ad0"/><rect x="638.1" y="350.2" width="3.6" height="2.3" fill="#f07a72"/><rect x="641.7" y="350.2" width="3.6" height="2.3" fill="#c4dcee"/><rect x="645.3" y="350.2" width="3.6" height="2.3" fill="#c41e22"/><rect x="648.9" y="350.2" width="3.6" height="2.3" fill="#c41e22"/><rect x="652.5" y="350.2" width="3.5" height="2.3" fill="#f6bab2"/><rect x="630.8" y="352.4" width="3.6" height="2.3" fill="#8cbde6"/><rect x="630.8" y="354.7" width="3.6" height="2.3" fill="#4a8ad0"/><rect x="630.8" y="357.0" width="3.6" height="2.3" fill="#f07a72"/><rect x="630.8" y="359.2" width="3.6" height="2.2" fill="#f07a72"/><rect x="630.8" y="361.5" width="3.6" height="2.2" fill="#4a8ad0"/><rect x="630.8" y="363.7" width="3.6" height="2.2" fill="#f6bab2"/><rect x="630.8" y="365.9" width="3.6" height="2.2" fill="#f6bab2"/><rect x="634.4" y="352.4" width="3.6" height="2.1" fill="#f6bab2"/><rect x="638.0" y="352.4" width="3.6" height="2.1" fill="#8cbde6"/><rect x="641.6" y="352.4" width="3.6" height="2.1" fill="#c4dcee"/><rect x="645.2" y="352.4" width="3.6" height="2.1" fill="#e0393a"/><rect x="648.8" y="352.4" width="3.6" height="2.1" fill="#c41e22"/><rect x="652.4" y="352.4" width="3.6" height="2.1" fill="#f6bab2"/><rect x="634.4" y="354.6" width="3.4" height="2.3" fill="#c41e22"/><rect x="634.4" y="356.9" width="3.4" height="2.3" fill="#e0393a"/><rect x="634.4" y="359.1" width="3.4" height="2.3" fill="#e0393a"/><rect x="634.4" y="361.4" width="3.4" height="2.3" fill="#e0393a"/><rect x="634.4" y="363.7" width="3.4" height="2.2" fill="#e0393a"/><rect x="634.4" y="365.9" width="3.4" height="2.2" fill="#eeeeee"/><rect x="637.7" y="354.6" width="3.7" height="1.9" fill="#f6bab2"/><rect x="641.5" y="354.6" width="3.7" height="1.9" fill="#e0393a"/><rect x="645.2" y="354.6" width="3.6" height="1.9" fill="#eeeeee"/><rect x="648.8" y="354.6" width="3.6" height="1.9" fill="#c4dcee"/><rect x="652.4" y="354.6" width="3.6" height="1.9" fill="#8cbde6"/><rect x="637.7" y="356.5" width="3.2" height="2.2" fill="#c4dcee"/><rect x="640.9" y="356.5" width="3.1" height="2.2" fill="#e0393a"/><rect x="644.0" y="356.5" width="3.1" height="2.2" fill="#eeeeee"/><rect x="647.1" y="356.5" width="3.1" height="2.2" fill="#e0393a"/><rect x="650.1" y="356.5" width="2.9" height="2.2" fill="#e0393a"/><rect x="653.1" y="356.5" width="2.9" height="2.2" fill="#c41e22"/><rect x="637.7" y="358.7" width="3.3" height="1.9" fill="#4a8ad0"/><rect x="637.7" y="360.6" width="3.3" height="1.9" fill="#f6bab2"/><rect x="637.7" y="362.5" width="3.3" height="1.9" fill="#e0393a"/><rect x="637.7" y="364.4" width="3.3" height="1.9" fill="#e0393a"/><rect x="637.7" y="366.3" width="3.3" height="1.8" fill="#c4dcee"/><rect x="641.0" y="358.7" width="3.0" height="2.0" fill="#8cbde6"/><rect x="644.1" y="358.7" width="3.0" height="2.0" fill="#c4dcee"/><rect x="647.1" y="358.7" width="3.0" height="2.0" fill="#c41e22"/><rect x="650.1" y="358.7" width="3.0" height="2.0" fill="#c4dcee"/><rect x="653.1" y="358.7" width="2.9" height="2.0" fill="#c41e22"/><rect x="641.0" y="360.7" width="3.0" height="1.9" fill="#8cbde6"/><rect x="641.0" y="362.6" width="3.0" height="1.9" fill="#c4dcee"/><rect x="641.0" y="364.4" width="3.0" height="1.8" fill="#c4dcee"/><rect x="641.0" y="366.3" width="3.0" height="1.8" fill="#eeeeee"/><rect x="644.1" y="360.7" width="2.9" height="1.9" fill="#8cbde6"/><rect x="644.1" y="362.6" width="2.9" height="1.9" fill="#e0393a"/><rect x="644.1" y="364.5" width="2.9" height="1.8" fill="#c41e22"/><rect x="644.1" y="366.3" width="2.9" height="1.8" fill="#8cbde6"/><rect x="646.9" y="360.7" width="3.0" height="1.7" fill="#4a8ad0"/><rect x="650.0" y="360.7" width="3.0" height="1.7" fill="#4a8ad0"/><rect x="653.0" y="360.7" width="3.0" height="1.7" fill="#f6bab2"/><rect x="646.9" y="362.4" width="3.1" height="1.6" fill="#f07a72"/><rect x="650.0" y="362.4" width="3.0" height="1.6" fill="#f07a72"/><rect x="653.1" y="362.4" width="2.9" height="1.6" fill="#e0393a"/><rect x="646.9" y="363.9" width="3.3" height="1.4" fill="#eeeeee"/><rect x="646.9" y="365.3" width="3.3" height="1.4" fill="#c41e22"/><rect x="646.9" y="366.7" width="3.3" height="1.4" fill="#f6bab2"/><rect x="650.2" y="363.9" width="2.9" height="1.5" fill="#f07a72"/><rect x="653.1" y="363.9" width="2.9" height="1.5" fill="#4a8ad0"/><rect x="650.2" y="365.4" width="3.0" height="1.4" fill="#c4dcee"/><rect x="650.2" y="366.8" width="3.0" height="1.3" fill="#e0393a"/><rect x="653.2" y="365.4" width="2.8" height="1.4" fill="#f6bab2"/><rect x="653.2" y="366.8" width="2.8" height="1.3" fill="#4a8ad0"/><rect x="665.0" y="326.7" width="15.2" height="7.6" fill="#f6e4e0"/><rect x="665.0" y="334.3" width="15.2" height="3.4" fill="#e0393a"/><rect x="680.2" y="326.7" width="8.6" height="6.5" fill="#c41e22"/><rect x="680.2" y="333.2" width="8.6" height="4.5" fill="#c41e22"/><rect x="688.8" y="326.7" width="5.7" height="5.2" fill="#c41e22"/><rect x="688.8" y="331.9" width="5.7" height="3.2" fill="#c4dcee"/><rect x="688.8" y="335.1" width="5.7" height="2.6" fill="#c41e22"/><rect x="694.5" y="326.7" width="4.5" height="3.2" fill="#c41e22"/><rect x="694.5" y="329.9" width="4.5" height="2.9" fill="#c41e22"/><rect x="694.5" y="332.8" width="4.5" height="2.5" fill="#c41e22"/><rect x="694.5" y="335.3" width="4.5" height="2.4" fill="#c41e22"/><rect x="699.0" y="326.7" width="3.6" height="2.8" fill="#e0393a"/><rect x="699.0" y="329.5" width="3.6" height="2.8" fill="#c4dcee"/><rect x="699.0" y="332.3" width="3.6" height="2.7" fill="#e0393a"/><rect x="699.0" y="335.0" width="3.6" height="2.7" fill="#e0393a"/><rect x="702.7" y="326.7" width="4.0" height="2.3" fill="#c41e22"/><rect x="706.7" y="326.7" width="4.0" height="2.3" fill="#c41e22"/><rect x="710.6" y="326.7" width="3.8" height="2.3" fill="#c4dcee"/><rect x="714.4" y="326.7" width="3.7" height="2.3" fill="#e0393a"/><rect x="702.7" y="329.0" width="3.8" height="2.2" fill="#c41e22"/><rect x="702.7" y="331.3" width="3.8" height="2.2" fill="#c41e22"/><rect x="702.7" y="333.4" width="3.8" height="2.1" fill="#c4dcee"/><rect x="702.7" y="335.6" width="3.8" height="2.1" fill="#c4dcee"/><rect x="706.5" y="329.0" width="4.1" height="1.9" fill="#c4dcee"/><rect x="710.6" y="329.0" width="3.8" height="1.9" fill="#c41e22"/><rect x="714.4" y="329.0" width="3.7" height="1.9" fill="#e0393a"/><rect x="706.5" y="331.0" width="3.1" height="2.3" fill="#f6bab2"/><rect x="706.5" y="333.3" width="3.1" height="2.3" fill="#eeeeee"/><rect x="706.5" y="335.6" width="3.1" height="2.1" fill="#8cbde6"/><rect x="709.6" y="331.0" width="2.9" height="2.2" fill="#c41e22"/><rect x="712.4" y="331.0" width="2.8" height="2.2" fill="#8cbde6"/><rect x="715.3" y="331.0" width="2.8" height="2.2" fill="#c41e22"/><rect x="709.6" y="333.2" width="2.7" height="2.3" fill="#e0393a"/><rect x="709.6" y="335.5" width="2.7" height="2.2" fill="#c41e22"/><rect x="712.3" y="333.2" width="3.0" height="2.0" fill="#c4dcee"/><rect x="715.3" y="333.2" width="2.8" height="2.0" fill="#eeeeee"/><rect x="712.3" y="335.2" width="2.1" height="2.5" fill="#8cbde6"/><rect x="714.4" y="335.2" width="3.7" height="1.4" fill="#c4dcee"/><rect x="714.4" y="336.6" width="3.7" height="1.1" fill="#8cbde6"/><rect x="665.0" y="358.5" width="15.0" height="4.5" fill="#f6bab2"/><rect x="665.0" y="363.0" width="15.0" height="5.1" fill="#c4dcee"/><rect x="680.0" y="358.5" width="10.0" height="4.5" fill="#e0393a"/><rect x="680.0" y="363.0" width="10.0" height="5.1" fill="#eeeeee"/><rect x="690.0" y="358.5" width="6.4" height="4.8" fill="#eeeeee"/><rect x="690.0" y="363.3" width="6.4" height="4.8" fill="#c41e22"/><rect x="696.4" y="358.5" width="5.8" height="4.0" fill="#eeeeee"/><rect x="696.4" y="362.5" width="5.8" height="3.1" fill="#e0393a"/><rect x="696.4" y="365.6" width="5.8" height="2.5" fill="#c41e22"/><rect x="702.2" y="358.5" width="4.7" height="3.0" fill="#c41e22"/><rect x="702.2" y="361.5" width="4.7" height="2.6" fill="#eeeeee"/><rect x="702.2" y="364.1" width="4.7" height="2.1" fill="#c41e22"/><rect x="702.2" y="366.1" width="4.7" height="2.0" fill="#eeeeee"/><rect x="706.9" y="358.5" width="3.9" height="2.3" fill="#eeeeee"/><rect x="710.8" y="358.5" width="3.7" height="2.3" fill="#c41e22"/><rect x="714.5" y="358.5" width="3.6" height="2.3" fill="#f6bab2"/><rect x="706.9" y="360.8" width="3.8" height="2.2" fill="#c41e22"/><rect x="710.7" y="360.8" width="3.7" height="2.2" fill="#c41e22"/><rect x="714.4" y="360.8" width="3.7" height="2.2" fill="#f6bab2"/><rect x="706.9" y="363.0" width="3.1" height="2.6" fill="#c41e22"/><rect x="706.9" y="365.6" width="3.1" height="2.5" fill="#e0393a"/><rect x="710.0" y="363.0" width="2.9" height="2.5" fill="#eeeeee"/><rect x="710.0" y="365.6" width="2.9" height="2.5" fill="#e0393a"/><rect x="712.9" y="363.0" width="2.7" height="2.3" fill="#eeeeee"/><rect x="715.6" y="363.0" width="2.5" height="2.3" fill="#eeeeee"/><rect x="712.9" y="365.3" width="3.7" height="1.5" fill="#eeeeee"/><rect x="712.9" y="366.8" width="3.7" height="1.3" fill="#c41e22"/><rect x="716.6" y="365.3" width="1.5" height="2.8" fill="#f6bab2"/><rect x="416.5" y="347.7" width="20.6" height="25.1" fill="#cc2424"/><rect x="416.5" y="372.8" width="20.6" height="12.2" fill="#f07a72"/><rect x="416.5" y="385.0" width="20.6" height="9.2" fill="#f07068"/><rect x="416.5" y="394.2" width="20.6" height="8.6" fill="#f6bab2"/><rect x="416.5" y="402.8" width="20.6" height="8.1" fill="#c4dcee"/><rect x="437.1" y="347.7" width="12.5" height="12.5" fill="#f9dfdb"/><rect x="437.1" y="360.2" width="12.5" height="9.0" fill="#e0393a"/><rect x="437.1" y="369.2" width="12.5" height="8.5" fill="#f07a72"/><rect x="437.1" y="377.7" width="12.5" height="8.9" fill="#f9dfdb"/><rect x="437.1" y="386.6" width="12.5" height="8.1" fill="#e0393a"/><rect x="437.1" y="394.7" width="12.5" height="7.3" fill="#c41e22"/><rect x="437.1" y="402.0" width="12.5" height="8.9" fill="#e0393a"/><rect x="449.6" y="347.7" width="11.0" height="7.6" fill="#c41e22"/><rect x="460.6" y="347.7" width="10.6" height="7.6" fill="#f9dfdb"/><rect x="471.2" y="347.7" width="10.8" height="7.6" fill="#c4dcee"/><rect x="482.0" y="347.7" width="10.3" height="7.6" fill="#f9dfdb"/><rect x="492.3" y="347.7" width="10.5" height="7.6" fill="#f6bab2"/><rect x="502.8" y="347.7" width="10.5" height="7.6" fill="#c41e22"/><rect x="513.3" y="347.7" width="10.6" height="7.6" fill="#f07a72"/><rect x="523.9" y="347.7" width="10.5" height="7.6" fill="#f6bab2"/><rect x="449.6" y="355.3" width="10.2" height="5.8" fill="#f9dfdb"/><rect x="449.6" y="361.1" width="10.2" height="6.9" fill="#c41e22"/><rect x="449.6" y="368.0" width="10.2" height="8.9" fill="#f07a72"/><rect x="449.6" y="376.9" width="10.2" height="8.6" fill="#f07a72"/><rect x="449.6" y="385.5" width="10.2" height="8.4" fill="#f07a72"/><rect x="449.6" y="393.9" width="10.2" height="8.9" fill="#f6bab2"/><rect x="449.6" y="402.8" width="10.2" height="8.1" fill="#c41e22"/><rect x="459.8" y="355.3" width="10.6" height="6.5" fill="#f9dfdb"/><rect x="470.4" y="355.3" width="10.5" height="6.5" fill="#f07a72"/><rect x="480.9" y="355.3" width="9.7" height="6.5" fill="#c41e22"/><rect x="490.6" y="355.3" width="9.4" height="6.5" fill="#e0393a"/><rect x="500.0" y="355.3" width="9.0" height="6.5" fill="#c41e22"/><rect x="509.0" y="355.3" width="9.0" height="6.5" fill="#c41e22"/><rect x="518.0" y="355.3" width="8.0" height="6.5" fill="#e0393a"/><rect x="526.0" y="355.3" width="8.4" height="6.5" fill="#f9dfdb"/><rect x="459.8" y="361.8" width="19.8" height="7.1" fill="#e0393a"/><rect x="479.6" y="361.8" width="14.1" height="7.1" fill="#c41e22"/><rect x="493.7" y="361.8" width="13.2" height="7.1" fill="#c4dcee"/><rect x="506.9" y="361.8" width="8.3" height="7.1" fill="#c41e22"/><rect x="515.2" y="361.8" width="6.6" height="7.1" fill="#f9dfdb"/><rect x="521.9" y="361.8" width="6.3" height="7.1" fill="#f6bab2"/><rect x="528.1" y="361.8" width="6.3" height="7.1" fill="#c41e22"/><rect x="459.8" y="368.9" width="7.3" height="5.4" fill="#f07a72"/><rect x="459.8" y="374.3" width="7.3" height="5.1" fill="#c4dcee"/><rect x="459.8" y="379.4" width="7.3" height="4.9" fill="#f6bab2"/><rect x="459.8" y="384.3" width="7.3" height="4.6" fill="#e0393a"/><rect x="459.8" y="388.9" width="7.3" height="4.6" fill="#e0393a"/><rect x="459.8" y="393.5" width="7.3" height="4.5" fill="#e0393a"/><rect x="459.8" y="398.0" width="7.3" height="4.4" fill="#f6bab2"/><rect x="459.8" y="402.4" width="7.3" height="4.3" fill="#f07a72"/><rect x="459.8" y="406.7" width="7.3" height="4.2" fill="#c41e22"/><rect x="467.1" y="368.9" width="6.5" height="4.6" fill="#c41e22"/><rect x="467.1" y="373.5" width="6.5" height="4.5" fill="#e85550"/><rect x="467.1" y="378.0" width="6.5" height="4.2" fill="#f6bab2"/><rect x="467.1" y="382.2" width="6.5" height="4.0" fill="#f6bab2"/><rect x="467.1" y="386.2" width="6.5" height="3.7" fill="#c4dcee"/><rect x="467.1" y="390.0" width="6.5" height="3.7" fill="#eeeeee"/><rect x="467.1" y="393.6" width="6.5" height="3.5" fill="#e0393a"/><rect x="467.1" y="397.1" width="6.5" height="3.5" fill="#e0393a"/><rect x="467.1" y="400.6" width="6.5" height="3.5" fill="#e85550"/><rect x="467.1" y="404.1" width="6.5" height="3.4" fill="#4a8ad0"/><rect x="467.1" y="407.6" width="6.5" height="3.3" fill="#c41e22"/><rect x="473.7" y="368.9" width="6.3" height="3.5" fill="#c41e22"/><rect x="479.9" y="368.9" width="6.2" height="3.5" fill="#e0393a"/><rect x="486.1" y="368.9" width="5.8" height="3.5" fill="#f9dfdb"/><rect x="491.9" y="368.9" width="5.7" height="3.5" fill="#f6bab2"/><rect x="497.6" y="368.9" width="5.6" height="3.5" fill="#e0393a"/><rect x="503.2" y="368.9" width="5.5" height="3.5" fill="#e85550"/><rect x="508.7" y="368.9" width="5.2" height="3.5" fill="#f6bab2"/><rect x="514.0" y="368.9" width="5.2" height="3.5" fill="#8cbde6"/><rect x="519.2" y="368.9" width="5.2" height="3.5" fill="#c41e22"/><rect x="524.3" y="368.9" width="5.1" height="3.5" fill="#e85550"/><rect x="529.4" y="368.9" width="5.0" height="3.5" fill="#c41e22"/><rect x="473.7" y="372.4" width="5.7" height="3.0" fill="#f9dfdb"/><rect x="479.4" y="372.4" width="5.7" height="3.0" fill="#e85550"/><rect x="485.1" y="372.4" width="5.3" height="3.0" fill="#c4dcee"/><rect x="490.4" y="372.4" width="5.3" height="3.0" fill="#f6bab2"/><rect x="495.7" y="372.4" width="5.2" height="3.0" fill="#eeeeee"/><rect x="500.9" y="372.4" width="5.1" height="3.0" fill="#e85550"/><rect x="506.1" y="372.4" width="5.0" height="3.0" fill="#f9dfdb"/><rect x="511.1" y="372.4" width="4.7" height="3.0" fill="#c41e22"/><rect x="515.8" y="372.4" width="4.7" height="3.0" fill="#c41e22"/><rect x="520.5" y="372.4" width="4.7" height="3.0" fill="#f6bab2"/><rect x="525.1" y="372.4" width="4.6" height="3.0" fill="#e85550"/><rect x="529.8" y="372.4" width="4.6" height="3.0" fill="#e85550"/><rect x="473.7" y="375.4" width="4.5" height="3.1" fill="#eeeeee"/><rect x="473.7" y="378.4" width="4.5" height="3.0" fill="#e85550"/><rect x="473.7" y="381.5" width="4.5" height="3.0" fill="#f6bab2"/><rect x="473.7" y="384.5" width="4.5" height="3.0" fill="#f6bab2"/><rect x="473.7" y="387.6" width="4.5" height="3.0" fill="#e0393a"/><rect x="473.7" y="390.6" width="4.5" height="3.0" fill="#eeeeee"/><rect x="473.7" y="393.5" width="4.5" height="3.0" fill="#f6bab2"/><rect x="473.7" y="396.5" width="4.5" height="3.0" fill="#f6bab2"/><rect x="473.7" y="399.4" width="4.5" height="2.9" fill="#c4dcee"/><rect x="473.7" y="402.3" width="4.5" height="2.9" fill="#f6bab2"/><rect x="473.7" y="405.2" width="4.5" height="2.9" fill="#e0393a"/><rect x="473.7" y="408.0" width="4.5" height="2.9" fill="#c41e22"/><rect x="478.2" y="375.4" width="4.5" height="2.9" fill="#8cbde6"/><rect x="482.7" y="375.4" width="4.5" height="2.9" fill="#f07a72"/><rect x="487.1" y="375.4" width="4.4" height="2.9" fill="#e0393a"/><rect x="491.5" y="375.4" width="4.4" height="2.9" fill="#f6bab2"/><rect x="495.9" y="375.4" width="4.3" height="2.9" fill="#f6bab2"/><rect x="500.2" y="375.4" width="4.3" height="2.9" fill="#f9dfdb"/><rect x="504.5" y="375.4" width="4.3" height="2.9" fill="#e85550"/><rect x="508.9" y="375.4" width="4.3" height="2.9" fill="#f6bab2"/><rect x="513.2" y="375.4" width="4.3" height="2.9" fill="#eeeeee"/><rect x="517.5" y="375.4" width="4.3" height="2.9" fill="#c41e22"/><rect x="521.8" y="375.4" width="4.2" height="2.9" fill="#f9dfdb"/><rect x="526.0" y="375.4" width="4.2" height="2.9" fill="#eeeeee"/><rect x="530.2" y="375.4" width="4.2" height="2.9" fill="#f6bab2"/><rect x="478.2" y="378.3" width="4.3" height="2.8" fill="#f07a72"/><rect x="478.2" y="381.1" width="4.3" height="2.8" fill="#4a8ad0"/><rect x="478.2" y="383.9" width="4.3" height="2.8" fill="#c41e22"/><rect x="478.2" y="386.7" width="4.3" height="2.8" fill="#e0393a"/><rect x="478.2" y="389.5" width="4.3" height="2.7" fill="#c4dcee"/><rect x="478.2" y="392.2" width="4.3" height="2.7" fill="#8cbde6"/><rect x="478.2" y="394.9" width="4.3" height="2.7" fill="#c41e22"/><rect x="478.2" y="397.7" width="4.3" height="2.7" fill="#c41e22"/><rect x="478.2" y="400.3" width="4.3" height="2.7" fill="#c41e22"/><rect x="478.2" y="403.0" width="4.3" height="2.7" fill="#f07a72"/><rect x="478.2" y="405.6" width="4.3" height="2.6" fill="#c41e22"/><rect x="478.2" y="408.3" width="4.3" height="2.6" fill="#eeeeee"/><rect x="482.5" y="378.3" width="4.2" height="2.7" fill="#f9dfdb"/><rect x="486.7" y="378.3" width="4.2" height="2.7" fill="#e85550"/><rect x="490.9" y="378.3" width="4.2" height="2.7" fill="#c41e22"/><rect x="495.1" y="378.3" width="4.1" height="2.7" fill="#e0393a"/><rect x="499.2" y="378.3" width="4.0" height="2.7" fill="#f07a72"/><rect x="503.2" y="378.3" width="4.0" height="2.7" fill="#c41e22"/><rect x="507.2" y="378.3" width="4.0" height="2.7" fill="#e0393a"/><rect x="511.1" y="378.3" width="3.9" height="2.7" fill="#f9dfdb"/><rect x="515.0" y="378.3" width="3.9" height="2.7" fill="#c41e22"/><rect x="518.9" y="378.3" width="3.9" height="2.7" fill="#e0393a"/><rect x="522.8" y="378.3" width="3.9" height="2.7" fill="#e85550"/><rect x="526.7" y="378.3" width="3.9" height="2.7" fill="#e0393a"/><rect x="530.5" y="378.3" width="3.9" height="2.7" fill="#f6bab2"/><rect x="482.5" y="380.9" width="3.9" height="2.6" fill="#f07a72"/><rect x="482.5" y="383.5" width="3.9" height="2.5" fill="#c41e22"/><rect x="482.5" y="386.1" width="3.9" height="2.5" fill="#f9dfdb"/><rect x="482.5" y="388.6" width="3.9" height="2.5" fill="#e0393a"/><rect x="482.5" y="391.1" width="3.9" height="2.5" fill="#c41e22"/><rect x="482.5" y="393.7" width="3.9" height="2.5" fill="#f6bab2"/><rect x="482.5" y="396.1" width="3.9" height="2.5" fill="#f9dfdb"/><rect x="482.5" y="398.6" width="3.9" height="2.5" fill="#f9dfdb"/><rect x="482.5" y="401.1" width="3.9" height="2.5" fill="#e85550"/><rect x="482.5" y="403.6" width="3.9" height="2.4" fill="#c41e22"/><rect x="482.5" y="406.0" width="3.9" height="2.4" fill="#c41e22"/><rect x="482.5" y="408.5" width="3.9" height="2.4" fill="#f9dfdb"/><rect x="486.5" y="380.9" width="3.7" height="2.6" fill="#c41e22"/><rect x="486.5" y="383.5" width="3.7" height="2.6" fill="#f6bab2"/><rect x="486.5" y="386.1" width="3.7" height="2.5" fill="#e0393a"/><rect x="486.5" y="388.6" width="3.7" height="2.5" fill="#e85550"/><rect x="486.5" y="391.1" width="3.7" height="2.5" fill="#f9dfdb"/><rect x="486.5" y="393.6" width="3.7" height="2.5" fill="#e0393a"/><rect x="486.5" y="396.1" width="3.7" height="2.5" fill="#c41e22"/><rect x="486.5" y="398.6" width="3.7" height="2.5" fill="#f07a72"/><rect x="486.5" y="401.1" width="3.7" height="2.5" fill="#e0393a"/><rect x="486.5" y="403.6" width="3.7" height="2.5" fill="#eeeeee"/><rect x="486.5" y="406.0" width="3.7" height="2.4" fill="#c41e22"/><rect x="486.5" y="408.5" width="3.7" height="2.4" fill="#f6bab2"/><rect x="490.2" y="380.9" width="3.8" height="2.4" fill="#eeeeee"/><rect x="494.0" y="380.9" width="3.8" height="2.4" fill="#e85550"/><rect x="497.7" y="380.9" width="3.7" height="2.4" fill="#f9dfdb"/><rect x="501.4" y="380.9" width="3.7" height="2.4" fill="#f07a72"/><rect x="505.1" y="380.9" width="3.7" height="2.4" fill="#c41e22"/><rect x="508.8" y="380.9" width="3.7" height="2.4" fill="#f6bab2"/><rect x="512.5" y="380.9" width="3.7" height="2.4" fill="#f9dfdb"/><rect x="516.1" y="380.9" width="3.7" height="2.4" fill="#8cbde6"/><rect x="519.8" y="380.9" width="3.7" height="2.4" fill="#f6bab2"/><rect x="523.5" y="380.9" width="3.6" height="2.4" fill="#f6bab2"/><rect x="527.1" y="380.9" width="3.6" height="2.4" fill="#f9dfdb"/><rect x="530.8" y="380.9" width="3.6" height="2.4" fill="#c41e22"/><rect x="490.2" y="383.3" width="3.7" height="2.4" fill="#e0393a"/><rect x="490.2" y="385.7" width="3.7" height="2.3" fill="#c41e22"/><rect x="490.2" y="388.0" width="3.7" height="2.3" fill="#c41e22"/><rect x="490.2" y="390.4" width="3.7" height="2.3" fill="#c41e22"/><rect x="490.2" y="392.7" width="3.7" height="2.3" fill="#c41e22"/><rect x="490.2" y="395.0" width="3.7" height="2.3" fill="#f6bab2"/><rect x="490.2" y="397.3" width="3.7" height="2.3" fill="#c41e22"/><rect x="490.2" y="399.6" width="3.7" height="2.3" fill="#c41e22"/><rect x="490.2" y="401.9" width="3.7" height="2.3" fill="#e85550"/><rect x="490.2" y="404.1" width="3.7" height="2.3" fill="#e0393a"/><rect x="490.2" y="406.4" width="3.7" height="2.3" fill="#c41e22"/><rect x="490.2" y="408.7" width="3.7" height="2.2" fill="#c41e22"/><rect x="493.9" y="383.3" width="3.7" height="2.2" fill="#c4dcee"/><rect x="497.6" y="383.3" width="3.7" height="2.2" fill="#e85550"/><rect x="501.3" y="383.3" width="3.7" height="2.2" fill="#c41e22"/><rect x="505.0" y="383.3" width="3.7" height="2.2" fill="#c41e22"/><rect x="508.7" y="383.3" width="3.7" height="2.2" fill="#c41e22"/><rect x="512.4" y="383.3" width="3.7" height="2.2" fill="#f07a72"/><rect x="516.1" y="383.3" width="3.7" height="2.2" fill="#f9dfdb"/><rect x="519.8" y="383.3" width="3.7" height="2.2" fill="#e0393a"/><rect x="523.4" y="383.3" width="3.7" height="2.2" fill="#e0393a"/><rect x="527.1" y="383.3" width="3.7" height="2.2" fill="#eeeeee"/><rect x="530.8" y="383.3" width="3.6" height="2.2" fill="#e0393a"/><rect x="493.9" y="385.6" width="3.7" height="2.2" fill="#e0393a"/><rect x="497.7" y="385.6" width="3.7" height="2.2" fill="#e0393a"/><rect x="501.4" y="385.6" width="3.7" height="2.2" fill="#e0393a"/><rect x="505.1" y="385.6" width="3.7" height="2.2" fill="#c4dcee"/><rect x="508.8" y="385.6" width="3.7" height="2.2" fill="#f6bab2"/><rect x="512.6" y="385.6" width="3.7" height="2.2" fill="#f07a72"/><rect x="516.3" y="385.6" width="3.7" height="2.2" fill="#e0393a"/><rect x="519.9" y="385.6" width="3.7" height="2.2" fill="#f07a72"/><rect x="523.6" y="385.6" width="3.6" height="2.2" fill="#f9dfdb"/><rect x="527.2" y="385.6" width="3.6" height="2.2" fill="#eeeeee"/><rect x="530.8" y="385.6" width="3.6" height="2.2" fill="#e0393a"/><rect x="493.9" y="387.7" width="3.6" height="2.1" fill="#c41e22"/><rect x="493.9" y="389.9" width="3.6" height="2.1" fill="#8cbde6"/><rect x="493.9" y="392.0" width="3.6" height="2.1" fill="#c41e22"/><rect x="493.9" y="394.2" width="3.6" height="2.1" fill="#e85550"/><rect x="493.9" y="396.3" width="3.6" height="2.1" fill="#e85550"/><rect x="493.9" y="398.4" width="3.6" height="2.1" fill="#f07a72"/><rect x="493.9" y="400.5" width="3.6" height="2.1" fill="#f9dfdb"/><rect x="493.9" y="402.6" width="3.6" height="2.1" fill="#f9dfdb"/><rect x="493.9" y="404.7" width="3.6" height="2.1" fill="#c41e22"/><rect x="493.9" y="406.8" width="3.6" height="2.1" fill="#e0393a"/><rect x="493.9" y="408.8" width="3.6" height="2.1" fill="#f6bab2"/><rect x="497.5" y="387.7" width="3.4" height="2.2" fill="#c4dcee"/><rect x="500.9" y="387.7" width="3.4" height="2.2" fill="#eeeeee"/><rect x="504.3" y="387.7" width="3.4" height="2.2" fill="#f07a72"/><rect x="507.7" y="387.7" width="3.4" height="2.2" fill="#eeeeee"/><rect x="511.1" y="387.7" width="3.4" height="2.2" fill="#e85550"/><rect x="514.4" y="387.7" width="3.4" height="2.2" fill="#f07a72"/><rect x="517.8" y="387.7" width="3.3" height="2.2" fill="#c41e22"/><rect x="521.1" y="387.7" width="3.3" height="2.2" fill="#e85550"/><rect x="524.5" y="387.7" width="3.3" height="2.2" fill="#c41e22"/><rect x="527.8" y="387.7" width="3.3" height="2.2" fill="#c4dcee"/><rect x="531.1" y="387.7" width="3.3" height="2.2" fill="#e85550"/><rect x="497.5" y="389.9" width="3.4" height="2.1" fill="#e0393a"/><rect x="497.5" y="392.0" width="3.4" height="2.1" fill="#f07a72"/><rect x="497.5" y="394.2" width="3.4" height="2.1" fill="#c41e22"/><rect x="497.5" y="396.3" width="3.4" height="2.1" fill="#4a8ad0"/><rect x="497.5" y="398.4" width="3.4" height="2.1" fill="#f6bab2"/><rect x="497.5" y="400.5" width="3.4" height="2.1" fill="#eeeeee"/><rect x="497.5" y="402.6" width="3.4" height="2.1" fill="#f07a72"/><rect x="497.5" y="404.7" width="3.4" height="2.1" fill="#e85550"/><rect x="497.5" y="406.8" width="3.4" height="2.1" fill="#c41e22"/><rect x="497.5" y="408.8" width="3.4" height="2.1" fill="#f6bab2"/><rect x="500.9" y="389.9" width="3.4" height="2.0" fill="#eeeeee"/><rect x="504.3" y="389.9" width="3.4" height="2.0" fill="#c41e22"/><rect x="507.7" y="389.9" width="3.4" height="2.0" fill="#c41e22"/><rect x="511.1" y="389.9" width="3.4" height="2.0" fill="#c41e22"/><rect x="514.4" y="389.9" width="3.4" height="2.0" fill="#e0393a"/><rect x="517.8" y="389.9" width="3.3" height="2.0" fill="#f9dfdb"/><rect x="521.1" y="389.9" width="3.3" height="2.0" fill="#c4dcee"/><rect x="524.5" y="389.9" width="3.3" height="2.0" fill="#c41e22"/><rect x="527.8" y="389.9" width="3.3" height="2.0" fill="#e85550"/><rect x="531.1" y="389.9" width="3.3" height="2.0" fill="#e85550"/><rect x="500.9" y="391.9" width="3.1" height="2.1" fill="#8cbde6"/><rect x="500.9" y="394.1" width="3.1" height="2.1" fill="#c41e22"/><rect x="500.9" y="396.2" width="3.1" height="2.1" fill="#c41e22"/><rect x="500.9" y="398.3" width="3.1" height="2.1" fill="#e0393a"/><rect x="500.9" y="400.4" width="3.1" height="2.1" fill="#c41e22"/><rect x="500.9" y="402.5" width="3.1" height="2.1" fill="#e0393a"/><rect x="500.9" y="404.6" width="3.1" height="2.1" fill="#c41e22"/><rect x="500.9" y="406.7" width="3.1" height="2.1" fill="#f07a72"/><rect x="500.9" y="408.8" width="3.1" height="2.1" fill="#c41e22"/><rect x="504.0" y="391.9" width="3.0" height="2.1" fill="#c4dcee"/><rect x="504.0" y="394.1" width="3.0" height="2.1" fill="#e0393a"/><rect x="504.0" y="396.2" width="3.0" height="2.1" fill="#c41e22"/><rect x="504.0" y="398.3" width="3.0" height="2.1" fill="#e0393a"/><rect x="504.0" y="400.4" width="3.0" height="2.1" fill="#c4dcee"/><rect x="504.0" y="402.6" width="3.0" height="2.1" fill="#f07a72"/><rect x="504.0" y="404.7" width="3.0" height="2.1" fill="#e85550"/><rect x="504.0" y="406.7" width="3.0" height="2.1" fill="#f9dfdb"/><rect x="504.0" y="408.8" width="3.0" height="2.1" fill="#f6bab2"/><rect x="507.0" y="391.9" width="3.1" height="2.1" fill="#f6bab2"/><rect x="510.1" y="391.9" width="3.0" height="2.1" fill="#c4dcee"/><rect x="513.1" y="391.9" width="3.0" height="2.1" fill="#f6bab2"/><rect x="516.2" y="391.9" width="3.0" height="2.1" fill="#c4dcee"/><rect x="519.2" y="391.9" width="3.0" height="2.1" fill="#e0393a"/><rect x="522.3" y="391.9" width="3.0" height="2.1" fill="#f6bab2"/><rect x="525.3" y="391.9" width="3.0" height="2.1" fill="#e0393a"/><rect x="528.3" y="391.9" width="3.0" height="2.1" fill="#e85550"/><rect x="531.4" y="391.9" width="3.0" height="2.1" fill="#c41e22"/><rect x="507.0" y="394.0" width="3.2" height="1.9" fill="#eeeeee"/><rect x="507.0" y="395.9" width="3.2" height="1.9" fill="#e85550"/><rect x="507.0" y="397.8" width="3.2" height="1.9" fill="#eeeeee"/><rect x="507.0" y="399.7" width="3.2" height="1.9" fill="#f9dfdb"/><rect x="507.0" y="401.6" width="3.2" height="1.9" fill="#e0393a"/><rect x="507.0" y="403.5" width="3.2" height="1.9" fill="#c41e22"/><rect x="507.0" y="405.3" width="3.2" height="1.9" fill="#f07a72"/><rect x="507.0" y="407.2" width="3.2" height="1.9" fill="#f6bab2"/><rect x="507.0" y="409.1" width="3.2" height="1.8" fill="#c41e22"/><rect x="510.3" y="394.0" width="3.1" height="1.9" fill="#f6bab2"/><rect x="513.3" y="394.0" width="3.0" height="1.9" fill="#e0393a"/><rect x="516.4" y="394.0" width="3.0" height="1.9" fill="#c41e22"/><rect x="519.4" y="394.0" width="3.0" height="1.9" fill="#c41e22"/><rect x="522.4" y="394.0" width="3.0" height="1.9" fill="#f6bab2"/><rect x="525.4" y="394.0" width="3.0" height="1.9" fill="#c41e22"/><rect x="528.4" y="394.0" width="3.0" height="1.9" fill="#f6bab2"/><rect x="531.4" y="394.0" width="3.0" height="1.9" fill="#c41e22"/><rect x="510.3" y="395.9" width="3.0" height="1.9" fill="#c41e22"/><rect x="510.3" y="397.8" width="3.0" height="1.9" fill="#eeeeee"/><rect x="510.3" y="399.7" width="3.0" height="1.9" fill="#c41e22"/><rect x="510.3" y="401.6" width="3.0" height="1.9" fill="#e85550"/><rect x="510.3" y="403.5" width="3.0" height="1.9" fill="#c41e22"/><rect x="510.3" y="405.4" width="3.0" height="1.9" fill="#e0393a"/><rect x="510.3" y="407.2" width="3.0" height="1.8" fill="#c4dcee"/><rect x="510.3" y="409.1" width="3.0" height="1.8" fill="#e85550"/><rect x="513.3" y="395.9" width="3.0" height="1.8" fill="#8cbde6"/><rect x="516.3" y="395.9" width="3.0" height="1.8" fill="#f6bab2"/><rect x="519.3" y="395.9" width="3.0" height="1.8" fill="#c41e22"/><rect x="522.4" y="395.9" width="3.0" height="1.8" fill="#c41e22"/><rect x="525.4" y="395.9" width="3.0" height="1.8" fill="#eeeeee"/><rect x="528.4" y="395.9" width="3.0" height="1.8" fill="#f9dfdb"/><rect x="531.4" y="395.9" width="3.0" height="1.8" fill="#c41e22"/><rect x="513.3" y="397.7" width="2.9" height="1.9" fill="#c4dcee"/><rect x="513.3" y="399.6" width="2.9" height="1.9" fill="#f6bab2"/><rect x="513.3" y="401.5" width="2.9" height="1.9" fill="#c4dcee"/><rect x="513.3" y="403.4" width="2.9" height="1.9" fill="#e0393a"/><rect x="513.3" y="405.3" width="2.9" height="1.9" fill="#eeeeee"/><rect x="513.3" y="407.2" width="2.9" height="1.9" fill="#e0393a"/><rect x="513.3" y="409.0" width="2.9" height="1.9" fill="#f6bab2"/><rect x="516.1" y="397.7" width="3.1" height="1.7" fill="#e85550"/><rect x="519.2" y="397.7" width="3.1" height="1.7" fill="#f6bab2"/><rect x="522.3" y="397.7" width="3.0" height="1.7" fill="#e85550"/><rect x="525.3" y="397.7" width="3.0" height="1.7" fill="#c41e22"/><rect x="528.3" y="397.7" width="3.0" height="1.7" fill="#e85550"/><rect x="531.4" y="397.7" width="3.0" height="1.7" fill="#c41e22"/><rect x="516.1" y="399.5" width="3.1" height="1.7" fill="#c41e22"/><rect x="519.2" y="399.5" width="3.1" height="1.7" fill="#e0393a"/><rect x="522.3" y="399.5" width="3.1" height="1.7" fill="#c41e22"/><rect x="525.3" y="399.5" width="3.0" height="1.7" fill="#e0393a"/><rect x="528.4" y="399.5" width="3.0" height="1.7" fill="#eeeeee"/><rect x="531.4" y="399.5" width="3.0" height="1.7" fill="#c41e22"/><rect x="516.1" y="401.2" width="3.0" height="1.7" fill="#c41e22"/><rect x="516.1" y="402.8" width="3.0" height="1.7" fill="#f07a72"/><rect x="516.1" y="404.5" width="3.0" height="1.7" fill="#8cbde6"/><rect x="516.1" y="406.1" width="3.0" height="1.6" fill="#c4dcee"/><rect x="516.1" y="407.7" width="3.0" height="1.6" fill="#f9dfdb"/><rect x="516.1" y="409.3" width="3.0" height="1.6" fill="#e85550"/><rect x="519.2" y="401.2" width="2.6" height="1.8" fill="#e0393a"/><rect x="521.7" y="401.2" width="2.6" height="1.8" fill="#c41e22"/><rect x="524.3" y="401.2" width="2.6" height="1.8" fill="#f9dfdb"/><rect x="526.8" y="401.2" width="2.5" height="1.8" fill="#e85550"/><rect x="529.4" y="401.2" width="2.5" height="1.8" fill="#f6bab2"/><rect x="531.9" y="401.2" width="2.5" height="1.8" fill="#e0393a"/><rect x="519.2" y="403.0" width="2.8" height="1.6" fill="#f9dfdb"/><rect x="519.2" y="404.6" width="2.8" height="1.6" fill="#eeeeee"/><rect x="519.2" y="406.2" width="2.8" height="1.6" fill="#f6bab2"/><rect x="519.2" y="407.8" width="2.8" height="1.6" fill="#e85550"/><rect x="519.2" y="409.3" width="2.8" height="1.6" fill="#e0393a"/><rect x="522.0" y="403.0" width="2.5" height="1.8" fill="#f6bab2"/><rect x="524.5" y="403.0" width="2.5" height="1.8" fill="#f07a72"/><rect x="527.0" y="403.0" width="2.5" height="1.8" fill="#c41e22"/><rect x="529.5" y="403.0" width="2.5" height="1.8" fill="#e0393a"/><rect x="532.0" y="403.0" width="2.4" height="1.8" fill="#eeeeee"/><rect x="522.0" y="404.7" width="2.7" height="1.6" fill="#c41e22"/><rect x="522.0" y="406.3" width="2.7" height="1.5" fill="#e85550"/><rect x="522.0" y="407.8" width="2.7" height="1.5" fill="#f07a72"/><rect x="522.0" y="409.4" width="2.7" height="1.5" fill="#e0393a"/><rect x="524.7" y="404.7" width="2.5" height="1.7" fill="#c41e22"/><rect x="527.2" y="404.7" width="2.4" height="1.7" fill="#f9dfdb"/><rect x="529.6" y="404.7" width="2.4" height="1.7" fill="#f6bab2"/><rect x="532.1" y="404.7" width="2.3" height="1.7" fill="#f6bab2"/><rect x="524.7" y="406.4" width="2.6" height="1.5" fill="#c4dcee"/><rect x="524.7" y="407.9" width="2.6" height="1.5" fill="#e0393a"/><rect x="524.7" y="409.4" width="2.6" height="1.5" fill="#e0393a"/><rect x="527.3" y="406.4" width="2.4" height="1.6" fill="#eeeeee"/><rect x="529.7" y="406.4" width="2.4" height="1.6" fill="#c41e22"/><rect x="532.0" y="406.4" width="2.4" height="1.6" fill="#e0393a"/><rect x="527.3" y="408.0" width="2.5" height="1.5" fill="#e0393a"/><rect x="527.3" y="409.5" width="2.5" height="1.4" fill="#f9dfdb"/><rect x="529.8" y="408.0" width="2.3" height="1.4" fill="#e0393a"/><rect x="529.8" y="409.5" width="2.3" height="1.4" fill="#c41e22"/><rect x="532.1" y="408.0" width="2.3" height="1.5" fill="#e85550"/><rect x="532.1" y="409.5" width="2.3" height="1.4" fill="#f07a72"/><rect x="543.7" y="347.7" width="4.5" height="9.7" fill="#f6bab2"/><rect x="543.7" y="357.4" width="4.5" height="7.3" fill="#c4dcee"/><rect x="548.2" y="347.7" width="4.6" height="9.7" fill="#f9dfdb"/><rect x="548.2" y="357.4" width="4.6" height="7.3" fill="#c4dcee"/><rect x="543.7" y="364.7" width="9.1" height="4.9" fill="#c41e22"/><rect x="543.7" y="369.6" width="9.1" height="3.3" fill="#f6bab2"/><rect x="543.7" y="372.9" width="9.1" height="2.8" fill="#e0393a"/><rect x="543.7" y="375.7" width="4.7" height="4.0" fill="#c41e22"/><rect x="548.4" y="375.7" width="4.4" height="4.0" fill="#c41e22"/><rect x="543.7" y="379.7" width="4.8" height="3.4" fill="#c41e22"/><rect x="548.5" y="379.7" width="4.3" height="3.4" fill="#c41e22"/><rect x="543.7" y="383.1" width="4.6" height="3.0" fill="#e0393a"/><rect x="548.3" y="383.1" width="4.5" height="3.0" fill="#e0393a"/><rect x="543.7" y="386.1" width="4.7" height="2.4" fill="#eeeeee"/><rect x="548.4" y="386.1" width="4.4" height="2.4" fill="#e0393a"/><rect x="543.7" y="388.6" width="4.7" height="2.2" fill="#8cbde6"/><rect x="548.4" y="388.6" width="4.4" height="2.2" fill="#eeeeee"/><rect x="543.7" y="390.8" width="4.7" height="2.0" fill="#c41e22"/><rect x="548.4" y="390.8" width="4.4" height="2.0" fill="#f6bab2"/><rect x="543.7" y="392.8" width="4.6" height="1.9" fill="#eeeeee"/><rect x="548.3" y="392.8" width="4.5" height="1.9" fill="#8cbde6"/><rect x="543.7" y="394.7" width="3.1" height="2.8" fill="#c4dcee"/><rect x="546.8" y="394.7" width="3.0" height="2.8" fill="#8cbde6"/><rect x="549.8" y="394.7" width="3.0" height="2.8" fill="#c41e22"/><rect x="543.7" y="397.5" width="3.1" height="2.6" fill="#c41e22"/><rect x="546.8" y="397.5" width="3.0" height="2.6" fill="#8cbde6"/><rect x="549.8" y="397.5" width="3.0" height="2.6" fill="#c41e22"/><rect x="543.7" y="400.1" width="3.1" height="2.5" fill="#f6bab2"/><rect x="546.8" y="400.1" width="3.0" height="2.5" fill="#f6bab2"/><rect x="549.8" y="400.1" width="3.0" height="2.5" fill="#c41e22"/><rect x="543.7" y="402.6" width="3.1" height="2.3" fill="#c41e22"/><rect x="546.8" y="402.6" width="3.1" height="2.3" fill="#f6bab2"/><rect x="549.9" y="402.6" width="2.9" height="2.3" fill="#8cbde6"/><rect x="543.7" y="404.9" width="3.1" height="2.1" fill="#f6bab2"/><rect x="546.8" y="404.9" width="3.0" height="2.1" fill="#c4dcee"/><rect x="549.8" y="404.9" width="3.0" height="2.1" fill="#c4dcee"/><rect x="543.7" y="407.1" width="3.3" height="1.9" fill="#c41e22"/><rect x="543.7" y="409.0" width="3.3" height="1.9" fill="#c41e22"/><rect x="547.0" y="407.1" width="3.0" height="2.0" fill="#eeeeee"/><rect x="550.0" y="407.1" width="2.8" height="2.0" fill="#f6bab2"/><rect x="547.0" y="409.1" width="3.0" height="1.8" fill="#8cbde6"/><rect x="549.9" y="409.1" width="2.9" height="1.8" fill="#e0393a"/><rect x="416.5" y="452.2" width="38.5" height="43.3" fill="#f4a098"/><rect x="416.5" y="495.5" width="38.5" height="18.6" fill="#f6b4ac"/><rect x="455.0" y="452.2" width="25.4" height="24.9" fill="#f8dcd8"/><rect x="455.0" y="477.1" width="25.4" height="20.8" fill="#f4a098"/><rect x="455.0" y="497.9" width="25.4" height="16.2" fill="#f6b0a8"/><rect x="480.4" y="452.2" width="19.2" height="13.6" fill="#f4a098"/><rect x="499.6" y="452.2" width="19.1" height="13.6" fill="#e0ecf2"/><rect x="518.7" y="452.2" width="17.3" height="13.6" fill="#c81c20"/><rect x="536.0" y="452.2" width="16.8" height="13.6" fill="#f4a098"/><rect x="480.4" y="465.8" width="15.1" height="15.9" fill="#e85550"/><rect x="480.4" y="481.7" width="15.1" height="10.0" fill="#f6bab2"/><rect x="480.4" y="491.7" width="15.1" height="7.5" fill="#f07a72"/><rect x="480.4" y="499.2" width="15.1" height="7.6" fill="#c41e22"/><rect x="480.4" y="506.8" width="15.1" height="7.3" fill="#c41e22"/><rect x="495.5" y="465.8" width="12.2" height="9.1" fill="#e0393a"/><rect x="507.7" y="465.8" width="11.3" height="9.1" fill="#e0393a"/><rect x="519.0" y="465.8" width="12.2" height="9.1" fill="#f07a72"/><rect x="531.2" y="465.8" width="10.5" height="9.1" fill="#f07a72"/><rect x="541.7" y="465.8" width="11.1" height="9.1" fill="#e0393a"/><rect x="495.5" y="474.9" width="13.8" height="7.1" fill="#f07a72"/><rect x="509.3" y="474.9" width="11.3" height="7.1" fill="#c41e22"/><rect x="520.6" y="474.9" width="11.4" height="7.1" fill="#c41e22"/><rect x="532.0" y="474.9" width="10.5" height="7.1" fill="#f07a72"/><rect x="542.5" y="474.9" width="10.3" height="7.1" fill="#c41e22"/><rect x="495.5" y="482.0" width="8.2" height="6.9" fill="#f07a72"/><rect x="495.5" y="488.9" width="8.2" height="6.1" fill="#c41e22"/><rect x="495.5" y="495.0" width="8.2" height="5.7" fill="#c41e22"/><rect x="495.5" y="500.6" width="8.2" height="5.3" fill="#c41e22"/><rect x="495.5" y="505.9" width="8.2" height="4.3" fill="#e0393a"/><rect x="495.5" y="510.3" width="8.2" height="3.8" fill="#c41e22"/><rect x="503.7" y="482.0" width="6.8" height="4.2" fill="#e0393a"/><rect x="510.6" y="482.0" width="6.8" height="4.2" fill="#c41e22"/><rect x="517.4" y="482.0" width="6.6" height="4.2" fill="#c41e22"/><rect x="524.0" y="482.0" width="6.1" height="4.2" fill="#e0393a"/><rect x="530.0" y="482.0" width="6.0" height="4.2" fill="#eeeeee"/><rect x="536.0" y="482.0" width="5.8" height="4.2" fill="#e0393a"/><rect x="541.8" y="482.0" width="5.6" height="4.2" fill="#8cbde6"/><rect x="547.5" y="482.0" width="5.3" height="4.2" fill="#e85550"/><rect x="503.7" y="486.2" width="5.4" height="3.9" fill="#e0393a"/><rect x="503.7" y="490.0" width="5.4" height="3.7" fill="#eeeeee"/><rect x="503.7" y="493.7" width="5.4" height="3.7" fill="#c41e22"/><rect x="503.7" y="497.4" width="5.4" height="3.6" fill="#f6bab2"/><rect x="503.7" y="501.0" width="5.4" height="3.4" fill="#f9dfdb"/><rect x="503.7" y="504.4" width="5.4" height="3.4" fill="#e85550"/><rect x="503.7" y="507.8" width="5.4" height="3.2" fill="#e0393a"/><rect x="503.7" y="511.0" width="5.4" height="3.1" fill="#c41e22"/><rect x="509.2" y="486.2" width="5.2" height="3.2" fill="#e85550"/><rect x="514.4" y="486.2" width="5.2" height="3.2" fill="#c41e22"/><rect x="519.5" y="486.2" width="5.1" height="3.2" fill="#e0393a"/><rect x="524.6" y="486.2" width="4.8" height="3.2" fill="#e85550"/><rect x="529.4" y="486.2" width="4.8" height="3.2" fill="#f07a72"/><rect x="534.3" y="486.2" width="4.7" height="3.2" fill="#f6bab2"/><rect x="539.0" y="486.2" width="4.6" height="3.2" fill="#e85550"/><rect x="543.6" y="486.2" width="4.6" height="3.2" fill="#f9dfdb"/><rect x="548.2" y="486.2" width="4.6" height="3.2" fill="#e0393a"/><rect x="509.2" y="489.4" width="4.5" height="3.3" fill="#e0393a"/><rect x="509.2" y="492.6" width="4.5" height="3.3" fill="#f6bab2"/><rect x="509.2" y="495.9" width="4.5" height="3.2" fill="#e85550"/><rect x="509.2" y="499.1" width="4.5" height="3.1" fill="#c41e22"/><rect x="509.2" y="502.2" width="4.5" height="3.1" fill="#e0393a"/><rect x="509.2" y="505.3" width="4.5" height="3.0" fill="#f9dfdb"/><rect x="509.2" y="508.2" width="4.5" height="2.9" fill="#c41e22"/><rect x="509.2" y="511.2" width="4.5" height="2.9" fill="#eeeeee"/><rect x="513.7" y="489.4" width="4.5" height="2.8" fill="#c41e22"/><rect x="518.2" y="489.4" width="4.5" height="2.8" fill="#f07a72"/><rect x="522.7" y="489.4" width="4.4" height="2.8" fill="#f6bab2"/><rect x="527.1" y="489.4" width="4.4" height="2.8" fill="#e0393a"/><rect x="531.5" y="489.4" width="4.3" height="2.8" fill="#f07a72"/><rect x="535.8" y="489.4" width="4.3" height="2.8" fill="#f9dfdb"/><rect x="540.2" y="489.4" width="4.3" height="2.8" fill="#c41e22"/><rect x="544.4" y="489.4" width="4.2" height="2.8" fill="#c41e22"/><rect x="548.7" y="489.4" width="4.1" height="2.8" fill="#e0393a"/><rect x="513.7" y="492.2" width="4.0" height="2.9" fill="#f07a72"/><rect x="513.7" y="495.1" width="4.0" height="2.8" fill="#c41e22"/><rect x="513.7" y="497.9" width="4.0" height="2.8" fill="#c41e22"/><rect x="513.7" y="500.7" width="4.0" height="2.7" fill="#e0393a"/><rect x="513.7" y="503.4" width="4.0" height="2.7" fill="#c41e22"/><rect x="513.7" y="506.2" width="4.0" height="2.7" fill="#e0393a"/><rect x="513.7" y="508.8" width="4.0" height="2.6" fill="#e85550"/><rect x="513.7" y="511.5" width="4.0" height="2.6" fill="#e0393a"/><rect x="517.7" y="492.2" width="4.2" height="2.5" fill="#c41e22"/><rect x="517.7" y="494.7" width="4.2" height="2.5" fill="#c41e22"/><rect x="517.7" y="497.2" width="4.2" height="2.5" fill="#f9dfdb"/><rect x="517.7" y="499.7" width="4.2" height="2.5" fill="#e0393a"/><rect x="517.7" y="502.1" width="4.2" height="2.5" fill="#e0393a"/><rect x="517.7" y="504.6" width="4.2" height="2.4" fill="#e0393a"/><rect x="517.7" y="507.0" width="4.2" height="2.4" fill="#f6bab2"/><rect x="517.7" y="509.4" width="4.2" height="2.4" fill="#8cbde6"/><rect x="517.7" y="511.8" width="4.2" height="2.3" fill="#f9dfdb"/><rect x="521.9" y="492.2" width="4.1" height="2.4" fill="#eeeeee"/><rect x="525.9" y="492.2" width="4.0" height="2.4" fill="#e0393a"/><rect x="530.0" y="492.2" width="3.8" height="2.4" fill="#c41e22"/><rect x="533.8" y="492.2" width="3.8" height="2.4" fill="#c41e22"/><rect x="537.6" y="492.2" width="3.8" height="2.4" fill="#f9dfdb"/><rect x="541.4" y="492.2" width="3.8" height="2.4" fill="#c41e22"/><rect x="545.2" y="492.2" width="3.8" height="2.4" fill="#e85550"/><rect x="549.0" y="492.2" width="3.8" height="2.4" fill="#8cbde6"/><rect x="521.9" y="494.6" width="4.0" height="2.3" fill="#e0393a"/><rect x="525.9" y="494.6" width="3.9" height="2.3" fill="#e0393a"/><rect x="529.8" y="494.6" width="3.9" height="2.3" fill="#e0393a"/><rect x="533.6" y="494.6" width="3.9" height="2.3" fill="#f07a72"/><rect x="537.5" y="494.6" width="3.8" height="2.3" fill="#f6bab2"/><rect x="541.3" y="494.6" width="3.8" height="2.3" fill="#f9dfdb"/><rect x="545.1" y="494.6" width="3.8" height="2.3" fill="#c41e22"/><rect x="549.0" y="494.6" width="3.8" height="2.3" fill="#eeeeee"/><rect x="521.9" y="496.9" width="3.8" height="2.3" fill="#e0393a"/><rect x="521.9" y="499.1" width="3.8" height="2.2" fill="#e0393a"/><rect x="521.9" y="501.4" width="3.8" height="2.2" fill="#f9dfdb"/><rect x="521.9" y="503.6" width="3.8" height="2.2" fill="#eeeeee"/><rect x="521.9" y="505.7" width="3.8" height="2.1" fill="#8cbde6"/><rect x="521.9" y="507.8" width="3.8" height="2.1" fill="#eeeeee"/><rect x="521.9" y="509.9" width="3.8" height="2.1" fill="#8cbde6"/><rect x="521.9" y="512.0" width="3.8" height="2.1" fill="#e0393a"/><rect x="525.7" y="496.9" width="3.4" height="2.3" fill="#e85550"/><rect x="529.1" y="496.9" width="3.4" height="2.3" fill="#eeeeee"/><rect x="532.6" y="496.9" width="3.4" height="2.3" fill="#e0393a"/><rect x="536.0" y="496.9" width="3.4" height="2.3" fill="#c41e22"/><rect x="539.4" y="496.9" width="3.4" height="2.3" fill="#e85550"/><rect x="542.8" y="496.9" width="3.4" height="2.3" fill="#c4dcee"/><rect x="546.2" y="496.9" width="3.3" height="2.3" fill="#c4dcee"/><rect x="549.5" y="496.9" width="3.3" height="2.3" fill="#c41e22"/><rect x="525.7" y="499.1" width="3.4" height="2.2" fill="#e0393a"/><rect x="525.7" y="501.3" width="3.4" height="2.1" fill="#c41e22"/><rect x="525.7" y="503.5" width="3.4" height="2.1" fill="#e0393a"/><rect x="525.7" y="505.6" width="3.4" height="2.1" fill="#f07a72"/><rect x="525.7" y="507.7" width="3.4" height="2.1" fill="#e0393a"/><rect x="525.7" y="509.9" width="3.4" height="2.1" fill="#e0393a"/><rect x="525.7" y="512.0" width="3.4" height="2.1" fill="#c41e22"/><rect x="529.1" y="499.1" width="3.5" height="2.1" fill="#e0393a"/><rect x="532.6" y="499.1" width="3.5" height="2.1" fill="#f6bab2"/><rect x="536.1" y="499.1" width="3.5" height="2.1" fill="#e0393a"/><rect x="539.5" y="499.1" width="3.3" height="2.1" fill="#c41e22"/><rect x="542.9" y="499.1" width="3.3" height="2.1" fill="#c41e22"/><rect x="546.2" y="499.1" width="3.3" height="2.1" fill="#c41e22"/><rect x="549.5" y="499.1" width="3.3" height="2.1" fill="#8cbde6"/><rect x="529.1" y="501.2" width="3.1" height="2.2" fill="#c41e22"/><rect x="529.1" y="503.4" width="3.1" height="2.1" fill="#eeeeee"/><rect x="529.1" y="505.6" width="3.1" height="2.1" fill="#c41e22"/><rect x="529.1" y="507.7" width="3.1" height="2.1" fill="#eeeeee"/><rect x="529.1" y="509.8" width="3.1" height="2.1" fill="#c41e22"/><rect x="529.1" y="512.0" width="3.1" height="2.1" fill="#eeeeee"/><rect x="532.2" y="501.2" width="3.5" height="1.9" fill="#e0393a"/><rect x="535.7" y="501.2" width="3.5" height="1.9" fill="#c41e22"/><rect x="539.2" y="501.2" width="3.4" height="1.9" fill="#c41e22"/><rect x="542.6" y="501.2" width="3.4" height="1.9" fill="#f9dfdb"/><rect x="546.0" y="501.2" width="3.4" height="1.9" fill="#e85550"/><rect x="549.4" y="501.2" width="3.4" height="1.9" fill="#e0393a"/><rect x="532.2" y="503.1" width="3.3" height="1.9" fill="#e0393a"/><rect x="532.2" y="505.0" width="3.3" height="1.9" fill="#f6bab2"/><rect x="532.2" y="506.8" width="3.3" height="1.9" fill="#e0393a"/><rect x="532.2" y="508.7" width="3.3" height="1.8" fill="#c41e22"/><rect x="532.2" y="510.5" width="3.3" height="1.8" fill="#f6bab2"/><rect x="532.2" y="512.3" width="3.3" height="1.8" fill="#e0393a"/><rect x="535.5" y="503.1" width="2.9" height="2.0" fill="#f9dfdb"/><rect x="538.5" y="503.1" width="2.9" height="2.0" fill="#e85550"/><rect x="541.4" y="503.1" width="2.9" height="2.0" fill="#eeeeee"/><rect x="544.3" y="503.1" width="2.9" height="2.0" fill="#c41e22"/><rect x="547.1" y="503.1" width="2.9" height="2.0" fill="#eeeeee"/><rect x="550.0" y="503.1" width="2.8" height="2.0" fill="#f6bab2"/><rect x="535.5" y="505.1" width="3.0" height="1.8" fill="#f9dfdb"/><rect x="535.5" y="506.9" width="3.0" height="1.8" fill="#c4dcee"/><rect x="535.5" y="508.8" width="3.0" height="1.8" fill="#e85550"/><rect x="535.5" y="510.6" width="3.0" height="1.8" fill="#f6bab2"/><rect x="535.5" y="512.3" width="3.0" height="1.8" fill="#eeeeee"/><rect x="538.6" y="505.1" width="2.9" height="1.9" fill="#c41e22"/><rect x="541.5" y="505.1" width="2.9" height="1.9" fill="#e85550"/><rect x="544.3" y="505.1" width="2.8" height="1.9" fill="#eeeeee"/><rect x="547.2" y="505.1" width="2.8" height="1.9" fill="#f6bab2"/><rect x="550.0" y="505.1" width="2.8" height="1.9" fill="#e85550"/><rect x="538.6" y="507.0" width="2.9" height="1.8" fill="#f9dfdb"/><rect x="538.6" y="508.8" width="2.9" height="1.8" fill="#f07a72"/><rect x="538.6" y="510.6" width="2.9" height="1.8" fill="#c41e22"/><rect x="538.6" y="512.3" width="2.9" height="1.8" fill="#c41e22"/><rect x="541.5" y="507.0" width="2.9" height="1.7" fill="#f6bab2"/><rect x="544.4" y="507.0" width="2.9" height="1.7" fill="#c41e22"/><rect x="547.2" y="507.0" width="2.8" height="1.7" fill="#f07a72"/><rect x="550.0" y="507.0" width="2.8" height="1.7" fill="#e0393a"/><rect x="541.5" y="508.7" width="2.6" height="1.8" fill="#e85550"/><rect x="541.5" y="510.5" width="2.6" height="1.8" fill="#f9dfdb"/><rect x="541.5" y="512.3" width="2.6" height="1.8" fill="#c4dcee"/><rect x="544.0" y="508.7" width="2.5" height="1.8" fill="#c41e22"/><rect x="544.0" y="510.5" width="2.5" height="1.8" fill="#e0393a"/><rect x="544.0" y="512.3" width="2.5" height="1.8" fill="#c41e22"/><rect x="546.5" y="508.7" width="3.2" height="1.4" fill="#e0393a"/><rect x="549.7" y="508.7" width="3.1" height="1.4" fill="#c41e22"/><rect x="546.5" y="510.1" width="3.1" height="1.4" fill="#c4dcee"/><rect x="549.7" y="510.1" width="3.1" height="1.4" fill="#e0393a"/><rect x="546.5" y="511.5" width="3.4" height="1.3" fill="#e0393a"/><rect x="546.5" y="512.8" width="3.4" height="1.3" fill="#c4dcee"/><rect x="549.9" y="511.5" width="2.9" height="1.3" fill="#f9dfdb"/><rect x="549.9" y="512.8" width="2.9" height="1.3" fill="#e0393a"/><rect x="571.9" y="409.1" width="25.1" height="10.1" fill="#c41e22"/><rect x="597.0" y="409.1" width="14.9" height="10.1" fill="#f6bab2"/><rect x="611.9" y="409.1" width="11.0" height="10.1" fill="#e0393a"/><rect x="571.9" y="419.2" width="13.0" height="6.7" fill="#c4dcee"/><rect x="571.9" y="425.9" width="13.0" height="6.8" fill="#eeeeee"/><rect x="571.9" y="432.7" width="13.0" height="5.6" fill="#f9dfdb"/><rect x="571.9" y="438.3" width="13.0" height="6.4" fill="#f6bab2"/><rect x="584.9" y="419.2" width="10.1" height="5.6" fill="#c41e22"/><rect x="595.0" y="419.2" width="9.5" height="5.6" fill="#c41e22"/><rect x="604.5" y="419.2" width="9.6" height="5.6" fill="#e0393a"/><rect x="614.1" y="419.2" width="8.8" height="5.6" fill="#f6bab2"/><rect x="584.9" y="424.8" width="9.0" height="5.6" fill="#a8d0ec"/><rect x="584.9" y="430.4" width="9.0" height="4.5" fill="#c41e22"/><rect x="584.9" y="434.9" width="9.0" height="5.1" fill="#eeeeee"/><rect x="584.9" y="440.0" width="9.0" height="4.7" fill="#f6bab2"/><rect x="593.9" y="424.8" width="10.3" height="5.0" fill="#c41e22"/><rect x="604.2" y="424.8" width="7.3" height="5.0" fill="#c41e22"/><rect x="611.5" y="424.8" width="6.7" height="5.0" fill="#c41e22"/><rect x="618.1" y="424.8" width="4.8" height="5.0" fill="#c41e22"/><rect x="593.9" y="429.8" width="5.4" height="4.2" fill="#f6bab2"/><rect x="593.9" y="434.0" width="5.4" height="4.1" fill="#e0393a"/><rect x="593.9" y="438.1" width="5.4" height="3.5" fill="#e0393a"/><rect x="593.9" y="441.5" width="5.4" height="3.2" fill="#e0393a"/><rect x="599.3" y="429.8" width="5.4" height="3.0" fill="#e0393a"/><rect x="604.7" y="429.8" width="5.0" height="3.0" fill="#8cbde6"/><rect x="609.7" y="429.8" width="4.9" height="3.0" fill="#c41e22"/><rect x="614.6" y="429.8" width="4.3" height="3.0" fill="#c41e22"/><rect x="618.9" y="429.8" width="4.0" height="3.0" fill="#e0393a"/><rect x="599.3" y="432.9" width="3.8" height="3.1" fill="#e0393a"/><rect x="599.3" y="435.9" width="3.8" height="3.0" fill="#eeeeee"/><rect x="599.3" y="439.0" width="3.8" height="2.9" fill="#c41e22"/><rect x="599.3" y="441.9" width="3.8" height="2.8" fill="#8cbde6"/><rect x="603.2" y="432.9" width="4.3" height="2.5" fill="#c41e22"/><rect x="603.2" y="435.4" width="4.3" height="2.4" fill="#e0393a"/><rect x="603.2" y="437.8" width="4.3" height="2.4" fill="#e0393a"/><rect x="603.2" y="440.2" width="4.3" height="2.3" fill="#c41e22"/><rect x="603.2" y="442.5" width="4.3" height="2.2" fill="#4a8ad0"/><rect x="607.5" y="432.9" width="4.1" height="2.3" fill="#eeeeee"/><rect x="611.6" y="432.9" width="3.9" height="2.3" fill="#c41e22"/><rect x="615.5" y="432.9" width="3.7" height="2.3" fill="#e0393a"/><rect x="619.2" y="432.9" width="3.7" height="2.3" fill="#f6bab2"/><rect x="607.5" y="435.2" width="3.4" height="2.5" fill="#c41e22"/><rect x="607.5" y="437.6" width="3.4" height="2.4" fill="#c41e22"/><rect x="607.5" y="440.1" width="3.4" height="2.4" fill="#f6bab2"/><rect x="607.5" y="442.5" width="3.4" height="2.2" fill="#eeeeee"/><rect x="611.0" y="435.2" width="3.3" height="2.2" fill="#e0393a"/><rect x="614.2" y="435.2" width="3.0" height="2.2" fill="#e0393a"/><rect x="617.3" y="435.2" width="2.8" height="2.2" fill="#e0393a"/><rect x="620.1" y="435.2" width="2.8" height="2.2" fill="#c41e22"/><rect x="611.0" y="437.3" width="3.2" height="1.9" fill="#4a8ad0"/><rect x="611.0" y="439.3" width="3.2" height="1.8" fill="#f9dfdb"/><rect x="611.0" y="441.1" width="3.2" height="1.8" fill="#e0393a"/><rect x="611.0" y="442.9" width="3.2" height="1.8" fill="#c41e22"/><rect x="614.1" y="437.3" width="2.9" height="1.8" fill="#e0393a"/><rect x="617.1" y="437.3" width="2.9" height="1.8" fill="#8cbde6"/><rect x="620.0" y="437.3" width="2.9" height="1.8" fill="#c41e22"/><rect x="614.1" y="439.2" width="3.1" height="1.7" fill="#c41e22"/><rect x="617.2" y="439.2" width="2.9" height="1.7" fill="#c41e22"/><rect x="620.1" y="439.2" width="2.8" height="1.7" fill="#eeeeee"/><rect x="614.1" y="440.9" width="2.5" height="1.9" fill="#f6bab2"/><rect x="614.1" y="442.8" width="2.5" height="1.9" fill="#c41e22"/><rect x="616.6" y="440.9" width="2.2" height="1.9" fill="#f6bab2"/><rect x="616.6" y="442.8" width="2.2" height="1.9" fill="#eeeeee"/><rect x="618.8" y="440.9" width="2.1" height="1.9" fill="#f9dfdb"/><rect x="620.9" y="440.9" width="2.0" height="1.9" fill="#8cbde6"/><rect x="618.8" y="442.8" width="2.1" height="1.9" fill="#e0393a"/><rect x="620.9" y="442.8" width="2.0" height="1.9" fill="#8cbde6"/><rect x="632.1" y="409.1" width="13.5" height="8.2" fill="#e0393a"/><rect x="645.6" y="409.1" width="11.8" height="8.2" fill="#e0393a"/><rect x="657.4" y="409.1" width="8.6" height="8.2" fill="#c41e22"/><rect x="632.1" y="417.3" width="11.2" height="5.8" fill="#f6bab2"/><rect x="643.3" y="417.3" width="11.3" height="5.8" fill="#f6bab2"/><rect x="654.6" y="417.3" width="11.4" height="5.8" fill="#f6bab2"/><rect x="632.1" y="423.1" width="9.0" height="7.0" fill="#c41e22"/><rect x="632.1" y="430.1" width="9.0" height="6.5" fill="#f6bab2"/><rect x="632.1" y="436.6" width="9.0" height="4.3" fill="#c4dcee"/><rect x="632.1" y="440.9" width="9.0" height="3.8" fill="#e0393a"/><rect x="641.1" y="423.1" width="10.3" height="4.7" fill="#c41e22"/><rect x="651.4" y="423.1" width="8.1" height="4.7" fill="#e0393a"/><rect x="659.5" y="423.1" width="6.5" height="4.7" fill="#8cbde6"/><rect x="641.1" y="427.8" width="8.0" height="3.5" fill="#e0393a"/><rect x="649.1" y="427.8" width="6.8" height="3.5" fill="#f6bab2"/><rect x="655.9" y="427.8" width="5.1" height="3.5" fill="#c41e22"/><rect x="661.0" y="427.8" width="5.0" height="3.5" fill="#f6bab2"/><rect x="641.1" y="431.2" width="4.6" height="3.6" fill="#c41e22"/><rect x="641.1" y="434.8" width="4.6" height="3.6" fill="#eeeeee"/><rect x="641.1" y="438.4" width="4.6" height="3.4" fill="#8cbde6"/><rect x="641.1" y="441.8" width="4.6" height="2.9" fill="#c41e22"/><rect x="645.7" y="431.2" width="4.6" height="2.9" fill="#f6bab2"/><rect x="650.3" y="431.2" width="4.3" height="2.9" fill="#c41e22"/><rect x="654.6" y="431.2" width="4.0" height="2.9" fill="#f9dfdb"/><rect x="658.6" y="431.2" width="3.7" height="2.9" fill="#c41e22"/><rect x="662.4" y="431.2" width="3.6" height="2.9" fill="#c41e22"/><rect x="645.7" y="434.1" width="3.6" height="2.8" fill="#f9dfdb"/><rect x="645.7" y="436.9" width="3.6" height="2.7" fill="#f6bab2"/><rect x="645.7" y="439.6" width="3.6" height="2.6" fill="#c41e22"/><rect x="645.7" y="442.2" width="3.6" height="2.5" fill="#e0393a"/><rect x="649.3" y="434.1" width="3.6" height="2.5" fill="#8cbde6"/><rect x="652.8" y="434.1" width="3.5" height="2.5" fill="#c41e22"/><rect x="656.4" y="434.1" width="3.3" height="2.5" fill="#eeeeee"/><rect x="659.6" y="434.1" width="3.2" height="2.5" fill="#c41e22"/><rect x="662.8" y="434.1" width="3.2" height="2.5" fill="#e0393a"/><rect x="649.3" y="436.6" width="3.5" height="2.1" fill="#e0393a"/><rect x="649.3" y="438.7" width="3.5" height="2.0" fill="#c41e22"/><rect x="649.3" y="440.8" width="3.5" height="2.0" fill="#e0393a"/><rect x="649.3" y="442.7" width="3.5" height="2.0" fill="#e0393a"/><rect x="652.8" y="436.6" width="3.2" height="2.1" fill="#f6bab2"/><rect x="652.8" y="438.7" width="3.2" height="2.0" fill="#e0393a"/><rect x="652.8" y="440.8" width="3.2" height="2.0" fill="#c41e22"/><rect x="652.8" y="442.7" width="3.2" height="2.0" fill="#f6bab2"/><rect x="656.0" y="436.6" width="3.5" height="1.8" fill="#c41e22"/><rect x="659.5" y="436.6" width="3.3" height="1.8" fill="#f9dfdb"/><rect x="662.8" y="436.6" width="3.2" height="1.8" fill="#c41e22"/><rect x="656.0" y="438.4" width="3.4" height="1.7" fill="#eeeeee"/><rect x="659.4" y="438.4" width="3.3" height="1.7" fill="#c41e22"/><rect x="662.7" y="438.4" width="3.3" height="1.7" fill="#e0393a"/><rect x="656.0" y="440.1" width="3.6" height="1.6" fill="#e0393a"/><rect x="656.0" y="441.7" width="3.6" height="1.5" fill="#e0393a"/><rect x="656.0" y="443.2" width="3.6" height="1.5" fill="#eeeeee"/><rect x="659.6" y="440.1" width="3.3" height="1.6" fill="#eeeeee"/><rect x="662.9" y="440.1" width="3.1" height="1.6" fill="#c41e22"/><rect x="659.6" y="441.7" width="3.3" height="1.5" fill="#f9dfdb"/><rect x="659.6" y="443.2" width="3.3" height="1.5" fill="#f6bab2"/><rect x="662.9" y="441.7" width="3.1" height="1.5" fill="#c41e22"/><rect x="662.9" y="443.2" width="3.1" height="1.5" fill="#eeeeee"/><rect x="571.7" y="485.9" width="14.5" height="10.6" fill="#f6c0b8"/><rect x="571.7" y="496.5" width="14.5" height="10.5" fill="#f29088"/><rect x="571.7" y="507.0" width="14.5" height="7.6" fill="#f29088"/><rect x="586.2" y="485.9" width="13.0" height="7.6" fill="#f9dfdb"/><rect x="586.2" y="493.5" width="13.0" height="8.1" fill="#f07a72"/><rect x="586.2" y="501.6" width="13.0" height="6.7" fill="#f07a72"/><rect x="586.2" y="508.3" width="13.0" height="6.3" fill="#eeeeee"/><rect x="599.2" y="485.9" width="11.3" height="6.2" fill="#f07a72"/><rect x="599.2" y="492.1" width="11.3" height="6.5" fill="#eeeeee"/><rect x="599.2" y="498.6" width="11.3" height="5.0" fill="#eeeeee"/><rect x="599.2" y="503.6" width="11.3" height="5.4" fill="#f6bab2"/><rect x="599.2" y="509.0" width="11.3" height="5.6" fill="#eeeeee"/><rect x="610.5" y="485.9" width="12.3" height="4.6" fill="#eeeeee"/><rect x="622.8" y="485.9" width="11.3" height="4.6" fill="#eeeeee"/><rect x="634.1" y="485.9" width="11.1" height="4.6" fill="#f6bab2"/><rect x="645.2" y="485.9" width="10.5" height="4.6" fill="#c4dcee"/><rect x="655.7" y="485.9" width="10.1" height="4.6" fill="#c4dcee"/><rect x="610.5" y="490.5" width="8.9" height="9.7" fill="#8cbde6"/><rect x="610.5" y="500.2" width="8.9" height="5.0" fill="#eeeeee"/><rect x="610.5" y="505.2" width="8.9" height="5.0" fill="#e0393a"/><rect x="610.5" y="510.2" width="8.9" height="4.4" fill="#eeeeee"/><rect x="619.4" y="490.5" width="6.6" height="5.2" fill="#eeeeee"/><rect x="619.4" y="495.7" width="6.6" height="4.3" fill="#eeeeee"/><rect x="619.4" y="500.1" width="6.6" height="4.3" fill="#e0393a"/><rect x="619.4" y="504.4" width="6.6" height="3.5" fill="#f9dfdb"/><rect x="619.4" y="507.8" width="6.6" height="3.5" fill="#8cbde6"/><rect x="619.4" y="511.3" width="6.6" height="3.3" fill="#eeeeee"/><rect x="626.0" y="490.5" width="5.6" height="3.8" fill="#e0393a"/><rect x="626.0" y="494.3" width="5.6" height="3.8" fill="#f6bab2"/><rect x="626.0" y="498.1" width="5.6" height="3.7" fill="#e0393a"/><rect x="626.0" y="501.8" width="5.6" height="3.6" fill="#e0393a"/><rect x="626.0" y="505.5" width="5.6" height="3.4" fill="#f9dfdb"/><rect x="626.0" y="508.9" width="5.6" height="2.9" fill="#f6bab2"/><rect x="626.0" y="511.7" width="5.6" height="2.9" fill="#f6bab2"/><rect x="631.6" y="490.5" width="5.3" height="3.0" fill="#f07a72"/><rect x="636.9" y="490.5" width="5.1" height="3.0" fill="#eeeeee"/><rect x="642.0" y="490.5" width="5.1" height="3.0" fill="#f9dfdb"/><rect x="647.1" y="490.5" width="4.9" height="3.0" fill="#e0393a"/><rect x="652.0" y="490.5" width="4.8" height="3.0" fill="#eeeeee"/><rect x="656.8" y="490.5" width="4.6" height="3.0" fill="#c4dcee"/><rect x="661.4" y="490.5" width="4.4" height="3.0" fill="#eeeeee"/><rect x="631.6" y="493.5" width="4.6" height="2.8" fill="#f9dfdb"/><rect x="631.6" y="496.2" width="4.6" height="2.7" fill="#f07a72"/><rect x="631.6" y="499.0" width="4.6" height="2.7" fill="#eeeeee"/><rect x="631.6" y="501.7" width="4.6" height="2.6" fill="#e0393a"/><rect x="631.6" y="504.4" width="4.6" height="2.6" fill="#f07a72"/><rect x="631.6" y="506.9" width="4.6" height="2.6" fill="#e0393a"/><rect x="631.6" y="509.5" width="4.6" height="2.6" fill="#c41e22"/><rect x="631.6" y="512.1" width="4.6" height="2.5" fill="#eeeeee"/><rect x="636.2" y="493.5" width="4.5" height="2.5" fill="#8cbde6"/><rect x="640.7" y="493.5" width="4.3" height="2.5" fill="#f9dfdb"/><rect x="645.0" y="493.5" width="4.3" height="2.5" fill="#f6bab2"/><rect x="649.3" y="493.5" width="4.2" height="2.5" fill="#f6bab2"/><rect x="653.5" y="493.5" width="4.2" height="2.5" fill="#e0393a"/><rect x="657.7" y="493.5" width="4.1" height="2.5" fill="#eeeeee"/><rect x="661.8" y="493.5" width="4.0" height="2.5" fill="#c41e22"/><rect x="636.2" y="496.0" width="3.9" height="2.5" fill="#c41e22"/><rect x="640.1" y="496.0" width="3.9" height="2.5" fill="#f9dfdb"/><rect x="644.0" y="496.0" width="3.7" height="2.5" fill="#c41e22"/><rect x="647.7" y="496.0" width="3.7" height="2.5" fill="#8cbde6"/><rect x="651.4" y="496.0" width="3.6" height="2.5" fill="#c4dcee"/><rect x="655.0" y="496.0" width="3.6" height="2.5" fill="#8cbde6"/><rect x="658.7" y="496.0" width="3.6" height="2.5" fill="#e0393a"/><rect x="662.3" y="496.0" width="3.5" height="2.5" fill="#f9dfdb"/><rect x="636.2" y="498.5" width="3.7" height="2.4" fill="#eeeeee"/><rect x="636.2" y="500.9" width="3.7" height="2.4" fill="#c4dcee"/><rect x="636.2" y="503.3" width="3.7" height="2.4" fill="#c4dcee"/><rect x="636.2" y="505.6" width="3.7" height="2.3" fill="#f6bab2"/><rect x="636.2" y="507.9" width="3.7" height="2.3" fill="#eeeeee"/><rect x="636.2" y="510.2" width="3.7" height="2.2" fill="#c41e22"/><rect x="636.2" y="512.4" width="3.7" height="2.2" fill="#8cbde6"/><rect x="640.0" y="498.5" width="3.5" height="2.4" fill="#e0393a"/><rect x="640.0" y="500.9" width="3.5" height="2.3" fill="#f6bab2"/><rect x="640.0" y="503.2" width="3.5" height="2.3" fill="#c4dcee"/><rect x="640.0" y="505.5" width="3.5" height="2.3" fill="#eeeeee"/><rect x="640.0" y="507.8" width="3.5" height="2.3" fill="#eeeeee"/><rect x="640.0" y="510.1" width="3.5" height="2.2" fill="#eeeeee"/><rect x="640.0" y="512.4" width="3.5" height="2.2" fill="#e0393a"/><rect x="643.4" y="498.5" width="3.3" height="2.3" fill="#c41e22"/><rect x="646.7" y="498.5" width="3.2" height="2.3" fill="#8cbde6"/><rect x="649.9" y="498.5" width="3.2" height="2.3" fill="#c41e22"/><rect x="653.1" y="498.5" width="3.2" height="2.3" fill="#eeeeee"/><rect x="656.3" y="498.5" width="3.2" height="2.3" fill="#8cbde6"/><rect x="659.5" y="498.5" width="3.2" height="2.3" fill="#eeeeee"/><rect x="662.6" y="498.5" width="3.2" height="2.3" fill="#8cbde6"/><rect x="643.4" y="500.9" width="3.2" height="2.3" fill="#f6bab2"/><rect x="643.4" y="503.2" width="3.2" height="2.3" fill="#f6bab2"/><rect x="643.4" y="505.5" width="3.2" height="2.3" fill="#f9dfdb"/><rect x="643.4" y="507.8" width="3.2" height="2.3" fill="#8cbde6"/><rect x="643.4" y="510.1" width="3.2" height="2.3" fill="#f6bab2"/><rect x="643.4" y="512.3" width="3.2" height="2.3" fill="#c4dcee"/><rect x="646.6" y="500.9" width="3.3" height="2.2" fill="#f6bab2"/><rect x="649.9" y="500.9" width="3.2" height="2.2" fill="#c41e22"/><rect x="653.1" y="500.9" width="3.2" height="2.2" fill="#c4dcee"/><rect x="656.3" y="500.9" width="3.2" height="2.2" fill="#c41e22"/><rect x="659.5" y="500.9" width="3.2" height="2.2" fill="#8cbde6"/><rect x="662.7" y="500.9" width="3.1" height="2.2" fill="#e0393a"/><rect x="646.6" y="503.1" width="3.5" height="2.0" fill="#8cbde6"/><rect x="646.6" y="505.0" width="3.5" height="2.0" fill="#8cbde6"/><rect x="646.6" y="507.0" width="3.5" height="1.9" fill="#eeeeee"/><rect x="646.6" y="508.9" width="3.5" height="1.9" fill="#c41e22"/><rect x="646.6" y="510.9" width="3.5" height="1.9" fill="#8cbde6"/><rect x="646.6" y="512.7" width="3.5" height="1.9" fill="#f6bab2"/><rect x="650.1" y="503.1" width="3.2" height="2.0" fill="#8cbde6"/><rect x="653.3" y="503.1" width="3.2" height="2.0" fill="#f9dfdb"/><rect x="656.5" y="503.1" width="3.1" height="2.0" fill="#e0393a"/><rect x="659.6" y="503.1" width="3.1" height="2.0" fill="#8cbde6"/><rect x="662.7" y="503.1" width="3.1" height="2.0" fill="#8cbde6"/><rect x="650.1" y="505.1" width="3.1" height="1.9" fill="#eeeeee"/><rect x="650.1" y="507.0" width="3.1" height="1.9" fill="#8cbde6"/><rect x="650.1" y="508.9" width="3.1" height="1.9" fill="#c4dcee"/><rect x="650.1" y="510.8" width="3.1" height="1.9" fill="#e0393a"/><rect x="650.1" y="512.7" width="3.1" height="1.9" fill="#f07a72"/><rect x="653.2" y="505.1" width="3.2" height="1.8" fill="#eeeeee"/><rect x="656.4" y="505.1" width="3.2" height="1.8" fill="#c41e22"/><rect x="659.5" y="505.1" width="3.1" height="1.8" fill="#f6bab2"/><rect x="662.7" y="505.1" width="3.1" height="1.8" fill="#f6bab2"/><rect x="653.2" y="506.8" width="2.8" height="2.0" fill="#c4dcee"/><rect x="653.2" y="508.8" width="2.8" height="2.0" fill="#f9dfdb"/><rect x="653.2" y="510.7" width="2.8" height="2.0" fill="#e0393a"/><rect x="653.2" y="512.7" width="2.8" height="1.9" fill="#eeeeee"/><rect x="656.0" y="506.8" width="3.4" height="1.6" fill="#eeeeee"/><rect x="659.3" y="506.8" width="3.3" height="1.6" fill="#8cbde6"/><rect x="662.6" y="506.8" width="3.2" height="1.6" fill="#eeeeee"/><rect x="656.0" y="508.4" width="2.5" height="2.0" fill="#f6bab2"/><rect x="658.5" y="508.4" width="2.5" height="2.0" fill="#eeeeee"/><rect x="660.9" y="508.4" width="2.5" height="2.0" fill="#c41e22"/><rect x="663.4" y="508.4" width="2.4" height="2.0" fill="#4a8ad0"/><rect x="656.0" y="510.4" width="2.3" height="2.1" fill="#4a8ad0"/><rect x="656.0" y="512.5" width="2.3" height="2.1" fill="#e0393a"/><rect x="658.3" y="510.4" width="3.1" height="1.5" fill="#eeeeee"/><rect x="658.3" y="511.9" width="3.1" height="1.4" fill="#f6bab2"/><rect x="658.3" y="513.3" width="3.1" height="1.3" fill="#c41e22"/><rect x="661.3" y="510.4" width="2.3" height="1.8" fill="#eeeeee"/><rect x="663.6" y="510.4" width="2.2" height="1.8" fill="#8cbde6"/><rect x="661.3" y="512.2" width="3.0" height="1.2" fill="#c41e22"/><rect x="661.3" y="513.4" width="3.0" height="1.2" fill="#f6bab2"/><rect x="664.3" y="512.2" width="1.5" height="2.4" fill="#f07a72"/><rect x="684.7" y="409.3" width="34.0" height="19.1" fill="#f08078"/><rect x="684.7" y="428.4" width="17.6" height="24.1" fill="#2a70c0"/><rect x="702.3" y="428.4" width="16.4" height="24.1" fill="#f6bab2"/><rect x="684.7" y="452.5" width="20.8" height="15.3" fill="#f4eeee"/><rect x="705.5" y="452.5" width="13.2" height="15.3" fill="#dfe8f0"/><rect x="684.7" y="467.8" width="12.7" height="13.8" fill="#c4dcee"/><rect x="697.4" y="467.8" width="13.4" height="13.8" fill="#f07a72"/><rect x="710.8" y="467.8" width="7.9" height="13.8" fill="#c4dcee"/><rect x="684.7" y="481.6" width="12.7" height="12.7" fill="#c41e22"/><rect x="684.7" y="494.3" width="12.7" height="10.7" fill="#e0393a"/><rect x="684.7" y="505.0" width="12.7" height="9.5" fill="#f6bab2"/><rect x="697.4" y="481.6" width="6.6" height="7.4" fill="#c41e22"/><rect x="704.0" y="481.6" width="6.8" height="7.4" fill="#f07a72"/><rect x="710.8" y="481.6" width="7.9" height="7.4" fill="#c4dcee"/><rect x="697.4" y="489.0" width="9.0" height="4.4" fill="#f6bab2"/><rect x="706.4" y="489.0" width="7.3" height="4.4" fill="#c41e22"/><rect x="713.6" y="489.0" width="5.1" height="4.4" fill="#c41e22"/><rect x="697.4" y="493.4" width="5.7" height="3.9" fill="#4a8ad0"/><rect x="703.1" y="493.4" width="5.5" height="3.9" fill="#8cbde6"/><rect x="708.6" y="493.4" width="5.5" height="3.9" fill="#c41e22"/><rect x="714.0" y="493.4" width="4.7" height="3.9" fill="#8cbde6"/><rect x="697.4" y="497.3" width="6.1" height="2.8" fill="#8cbde6"/><rect x="703.5" y="497.3" width="5.2" height="2.8" fill="#eeeeee"/><rect x="708.7" y="497.3" width="5.1" height="2.8" fill="#c41e22"/><rect x="713.8" y="497.3" width="4.9" height="2.8" fill="#c4dcee"/><rect x="697.4" y="500.0" width="4.8" height="2.7" fill="#c4dcee"/><rect x="702.2" y="500.0" width="4.2" height="2.7" fill="#8cbde6"/><rect x="706.4" y="500.0" width="4.2" height="2.7" fill="#e0393a"/><rect x="710.6" y="500.0" width="4.1" height="2.7" fill="#eeeeee"/><rect x="714.7" y="500.0" width="4.0" height="2.7" fill="#8cbde6"/><rect x="697.4" y="502.8" width="4.3" height="2.4" fill="#eeeeee"/><rect x="697.4" y="505.2" width="4.3" height="2.4" fill="#c4dcee"/><rect x="697.4" y="507.6" width="4.3" height="2.3" fill="#e0393a"/><rect x="697.4" y="509.9" width="4.3" height="2.3" fill="#c4dcee"/><rect x="697.4" y="512.2" width="4.3" height="2.3" fill="#4a8ad0"/><rect x="701.7" y="502.8" width="4.4" height="2.1" fill="#c41e22"/><rect x="706.1" y="502.8" width="4.3" height="2.1" fill="#c41e22"/><rect x="710.3" y="502.8" width="4.2" height="2.1" fill="#4a8ad0"/><rect x="714.6" y="502.8" width="4.1" height="2.1" fill="#e0393a"/><rect x="701.7" y="504.9" width="3.5" height="2.5" fill="#c4dcee"/><rect x="701.7" y="507.4" width="3.5" height="2.4" fill="#f6bab2"/><rect x="701.7" y="509.8" width="3.5" height="2.4" fill="#e0393a"/><rect x="701.7" y="512.2" width="3.5" height="2.3" fill="#4a8ad0"/><rect x="705.2" y="504.9" width="3.5" height="2.3" fill="#e0393a"/><rect x="708.8" y="504.9" width="3.4" height="2.3" fill="#eeeeee"/><rect x="712.1" y="504.9" width="3.3" height="2.3" fill="#c41e22"/><rect x="715.4" y="504.9" width="3.3" height="2.3" fill="#4a8ad0"/><rect x="705.2" y="507.2" width="3.0" height="2.4" fill="#c41e22"/><rect x="705.2" y="509.7" width="3.0" height="2.4" fill="#f6bab2"/><rect x="705.2" y="512.1" width="3.0" height="2.4" fill="#eeeeee"/><rect x="708.3" y="507.2" width="3.6" height="2.0" fill="#e0393a"/><rect x="711.9" y="507.2" width="3.6" height="2.0" fill="#c41e22"/><rect x="715.5" y="507.2" width="3.2" height="2.0" fill="#e0393a"/><rect x="708.3" y="509.3" width="3.6" height="1.8" fill="#c41e22"/><rect x="708.3" y="511.1" width="3.6" height="1.7" fill="#e0393a"/><rect x="708.3" y="512.8" width="3.6" height="1.7" fill="#f6bab2"/><rect x="711.9" y="509.3" width="3.6" height="1.6" fill="#8cbde6"/><rect x="715.5" y="509.3" width="3.2" height="1.6" fill="#c41e22"/><rect x="711.9" y="510.9" width="2.9" height="1.8" fill="#c41e22"/><rect x="711.9" y="512.7" width="2.9" height="1.8" fill="#eeeeee"/><rect x="714.8" y="510.9" width="3.9" height="1.3" fill="#c4dcee"/><rect x="714.8" y="512.2" width="2.1" height="2.3" fill="#eeeeee"/><rect x="716.9" y="512.2" width="1.8" height="2.3" fill="#eeeeee"/><g fill="none" stroke="#ffffff" stroke-opacity="0.22" stroke-width="0.8"><rect x="416.5" y="107.8" width="32.4" height="15.9"/><rect x="449.7" y="107.8" width="31.8" height="15.9"/><rect x="482.3" y="107.8" width="18.4" height="15.9"/><rect x="416.5" y="124.5" width="19.7" height="15.5"/><rect x="437.0" y="124.5" width="19.4" height="15.5"/><rect x="457.2" y="124.5" width="15.0" height="15.5"/><rect x="473.0" y="124.5" width="13.2" height="15.5"/><rect x="487.0" y="124.5" width="13.7" height="15.5"/><rect x="416.5" y="140.8" width="15.2" height="11.7"/><rect x="432.5" y="140.8" width="13.6" height="11.7"/><rect x="446.9" y="140.8" width="13.2" height="11.7"/><rect x="460.9" y="140.8" width="13.2" height="11.7"/><rect x="474.9" y="140.8" width="12.2" height="11.7"/><rect x="487.9" y="140.8" width="12.8" height="11.7"/><rect x="416.5" y="153.3" width="15.2" height="11.8"/><rect x="416.5" y="165.9" width="15.2" height="11.4"/><rect x="416.5" y="178.1" width="15.2" height="10.4"/><rect x="416.5" y="189.3" width="15.2" height="9.8"/><rect x="432.5" y="153.3" width="12.8" height="7.3"/><rect x="432.5" y="161.4" width="12.8" height="9.6"/><rect x="432.5" y="171.8" width="12.8" height="8.2"/><rect x="432.5" y="180.8" width="12.8" height="9.2"/><rect x="432.5" y="190.8" width="12.8" height="8.3"/><rect x="446.1" y="153.3" width="12.5" height="7.3"/><rect x="459.4" y="153.3" width="12.1" height="7.3"/><rect x="472.3" y="153.3" width="10.1" height="7.3"/><rect x="483.2" y="153.3" width="8.7" height="7.3"/><rect x="492.7" y="153.3" width="8.0" height="7.3"/><rect x="446.1" y="161.4" width="8.7" height="4.9"/><rect x="455.6" y="161.4" width="7.8" height="4.9"/><rect x="464.2" y="161.4" width="7.7" height="4.9"/><rect x="472.7" y="161.4" width="7.3" height="4.9"/><rect x="480.8" y="161.4" width="5.9" height="4.9"/><rect x="487.5" y="161.4" width="6.8" height="4.9"/><rect x="495.1" y="161.4" width="5.6" height="4.9"/><rect x="446.1" y="167.1" width="8.7" height="9.1"/><rect x="446.1" y="177.0" width="8.7" height="7.8"/><rect x="446.1" y="185.6" width="8.7" height="6.8"/><rect x="446.1" y="193.2" width="8.7" height="5.9"/><rect x="455.6" y="167.1" width="11.5" height="4.3"/><rect x="467.9" y="167.1" width="10.2" height="4.3"/><rect x="478.9" y="167.1" width="7.1" height="4.3"/><rect x="486.8" y="167.1" width="6.8" height="4.3"/><rect x="494.4" y="167.1" width="6.3" height="4.3"/><rect x="455.6" y="172.2" width="5.3" height="4.5"/><rect x="455.6" y="177.6" width="5.3" height="4.1"/><rect x="455.6" y="182.5" width="5.3" height="3.3"/><rect x="455.6" y="186.6" width="5.3" height="2.7"/><rect x="455.6" y="190.1" width="5.3" height="2.5"/><rect x="455.6" y="193.4" width="5.3" height="2.5"/><rect x="455.6" y="196.7" width="5.3" height="2.4"/><rect x="461.7" y="172.2" width="5.3" height="2.4"/><rect x="467.7" y="172.2" width="5.1" height="2.4"/><rect x="473.6" y="172.2" width="5.0" height="2.4"/><rect x="479.4" y="172.2" width="5.0" height="2.4"/><rect x="485.2" y="172.2" width="4.8" height="2.4"/><rect x="490.7" y="172.2" width="4.6" height="2.4"/><rect x="496.1" y="172.2" width="4.6" height="2.4"/><rect x="461.7" y="175.4" width="4.4" height="2.5"/><rect x="461.7" y="178.7" width="4.4" height="2.4"/><rect x="461.7" y="181.9" width="4.4" height="2.3"/><rect x="461.7" y="185.1" width="4.4" height="2.3"/><rect x="461.7" y="188.2" width="4.4" height="2.3"/><rect x="510.8" y="107.9" width="14.5" height="9.4"/><rect x="510.8" y="118.1" width="14.5" height="5.2"/><rect x="510.8" y="124.1" width="14.5" height="6.1"/><rect x="510.8" y="131.0" width="14.5" height="5.6"/><rect x="526.1" y="107.9" width="10.1" height="7.2"/><rect x="526.1" y="115.9" width="10.1" height="6.3"/><rect x="526.1" y="123.0" width="10.1" height="6.3"/><rect x="526.1" y="130.1" width="10.1" height="6.5"/><rect x="537.0" y="107.9" width="8.6" height="4.6"/><rect x="546.4" y="107.9" width="10.2" height="4.6"/><rect x="557.4" y="107.9" width="8.9" height="4.6"/><rect x="567.1" y="107.9" width="8.0" height="4.6"/><rect x="575.9" y="107.9" width="6.7" height="4.6"/><rect x="537.0" y="113.3" width="8.3" height="4.3"/><rect x="546.1" y="113.3" width="7.0" height="4.3"/><rect x="553.9" y="113.3" width="7.7" height="4.3"/><rect x="562.4" y="113.3" width="7.2" height="4.3"/><rect x="570.4" y="113.3" width="5.7" height="4.3"/><rect x="576.9" y="113.3" width="5.7" height="4.3"/><rect x="537.0" y="118.4" width="8.3" height="4.7"/><rect x="537.0" y="123.9" width="8.3" height="4.7"/><rect x="537.0" y="129.4" width="8.3" height="4.2"/><rect x="537.0" y="134.4" width="8.3" height="2.2"/><rect x="546.1" y="118.4" width="8.2" height="5.7"/><rect x="546.1" y="124.9" width="8.2" height="4.0"/><rect x="546.1" y="129.7" width="8.2" height="3.2"/><rect x="546.1" y="133.7" width="8.2" height="2.9"/><rect x="555.1" y="118.4" width="6.0" height="3.1"/><rect x="561.9" y="118.4" width="5.9" height="3.1"/><rect x="568.7" y="118.4" width="4.7" height="3.1"/><rect x="574.2" y="118.4" width="4.0" height="3.1"/><rect x="579.1" y="118.4" width="3.5" height="3.1"/><rect x="555.1" y="122.3" width="3.6" height="2.9"/><rect x="555.1" y="126.0" width="3.6" height="2.3"/><rect x="511.2" y="157.4" width="16.4" height="10.1"/><rect x="528.4" y="157.4" width="12.0" height="10.1"/><rect x="541.2" y="157.4" width="9.7" height="10.1"/><rect x="511.2" y="168.3" width="12.8" height="7.1"/><rect x="524.8" y="168.3" width="8.9" height="7.1"/><rect x="534.5" y="168.3" width="7.1" height="7.1"/><rect x="542.4" y="168.3" width="8.5" height="7.1"/><rect x="511.2" y="176.2" width="7.0" height="6.4"/><rect x="511.2" y="183.4" width="7.0" height="5.3"/><rect x="511.2" y="189.5" width="7.0" height="5.9"/><rect x="511.2" y="196.2" width="7.0" height="3.4"/><rect x="519.0" y="176.2" width="11.0" height="3.8"/><rect x="530.8" y="176.2" width="7.6" height="3.8"/><rect x="539.1" y="176.2" width="5.9" height="3.8"/><rect x="545.9" y="176.2" width="5.0" height="3.8"/><rect x="519.0" y="180.8" width="5.0" height="2.8"/><rect x="519.0" y="184.4" width="5.0" height="2.7"/><rect x="519.0" y="187.9" width="5.0" height="2.5"/><rect x="519.0" y="191.3" width="5.0" height="2.4"/><rect x="519.0" y="194.5" width="5.0" height="2.2"/><rect x="524.8" y="180.8" width="4.2" height="2.4"/><rect x="529.8" y="180.8" width="3.7" height="2.4"/><rect x="534.3" y="180.8" width="3.7" height="2.4"/><rect x="538.8" y="180.8" width="3.7" height="2.4"/><rect x="543.3" y="180.8" width="3.5" height="2.4"/><rect x="547.6" y="180.8" width="3.3" height="2.4"/><rect x="524.8" y="184.0" width="3.4" height="2.2"/><rect x="560.9" y="158.0" width="7.4" height="5.9"/><rect x="569.1" y="158.0" width="7.0" height="5.9"/><rect x="576.9" y="158.0" width="5.5" height="5.9"/><rect x="560.9" y="164.7" width="7.4" height="5.2"/><rect x="569.1" y="164.7" width="7.0" height="5.2"/><rect x="576.9" y="164.7" width="5.5" height="5.2"/><rect x="560.9" y="170.7" width="4.7" height="4.1"/><rect x="566.4" y="170.7" width="4.2" height="4.1"/><rect x="571.4" y="170.7" width="5.2" height="4.1"/><rect x="577.4" y="170.7" width="5.0" height="4.1"/><rect x="560.9" y="175.6" width="9.1" height="4.3"/><rect x="570.8" y="175.6" width="5.5" height="4.3"/><rect x="577.0" y="175.6" width="5.4" height="4.3"/><rect x="560.9" y="180.7" width="5.8" height="2.7"/><rect x="567.5" y="180.7" width="4.9" height="2.7"/><rect x="573.2" y="180.7" width="4.7" height="2.7"/><rect x="578.6" y="180.7" width="3.8" height="2.7"/><rect x="560.9" y="184.2" width="4.2" height="2.4"/><rect x="565.9" y="184.2" width="3.8" height="2.4"/><rect x="570.6" y="184.2" width="3.5" height="2.4"/><rect x="574.9" y="184.2" width="3.4" height="2.4"/><rect x="579.1" y="184.2" width="3.3" height="2.4"/><rect x="602.3" y="107.4" width="25.1" height="23.1"/><rect x="602.3" y="131.3" width="25.1" height="12.2"/><rect x="628.2" y="107.4" width="16.6" height="11.8"/><rect x="628.2" y="120.0" width="16.6" height="7.5"/><rect x="628.2" y="128.3" width="16.6" height="6.9"/><rect x="628.2" y="136.0" width="16.6" height="7.5"/><rect x="645.6" y="107.4" width="12.6" height="7.2"/><rect x="659.0" y="107.4" width="11.9" height="7.2"/><rect x="671.7" y="107.4" width="11.9" height="7.2"/><rect x="684.4" y="107.4" width="11.3" height="7.2"/><rect x="645.6" y="115.4" width="9.3" height="7.2"/><rect x="645.6" y="123.4" width="9.3" height="5.8"/><rect x="645.6" y="130.0" width="9.3" height="5.8"/><rect x="645.6" y="136.6" width="9.3" height="6.9"/><rect x="655.7" y="115.4" width="10.9" height="4.2"/><rect x="667.4" y="115.4" width="10.2" height="4.2"/><rect x="678.4" y="115.4" width="8.2" height="4.2"/><rect x="687.4" y="115.4" width="8.3" height="4.2"/><rect x="655.7" y="120.4" width="7.0" height="7.2"/><rect x="655.7" y="128.4" width="7.0" height="5.3"/><rect x="655.7" y="134.5" width="7.0" height="5.2"/><rect x="655.7" y="140.5" width="7.0" height="3.0"/><rect x="663.5" y="120.4" width="6.8" height="2.8"/><rect x="671.1" y="120.4" width="6.5" height="2.8"/><rect x="678.3" y="120.4" width="5.5" height="2.8"/><rect x="684.6" y="120.4" width="5.2" height="2.8"/><rect x="690.6" y="120.4" width="5.1" height="2.8"/><rect x="663.5" y="124.0" width="4.3" height="2.9"/><rect x="663.5" y="127.7" width="4.3" height="2.9"/><rect x="663.5" y="131.4" width="4.3" height="2.7"/><rect x="663.5" y="134.9" width="4.3" height="2.5"/><rect x="663.5" y="138.2" width="4.3" height="2.5"/><rect x="602.6" y="165.0" width="25.9" height="19.4"/><rect x="602.6" y="185.2" width="25.9" height="14.1"/><rect x="629.3" y="165.0" width="17.4" height="16.7"/><rect x="629.3" y="182.5" width="17.4" height="10.2"/><rect x="629.3" y="193.5" width="17.4" height="5.8"/><rect x="647.5" y="165.0" width="13.0" height="8.4"/><rect x="661.3" y="165.0" width="12.4" height="8.4"/><rect x="674.5" y="165.0" width="9.7" height="8.4"/><rect x="685.0" y="165.0" width="10.2" height="8.4"/><rect x="647.5" y="174.2" width="10.7" height="6.9"/><rect x="647.5" y="181.9" width="10.7" height="5.3"/><rect x="647.5" y="188.0" width="10.7" height="5.8"/><rect x="647.5" y="194.6" width="10.7" height="4.7"/><rect x="659.0" y="174.2" width="8.6" height="4.4"/><rect x="668.4" y="174.2" width="7.2" height="4.4"/><rect x="676.4" y="174.2" width="8.2" height="4.4"/><rect x="685.4" y="174.2" width="6.2" height="4.4"/><rect x="692.4" y="174.2" width="2.8" height="4.4"/><rect x="659.0" y="179.4" width="7.1" height="5.1"/><rect x="659.0" y="185.3" width="7.1" height="5.0"/><rect x="659.0" y="191.1" width="7.1" height="3.8"/><rect x="659.0" y="195.7" width="7.1" height="3.6"/><rect x="666.9" y="179.4" width="5.0" height="2.7"/><rect x="672.8" y="179.4" width="4.3" height="2.7"/><rect x="677.9" y="179.4" width="4.0" height="2.7"/><rect x="682.7" y="179.4" width="3.9" height="2.7"/><rect x="687.4" y="179.4" width="3.7" height="2.7"/><rect x="691.9" y="179.4" width="3.3" height="2.7"/><rect x="671.8" y="185.5" width="3.1" height="2.3"/><rect x="705.1" y="107.4" width="13.8" height="26.1"/><rect x="705.1" y="134.3" width="13.8" height="11.1"/><rect x="705.1" y="146.2" width="6.5" height="12.6"/><rect x="712.4" y="146.2" width="6.5" height="12.6"/><rect x="705.1" y="159.6" width="13.8" height="3.9"/><rect x="705.1" y="164.3" width="7.0" height="3.4"/><rect x="712.9" y="164.3" width="6.0" height="3.4"/><rect x="705.1" y="168.4" width="4.4" height="3.5"/><rect x="710.3" y="168.4" width="4.0" height="3.5"/><rect x="715.1" y="168.4" width="3.8" height="3.5"/><rect x="705.1" y="172.7" width="4.4" height="2.9"/><rect x="710.3" y="172.7" width="4.1" height="2.9"/><rect x="715.2" y="172.7" width="3.7" height="2.9"/><rect x="416.9" y="241.6" width="25.9" height="27.8"/><rect x="416.9" y="270.2" width="25.9" height="16.7"/><rect x="416.9" y="287.7" width="25.9" height="18.1"/><rect x="443.6" y="241.6" width="25.1" height="18.1"/><rect x="443.6" y="260.5" width="25.1" height="17.2"/><rect x="443.6" y="278.5" width="25.1" height="15.2"/><rect x="443.6" y="294.5" width="25.1" height="11.3"/><rect x="469.5" y="241.6" width="19.8" height="12.6"/><rect x="490.1" y="241.6" width="22.3" height="12.6"/><rect x="513.2" y="241.6" width="19.3" height="12.6"/><rect x="533.3" y="241.6" width="19.5" height="12.6"/><rect x="469.5" y="255.0" width="15.0" height="14.9"/><rect x="469.5" y="270.7" width="15.0" height="11.3"/><rect x="469.5" y="282.8" width="15.0" height="11.4"/><rect x="469.5" y="295.0" width="15.0" height="10.8"/><rect x="485.3" y="255.0" width="14.2" height="9.6"/><rect x="500.3" y="255.0" width="20.5" height="9.6"/><rect x="521.6" y="255.0" width="7.2" height="9.6"/><rect x="529.6" y="255.0" width="10.6" height="9.6"/><rect x="541.0" y="255.0" width="11.8" height="9.6"/><rect x="485.3" y="265.4" width="10.8" height="8.2"/><rect x="485.3" y="274.4" width="10.8" height="8.9"/><rect x="485.3" y="284.1" width="10.8" height="7.2"/><rect x="485.3" y="292.1" width="10.8" height="6.9"/><rect x="485.3" y="299.8" width="10.8" height="6.0"/><rect x="496.9" y="265.4" width="10.7" height="5.2"/><rect x="508.4" y="265.4" width="9.2" height="5.2"/><rect x="518.4" y="265.4" width="7.2" height="5.2"/><rect x="526.4" y="265.4" width="9.2" height="5.2"/><rect x="536.4" y="265.4" width="8.2" height="5.2"/><rect x="545.4" y="265.4" width="7.4" height="5.2"/><rect x="496.9" y="271.4" width="8.3" height="9.3"/><rect x="496.9" y="281.5" width="8.3" height="7.6"/><rect x="496.9" y="289.9" width="8.3" height="6.6"/><rect x="496.9" y="297.3" width="8.3" height="4.2"/><rect x="496.9" y="302.3" width="8.3" height="3.5"/><rect x="506.0" y="271.4" width="7.5" height="3.4"/><rect x="514.3" y="271.4" width="7.5" height="3.4"/><rect x="522.6" y="271.4" width="6.1" height="3.4"/><rect x="529.5" y="271.4" width="5.5" height="3.4"/><rect x="535.8" y="271.4" width="5.4" height="3.4"/><rect x="542.0" y="271.4" width="5.3" height="3.4"/><rect x="548.1" y="271.4" width="4.7" height="3.4"/><rect x="506.0" y="275.6" width="5.7" height="2.6"/><rect x="512.5" y="275.6" width="5.6" height="2.6"/><rect x="518.9" y="275.6" width="5.6" height="2.6"/><rect x="525.3" y="275.6" width="5.3" height="2.6"/><rect x="531.4" y="275.6" width="5.0" height="2.6"/><rect x="537.2" y="275.6" width="4.7" height="2.6"/><rect x="542.7" y="275.6" width="4.7" height="2.6"/><rect x="548.2" y="275.6" width="4.6" height="2.6"/><rect x="506.0" y="279.0" width="4.2" height="2.8"/><rect x="506.0" y="282.7" width="4.2" height="2.8"/><rect x="506.0" y="286.3" width="4.2" height="2.8"/><rect x="506.0" y="290.0" width="4.2" height="2.7"/><rect x="506.0" y="293.5" width="4.2" height="2.6"/><rect x="506.0" y="296.9" width="4.2" height="2.5"/><rect x="506.0" y="300.2" width="4.2" height="2.5"/><rect x="506.0" y="303.4" width="4.2" height="2.4"/><rect x="511.0" y="279.0" width="4.3" height="2.3"/><rect x="516.1" y="279.0" width="4.3" height="2.3"/><rect x="521.2" y="279.0" width="4.2" height="2.3"/><rect x="526.2" y="279.0" width="4.2" height="2.3"/><rect x="531.2" y="279.0" width="3.9" height="2.3"/><rect x="535.9" y="279.0" width="3.8" height="2.3"/><rect x="540.5" y="279.0" width="3.7" height="2.3"/><rect x="545.0" y="279.0" width="3.6" height="2.3"/><rect x="549.4" y="279.0" width="3.4" height="2.3"/><rect x="572.4" y="241.5" width="26.5" height="21.4"/><rect x="572.4" y="263.7" width="26.5" height="21.4"/><rect x="599.7" y="241.5" width="26.5" height="14.6"/><rect x="599.7" y="256.9" width="26.5" height="14.6"/><rect x="599.7" y="272.3" width="26.5" height="12.8"/><rect x="627.0" y="241.5" width="22.3" height="14.6"/><rect x="627.0" y="256.9" width="22.3" height="14.6"/><rect x="627.0" y="272.3" width="22.3" height="12.8"/><rect x="650.1" y="241.5" width="24.8" height="10.3"/><rect x="675.7" y="241.5" width="16.3" height="10.3"/><rect x="692.8" y="241.5" width="13.7" height="10.3"/><rect x="707.3" y="241.5" width="10.3" height="10.3"/><rect x="650.1" y="252.6" width="11.2" height="7.8"/><rect x="650.1" y="261.2" width="11.2" height="8.6"/><rect x="650.1" y="270.6" width="11.2" height="6.9"/><rect x="650.1" y="278.3" width="11.2" height="6.8"/><rect x="662.1" y="252.6" width="13.7" height="5.2"/><rect x="676.6" y="252.6" width="10.6" height="5.2"/><rect x="688.0" y="252.6" width="10.0" height="5.2"/><rect x="698.8" y="252.6" width="10.3" height="5.2"/><rect x="709.9" y="252.6" width="7.7" height="5.2"/><rect x="662.1" y="258.6" width="8.5" height="9.4"/><rect x="662.1" y="268.8" width="8.5" height="6.7"/><rect x="662.1" y="276.3" width="8.5" height="4.2"/><rect x="662.1" y="281.2" width="8.5" height="3.9"/><rect x="671.4" y="258.6" width="5.5" height="5.4"/><rect x="671.4" y="264.8" width="5.5" height="4.2"/><rect x="671.4" y="269.8" width="5.5" height="3.0"/><rect x="671.4" y="273.6" width="5.5" height="2.4"/><rect x="671.4" y="276.8" width="5.5" height="2.2"/><rect x="671.4" y="279.8" width="5.5" height="2.2"/><rect x="671.4" y="282.9" width="5.5" height="2.2"/><rect x="677.7" y="258.6" width="4.7" height="2.6"/><rect x="683.2" y="258.6" width="4.6" height="2.6"/><rect x="688.6" y="258.6" width="4.5" height="2.6"/><rect x="693.9" y="258.6" width="4.3" height="2.6"/><rect x="699.0" y="258.6" width="4.1" height="2.6"/><rect x="703.9" y="258.6" width="4.1" height="2.6"/><rect x="708.8" y="258.6" width="4.0" height="2.6"/><rect x="713.6" y="258.6" width="4.0" height="2.6"/><rect x="677.7" y="262.0" width="4.3" height="2.4"/><rect x="677.7" y="265.2" width="4.3" height="2.4"/><rect x="677.7" y="268.4" width="4.3" height="2.3"/><rect x="677.7" y="271.5" width="4.3" height="2.3"/><rect x="572.1" y="327.1" width="19.4" height="24.5"/><rect x="572.1" y="352.4" width="19.4" height="7.3"/><rect x="572.1" y="360.5" width="19.4" height="7.2"/><rect x="592.3" y="327.1" width="17.1" height="8.0"/><rect x="610.2" y="327.1" width="11.7" height="8.0"/><rect x="622.7" y="327.1" width="11.0" height="8.0"/><rect x="634.5" y="327.1" width="10.3" height="8.0"/><rect x="645.6" y="327.1" width="10.0" height="8.0"/><rect x="592.3" y="335.9" width="12.1" height="7.0"/><rect x="592.3" y="343.7" width="12.1" height="5.9"/><rect x="592.3" y="350.4" width="12.1" height="5.0"/><rect x="592.3" y="356.2" width="12.1" height="5.6"/><rect x="592.3" y="362.6" width="12.1" height="5.1"/><rect x="605.2" y="335.9" width="9.3" height="4.3"/><rect x="615.3" y="335.9" width="9.6" height="4.3"/><rect x="625.7" y="335.9" width="9.4" height="4.3"/><rect x="635.9" y="335.9" width="10.1" height="4.3"/><rect x="646.8" y="335.9" width="8.8" height="4.3"/><rect x="605.2" y="341.0" width="7.9" height="6.3"/><rect x="605.2" y="348.1" width="7.9" height="5.8"/><rect x="605.2" y="354.7" width="7.9" height="4.7"/><rect x="605.2" y="360.2" width="7.9" height="3.4"/><rect x="605.2" y="364.4" width="7.9" height="3.3"/><rect x="613.9" y="341.0" width="7.5" height="3.2"/><rect x="622.2" y="341.0" width="5.5" height="3.2"/><rect x="628.5" y="341.0" width="5.4" height="3.2"/><rect x="634.7" y="341.0" width="5.0" height="3.2"/><rect x="640.5" y="341.0" width="4.6" height="3.2"/><rect x="645.9" y="341.0" width="4.6" height="3.2"/><rect x="651.3" y="341.0" width="4.3" height="3.2"/><rect x="613.9" y="345.0" width="4.3" height="2.9"/><rect x="613.9" y="348.7" width="4.3" height="2.7"/><rect x="613.9" y="352.2" width="4.3" height="2.7"/><rect x="613.9" y="355.7" width="4.3" height="2.6"/><rect x="613.9" y="359.1" width="4.3" height="2.6"/><rect x="613.9" y="362.4" width="4.3" height="2.2"/><rect x="613.9" y="365.5" width="4.3" height="2.2"/><rect x="665.4" y="327.1" width="14.4" height="6.8"/><rect x="665.4" y="334.7" width="14.4" height="2.6"/><rect x="680.6" y="327.1" width="7.8" height="5.7"/><rect x="680.6" y="333.6" width="7.8" height="3.7"/><rect x="689.2" y="327.1" width="4.9" height="4.4"/><rect x="689.2" y="332.3" width="4.9" height="2.4"/><rect x="694.9" y="327.1" width="3.7" height="2.4"/><rect x="665.4" y="358.9" width="14.2" height="3.7"/><rect x="665.4" y="363.4" width="14.2" height="4.3"/><rect x="680.4" y="358.9" width="9.2" height="3.7"/><rect x="680.4" y="363.4" width="9.2" height="4.3"/><rect x="690.4" y="358.9" width="5.6" height="4.0"/><rect x="690.4" y="363.7" width="5.6" height="4.0"/><rect x="696.8" y="358.9" width="5.0" height="3.2"/><rect x="696.8" y="362.9" width="5.0" height="2.3"/><rect x="416.9" y="348.1" width="19.8" height="24.3"/><rect x="416.9" y="373.2" width="19.8" height="11.4"/><rect x="416.9" y="385.4" width="19.8" height="8.4"/><rect x="416.9" y="394.6" width="19.8" height="7.8"/><rect x="416.9" y="403.2" width="19.8" height="7.3"/><rect x="437.5" y="348.1" width="11.7" height="11.7"/><rect x="437.5" y="360.6" width="11.7" height="8.2"/><rect x="437.5" y="369.6" width="11.7" height="7.7"/><rect x="437.5" y="378.1" width="11.7" height="8.1"/><rect x="437.5" y="387.0" width="11.7" height="7.3"/><rect x="437.5" y="395.1" width="11.7" height="6.5"/><rect x="437.5" y="402.4" width="11.7" height="8.1"/><rect x="450.0" y="348.1" width="10.2" height="6.8"/><rect x="461.0" y="348.1" width="9.8" height="6.8"/><rect x="471.6" y="348.1" width="10.0" height="6.8"/><rect x="482.4" y="348.1" width="9.5" height="6.8"/><rect x="492.7" y="348.1" width="9.7" height="6.8"/><rect x="503.2" y="348.1" width="9.7" height="6.8"/><rect x="513.7" y="348.1" width="9.8" height="6.8"/><rect x="524.3" y="348.1" width="9.7" height="6.8"/><rect x="450.0" y="355.7" width="9.4" height="5.0"/><rect x="450.0" y="361.5" width="9.4" height="6.1"/><rect x="450.0" y="368.4" width="9.4" height="8.1"/><rect x="450.0" y="377.3" width="9.4" height="7.8"/><rect x="450.0" y="385.9" width="9.4" height="7.6"/><rect x="450.0" y="394.3" width="9.4" height="8.1"/><rect x="450.0" y="403.2" width="9.4" height="7.3"/><rect x="460.2" y="355.7" width="9.8" height="5.7"/><rect x="470.8" y="355.7" width="9.7" height="5.7"/><rect x="481.3" y="355.7" width="8.9" height="5.7"/><rect x="491.0" y="355.7" width="8.6" height="5.7"/><rect x="500.4" y="355.7" width="8.2" height="5.7"/><rect x="509.4" y="355.7" width="8.2" height="5.7"/><rect x="518.4" y="355.7" width="7.2" height="5.7"/><rect x="526.4" y="355.7" width="7.6" height="5.7"/><rect x="460.2" y="362.2" width="19.0" height="6.3"/><rect x="480.0" y="362.2" width="13.3" height="6.3"/><rect x="494.1" y="362.2" width="12.4" height="6.3"/><rect x="507.3" y="362.2" width="7.5" height="6.3"/><rect x="515.6" y="362.2" width="5.8" height="6.3"/><rect x="522.3" y="362.2" width="5.5" height="6.3"/><rect x="528.5" y="362.2" width="5.5" height="6.3"/><rect x="460.2" y="369.3" width="6.5" height="4.6"/><rect x="460.2" y="374.7" width="6.5" height="4.3"/><rect x="460.2" y="379.8" width="6.5" height="4.1"/><rect x="460.2" y="384.7" width="6.5" height="3.8"/><rect x="460.2" y="389.3" width="6.5" height="3.8"/><rect x="460.2" y="393.9" width="6.5" height="3.7"/><rect x="460.2" y="398.4" width="6.5" height="3.6"/><rect x="460.2" y="402.8" width="6.5" height="3.5"/><rect x="460.2" y="407.1" width="6.5" height="3.4"/><rect x="467.5" y="369.3" width="5.7" height="3.8"/><rect x="467.5" y="373.9" width="5.7" height="3.7"/><rect x="467.5" y="378.4" width="5.7" height="3.4"/><rect x="467.5" y="382.6" width="5.7" height="3.2"/><rect x="467.5" y="386.6" width="5.7" height="2.9"/><rect x="467.5" y="390.4" width="5.7" height="2.9"/><rect x="467.5" y="394.0" width="5.7" height="2.7"/><rect x="467.5" y="397.5" width="5.7" height="2.7"/><rect x="467.5" y="401.0" width="5.7" height="2.7"/><rect x="467.5" y="404.5" width="5.7" height="2.6"/><rect x="467.5" y="408.0" width="5.7" height="2.5"/><rect x="474.1" y="369.3" width="5.5" height="2.7"/><rect x="480.3" y="369.3" width="5.4" height="2.7"/><rect x="486.5" y="369.3" width="5.0" height="2.7"/><rect x="492.3" y="369.3" width="4.9" height="2.7"/><rect x="498.0" y="369.3" width="4.8" height="2.7"/><rect x="503.6" y="369.3" width="4.7" height="2.7"/><rect x="509.1" y="369.3" width="4.4" height="2.7"/><rect x="514.4" y="369.3" width="4.4" height="2.7"/><rect x="519.6" y="369.3" width="4.4" height="2.7"/><rect x="524.7" y="369.3" width="4.3" height="2.7"/><rect x="529.8" y="369.3" width="4.2" height="2.7"/><rect x="474.1" y="372.8" width="4.9" height="2.2"/><rect x="479.8" y="372.8" width="4.9" height="2.2"/><rect x="485.5" y="372.8" width="4.5" height="2.2"/><rect x="490.8" y="372.8" width="4.5" height="2.2"/><rect x="496.1" y="372.8" width="4.4" height="2.2"/><rect x="501.3" y="372.8" width="4.3" height="2.2"/><rect x="506.5" y="372.8" width="4.2" height="2.2"/><rect x="511.5" y="372.8" width="3.9" height="2.2"/><rect x="516.2" y="372.8" width="3.9" height="2.2"/><rect x="520.9" y="372.8" width="3.9" height="2.2"/><rect x="525.5" y="372.8" width="3.8" height="2.2"/><rect x="530.2" y="372.8" width="3.8" height="2.2"/><rect x="474.1" y="375.8" width="3.7" height="2.3"/><rect x="474.1" y="378.8" width="3.7" height="2.2"/><rect x="474.1" y="381.9" width="3.7" height="2.2"/><rect x="474.1" y="384.9" width="3.7" height="2.2"/><rect x="474.1" y="388.0" width="3.7" height="2.2"/><rect x="544.1" y="348.1" width="3.7" height="8.9"/><rect x="544.1" y="357.8" width="3.7" height="6.5"/><rect x="548.6" y="348.1" width="3.8" height="8.9"/><rect x="548.6" y="357.8" width="3.8" height="6.5"/><rect x="544.1" y="365.1" width="8.3" height="4.1"/><rect x="544.1" y="370.0" width="8.3" height="2.5"/><rect x="544.1" y="376.1" width="3.9" height="3.2"/><rect x="548.8" y="376.1" width="3.6" height="3.2"/><rect x="544.1" y="380.1" width="4.0" height="2.6"/><rect x="548.9" y="380.1" width="3.5" height="2.6"/><rect x="544.1" y="383.5" width="3.8" height="2.2"/><rect x="548.7" y="383.5" width="3.7" height="2.2"/><rect x="416.9" y="452.6" width="37.7" height="42.5"/><rect x="416.9" y="495.9" width="37.7" height="17.8"/><rect x="455.4" y="452.6" width="24.6" height="24.1"/><rect x="455.4" y="477.5" width="24.6" height="20.0"/><rect x="455.4" y="498.3" width="24.6" height="15.4"/><rect x="480.8" y="452.6" width="18.4" height="12.8"/><rect x="500.0" y="452.6" width="18.3" height="12.8"/><rect x="519.1" y="452.6" width="16.5" height="12.8"/><rect x="536.4" y="452.6" width="16.0" height="12.8"/><rect x="480.8" y="466.2" width="14.3" height="15.1"/><rect x="480.8" y="482.1" width="14.3" height="9.2"/><rect x="480.8" y="492.1" width="14.3" height="6.7"/><rect x="480.8" y="499.6" width="14.3" height="6.8"/><rect x="480.8" y="507.2" width="14.3" height="6.5"/><rect x="495.9" y="466.2" width="11.4" height="8.3"/><rect x="508.1" y="466.2" width="10.5" height="8.3"/><rect x="519.4" y="466.2" width="11.4" height="8.3"/><rect x="531.6" y="466.2" width="9.7" height="8.3"/><rect x="542.1" y="466.2" width="10.3" height="8.3"/><rect x="495.9" y="475.3" width="13.0" height="6.3"/><rect x="509.7" y="475.3" width="10.5" height="6.3"/><rect x="521.0" y="475.3" width="10.6" height="6.3"/><rect x="532.4" y="475.3" width="9.7" height="6.3"/><rect x="542.9" y="475.3" width="9.5" height="6.3"/><rect x="495.9" y="482.4" width="7.4" height="6.1"/><rect x="495.9" y="489.3" width="7.4" height="5.3"/><rect x="495.9" y="495.4" width="7.4" height="4.9"/><rect x="495.9" y="501.0" width="7.4" height="4.5"/><rect x="495.9" y="506.3" width="7.4" height="3.5"/><rect x="495.9" y="510.7" width="7.4" height="3.0"/><rect x="504.1" y="482.4" width="6.0" height="3.4"/><rect x="511.0" y="482.4" width="6.0" height="3.4"/><rect x="517.8" y="482.4" width="5.8" height="3.4"/><rect x="524.4" y="482.4" width="5.3" height="3.4"/><rect x="530.4" y="482.4" width="5.2" height="3.4"/><rect x="536.4" y="482.4" width="5.0" height="3.4"/><rect x="542.2" y="482.4" width="4.8" height="3.4"/><rect x="547.9" y="482.4" width="4.5" height="3.4"/><rect x="504.1" y="486.6" width="4.6" height="3.1"/><rect x="504.1" y="490.4" width="4.6" height="2.9"/><rect x="504.1" y="494.1" width="4.6" height="2.9"/><rect x="504.1" y="497.8" width="4.6" height="2.8"/><rect x="504.1" y="501.4" width="4.6" height="2.6"/><rect x="504.1" y="504.8" width="4.6" height="2.6"/><rect x="504.1" y="508.2" width="4.6" height="2.4"/><rect x="504.1" y="511.4" width="4.6" height="2.3"/><rect x="509.6" y="486.6" width="4.4" height="2.4"/><rect x="514.8" y="486.6" width="4.4" height="2.4"/><rect x="519.9" y="486.6" width="4.3" height="2.4"/><rect x="525.0" y="486.6" width="4.0" height="2.4"/><rect x="529.8" y="486.6" width="4.0" height="2.4"/><rect x="534.7" y="486.6" width="3.9" height="2.4"/><rect x="539.4" y="486.6" width="3.8" height="2.4"/><rect x="544.0" y="486.6" width="3.8" height="2.4"/><rect x="548.6" y="486.6" width="3.8" height="2.4"/><rect x="509.6" y="489.8" width="3.7" height="2.5"/><rect x="509.6" y="493.0" width="3.7" height="2.5"/><rect x="509.6" y="496.3" width="3.7" height="2.4"/><rect x="509.6" y="499.5" width="3.7" height="2.3"/><rect x="509.6" y="502.6" width="3.7" height="2.3"/><rect x="572.3" y="409.5" width="24.3" height="9.3"/><rect x="597.4" y="409.5" width="14.1" height="9.3"/><rect x="612.3" y="409.5" width="10.2" height="9.3"/><rect x="572.3" y="419.6" width="12.2" height="5.9"/><rect x="572.3" y="426.3" width="12.2" height="6.0"/><rect x="572.3" y="433.1" width="12.2" height="4.8"/><rect x="572.3" y="438.7" width="12.2" height="5.6"/><rect x="585.3" y="419.6" width="9.3" height="4.8"/><rect x="595.4" y="419.6" width="8.7" height="4.8"/><rect x="604.9" y="419.6" width="8.8" height="4.8"/><rect x="614.5" y="419.6" width="8.0" height="4.8"/><rect x="585.3" y="425.2" width="8.2" height="4.8"/><rect x="585.3" y="430.8" width="8.2" height="3.7"/><rect x="585.3" y="435.3" width="8.2" height="4.3"/><rect x="585.3" y="440.4" width="8.2" height="3.9"/><rect x="594.3" y="425.2" width="9.5" height="4.2"/><rect x="604.6" y="425.2" width="6.5" height="4.2"/><rect x="611.9" y="425.2" width="5.9" height="4.2"/><rect x="618.5" y="425.2" width="4.0" height="4.2"/><rect x="594.3" y="430.2" width="4.6" height="3.4"/><rect x="594.3" y="434.4" width="4.6" height="3.3"/><rect x="594.3" y="438.5" width="4.6" height="2.7"/><rect x="594.3" y="441.9" width="4.6" height="2.4"/><rect x="599.7" y="430.2" width="4.6" height="2.2"/><rect x="605.1" y="430.2" width="4.2" height="2.2"/><rect x="610.1" y="430.2" width="4.1" height="2.2"/><rect x="615.0" y="430.2" width="3.5" height="2.2"/><rect x="619.3" y="430.2" width="3.2" height="2.2"/><rect x="599.7" y="433.3" width="3.0" height="2.3"/><rect x="599.7" y="436.3" width="3.0" height="2.2"/><rect x="632.5" y="409.5" width="12.7" height="7.4"/><rect x="646.0" y="409.5" width="11.0" height="7.4"/><rect x="657.8" y="409.5" width="7.8" height="7.4"/><rect x="632.5" y="417.7" width="10.4" height="5.0"/><rect x="643.7" y="417.7" width="10.5" height="5.0"/><rect x="655.0" y="417.7" width="10.6" height="5.0"/><rect x="632.5" y="423.5" width="8.2" height="6.2"/><rect x="632.5" y="430.5" width="8.2" height="5.7"/><rect x="632.5" y="437.0" width="8.2" height="3.5"/><rect x="632.5" y="441.3" width="8.2" height="3.0"/><rect x="641.5" y="423.5" width="9.5" height="3.9"/><rect x="651.8" y="423.5" width="7.3" height="3.9"/><rect x="659.9" y="423.5" width="5.7" height="3.9"/><rect x="641.5" y="428.2" width="7.2" height="2.7"/><rect x="649.5" y="428.2" width="6.0" height="2.7"/><rect x="656.3" y="428.2" width="4.3" height="2.7"/><rect x="661.4" y="428.2" width="4.2" height="2.7"/><rect x="641.5" y="431.6" width="3.8" height="2.8"/><rect x="641.5" y="435.2" width="3.8" height="2.8"/><rect x="641.5" y="438.8" width="3.8" height="2.6"/><rect x="572.1" y="486.3" width="13.7" height="9.8"/><rect x="572.1" y="496.9" width="13.7" height="9.7"/><rect x="572.1" y="507.4" width="13.7" height="6.8"/><rect x="586.6" y="486.3" width="12.2" height="6.8"/><rect x="586.6" y="493.9" width="12.2" height="7.3"/><rect x="586.6" y="502.0" width="12.2" height="5.9"/><rect x="586.6" y="508.7" width="12.2" height="5.5"/><rect x="599.6" y="486.3" width="10.5" height="5.4"/><rect x="599.6" y="492.5" width="10.5" height="5.7"/><rect x="599.6" y="499.0" width="10.5" height="4.2"/><rect x="599.6" y="504.0" width="10.5" height="4.6"/><rect x="599.6" y="509.4" width="10.5" height="4.8"/><rect x="610.9" y="486.3" width="11.5" height="3.8"/><rect x="623.2" y="486.3" width="10.5" height="3.8"/><rect x="634.5" y="486.3" width="10.3" height="3.8"/><rect x="645.6" y="486.3" width="9.7" height="3.8"/><rect x="656.1" y="486.3" width="9.3" height="3.8"/><rect x="610.9" y="490.9" width="8.1" height="8.9"/><rect x="610.9" y="500.6" width="8.1" height="4.2"/><rect x="610.9" y="505.6" width="8.1" height="4.2"/><rect x="610.9" y="510.6" width="8.1" height="3.6"/><rect x="619.8" y="490.9" width="5.8" height="4.4"/><rect x="619.8" y="496.1" width="5.8" height="3.5"/><rect x="619.8" y="500.5" width="5.8" height="3.5"/><rect x="619.8" y="504.8" width="5.8" height="2.7"/><rect x="619.8" y="508.2" width="5.8" height="2.7"/><rect x="619.8" y="511.7" width="5.8" height="2.5"/><rect x="626.4" y="490.9" width="4.8" height="3.0"/><rect x="626.4" y="494.7" width="4.8" height="3.0"/><rect x="626.4" y="498.5" width="4.8" height="2.9"/><rect x="626.4" y="502.2" width="4.8" height="2.8"/><rect x="626.4" y="505.9" width="4.8" height="2.6"/><rect x="685.1" y="409.7" width="33.2" height="18.3"/><rect x="685.1" y="428.8" width="16.8" height="23.3"/><rect x="702.7" y="428.8" width="15.6" height="23.3"/><rect x="685.1" y="452.9" width="20.0" height="14.5"/><rect x="705.9" y="452.9" width="12.4" height="14.5"/><rect x="685.1" y="468.2" width="11.9" height="13.0"/><rect x="697.8" y="468.2" width="12.6" height="13.0"/><rect x="711.2" y="468.2" width="7.1" height="13.0"/><rect x="685.1" y="482.0" width="11.9" height="11.9"/><rect x="685.1" y="494.7" width="11.9" height="9.9"/><rect x="685.1" y="505.4" width="11.9" height="8.7"/><rect x="697.8" y="482.0" width="5.8" height="6.6"/><rect x="704.4" y="482.0" width="6.0" height="6.6"/><rect x="711.2" y="482.0" width="7.1" height="6.6"/><rect x="697.8" y="489.4" width="8.2" height="3.6"/><rect x="706.8" y="489.4" width="6.5" height="3.6"/><rect x="714.0" y="489.4" width="4.3" height="3.6"/><rect x="697.8" y="493.8" width="4.9" height="3.1"/><rect x="703.5" y="493.8" width="4.7" height="3.1"/><rect x="709.0" y="493.8" width="4.7" height="3.1"/><rect x="714.4" y="493.8" width="3.9" height="3.1"/></g></svg>
<div class="t" style="left:418.0px;top:113.00px;font-size:10.00px;color:#a03c38;transform:scaleX(0.88);width:35.2px;overflow:hidden;">JPM.N</div>
<div class="t" style="left:451.0px;top:113.00px;font-size:10.00px;color:#b07a75;transform:scaleX(0.88);width:34.1px;overflow:hidden;">HSBA.</div>
<div class="t" style="left:484.0px;top:113.00px;font-size:10.00px;color:#4a0505;transform:scaleX(0.88);width:18.2px;overflow:hidden;">WF</div>
<div class="t" style="left:418.0px;top:129.00px;font-size:10.00px;color:#a03c38;transform:scaleX(0.88);width:20.5px;overflow:hidden;">SAN</div>
<div class="t" style="left:438.5px;top:129.00px;font-size:10.00px;color:#2a0303;transform:scaleX(0.88);width:19.3px;overflow:hidden;">830</div>
<div class="t" style="left:604.0px;top:112.00px;font-size:10.00px;color:#a84a45;transform:scaleX(0.88);width:26.1px;overflow:hidden;">PG.N</div>
<div class="t" style="left:604.0px;top:124.00px;font-size:10.00px;color:#f7beb6;transform:scaleX(0.88);width:26.1px;overflow:hidden;">138,0</div>
<div class="t" style="left:604.0px;top:170.00px;font-size:10.00px;color:#4a6a80;transform:scaleX(0.88);width:27.3px;overflow:hidden;">NESN</div>
<div class="t" style="left:631.0px;top:170.00px;font-size:10.00px;color:#a87a75;transform:scaleX(0.88);width:17.0px;overflow:hidden;">PEP</div>
<div class="t" style="left:604.0px;top:188.00px;font-size:10.00px;color:#a05a55;transform:scaleX(0.88);width:27.3px;overflow:hidden;">KO.N</div>
<div class="t" style="left:418.5px;top:246.00px;font-size:10.00px;color:#9a9595;transform:scaleX(0.88);width:27.3px;overflow:hidden;">JNJ.N</div>
<div class="t" style="left:418.5px;top:258.00px;font-size:10.00px;color:#c8b4b0;transform:scaleX(0.88);width:27.3px;overflow:hidden;">145,4</div>
<div class="t" style="left:445.0px;top:246.00px;font-size:10.00px;color:#a03c38;transform:scaleX(0.88);width:26.1px;overflow:hidden;">PFE.</div>
<div class="t" style="left:418.5px;top:276.00px;font-size:10.00px;color:#1a3a6a;transform:scaleX(0.88);width:27.3px;overflow:hidden;">ROG.</div>
<div class="t" style="left:445.0px;top:266.00px;font-size:10.00px;color:#1a3a6a;transform:scaleX(0.88);width:26.1px;overflow:hidden;">GSK.</div>
<div class="t" style="left:445.0px;top:282.00px;font-size:10.00px;color:#4a6a85;transform:scaleX(0.88);width:26.1px;overflow:hidden;">ABT.I</div>
<div class="t" style="left:418.5px;top:294.00px;font-size:10.00px;color:#4a6a85;transform:scaleX(0.88);width:27.3px;overflow:hidden;">NOVN</div>
<div class="t" style="left:574.0px;top:246.00px;font-size:10.00px;color:#4a6a80;transform:scaleX(0.88);width:27.3px;overflow:hidden;">MSFT</div>
<div class="t" style="left:601.0px;top:246.00px;font-size:10.00px;color:#a88a85;transform:scaleX(0.88);width:28.4px;overflow:hidden;">CSCO</div>
<div class="t" style="left:628.5px;top:246.00px;font-size:10.00px;color:#9a9a9a;transform:scaleX(0.88);width:23.9px;overflow:hidden;">GOOG</div>
<div class="t" style="left:601.0px;top:260.00px;font-size:10.00px;color:#a87a75;transform:scaleX(0.88);width:28.4px;overflow:hidden;">AAPL</div>
<div class="t" style="left:628.5px;top:260.00px;font-size:10.00px;color:#7a1515;transform:scaleX(0.88);width:23.9px;overflow:hidden;">HPQ</div>
<div class="t" style="left:574.0px;top:268.00px;font-size:10.00px;color:#3a5a80;transform:scaleX(0.88);width:28.4px;overflow:hidden;">IBM.N</div>
<div class="t" style="left:573.5px;top:330.00px;font-size:10.00px;color:#b0a5a3;transform:scaleX(0.88);width:20.5px;overflow:hidden;">WM</div>
<div class="t" style="left:573.5px;top:342.00px;font-size:10.00px;color:#d0c0bd;transform:scaleX(0.88);width:20.5px;overflow:hidden;">127,</div>
<div class="t" style="left:418.5px;top:352.00px;font-size:10.00px;color:#3a0303;transform:scaleX(0.88);width:21.6px;overflow:hidden;">GE</div>
<div class="t" style="left:418.5px;top:363.00px;font-size:10.00px;color:#7a1515;transform:scaleX(0.88);width:21.6px;overflow:hidden;">106</div>
<div class="t" style="left:418.5px;top:457.00px;font-size:10.00px;color:#a04a45;transform:scaleX(0.88);width:42.0px;overflow:hidden;">XOM.N</div>
<div class="t" style="left:418.5px;top:468.00px;font-size:10.00px;color:#d08a84;transform:scaleX(0.88);width:42.0px;overflow:hidden;">336,525</div>
<div class="t" style="left:418.5px;top:478.00px;font-size:10.00px;color:#c87a74;transform:scaleX(0.88);width:42.0px;overflow:hidden;">-0.03</div>
<div class="t" style="left:418.5px;top:500.00px;font-size:10.00px;color:#a04a45;transform:scaleX(0.88);width:42.0px;overflow:hidden;">CVX.N</div>
<div class="t" style="left:457.0px;top:457.00px;font-size:10.00px;color:#a08a88;transform:scaleX(0.88);width:26.1px;overflow:hidden;">BP.L</div>
<div class="t" style="left:457.0px;top:468.00px;font-size:10.00px;color:#d0bcb8;transform:scaleX(0.88);width:26.1px;overflow:hidden;">126,8</div>
<div class="t" style="left:457.0px;top:480.00px;font-size:10.00px;color:#8a2a25;transform:scaleX(0.88);width:26.1px;overflow:hidden;">TOTF</div>
<div class="t" style="left:457.0px;top:502.00px;font-size:10.00px;color:#a04a45;transform:scaleX(0.88);width:26.1px;overflow:hidden;">RDSa</div>
<div class="t" style="left:482.5px;top:457.00px;font-size:10.00px;color:#a04a45;transform:scaleX(0.88);width:19.3px;overflow:hidden;">COP</div>
<div class="t" style="left:686.5px;top:414.00px;font-size:10.00px;color:#a04a45;transform:scaleX(0.88);width:18.2px;overflow:hidden;">T.N</div>
<div class="t" style="left:686.5px;top:458.00px;font-size:10.00px;color:#9a9a9a;transform:scaleX(0.88);width:20.5px;overflow:hidden;">TEF</div>
<div class="a" style="left:403.9px;top:262.9px;width:3.3px;height:38.1px;background:#5ec8cc;border-radius:2px;"></div>
<div class="a" style="left:727.5px;top:262.9px;width:3.3px;height:38.1px;background:#5ec8cc;border-radius:2px;"></div>
<div class="a" style="left:404.4px;top:514.6px;width:2.6px;height:12.0px;background:#5ec8cc;border-radius:1.5px;"></div>
<div class="a" style="left:404.4px;top:524.0px;width:11.9px;height:2.6px;background:#5ec8cc;border-radius:1.5px;"></div>
<div class="a" style="left:548.8px;top:524.0px;width:38.0px;height:2.8px;background:#5ec8cc;border-radius:1.5px;"></div>
<div class="a" style="left:727.8px;top:514.6px;width:2.6px;height:12.0px;background:#5ec8cc;border-radius:1.5px;"></div>
<div class="a" style="left:718.5px;top:524.0px;width:11.9px;height:2.6px;background:#5ec8cc;border-radius:1.5px;"></div>
</body></html>
